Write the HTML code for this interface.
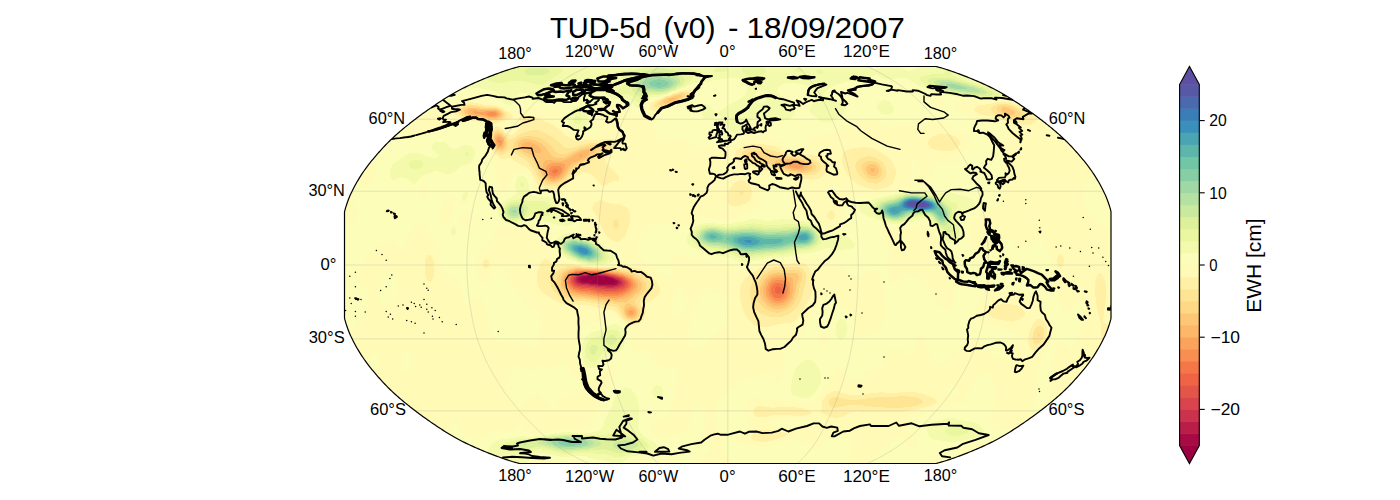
<!DOCTYPE html>
<html><head><meta charset="utf-8"><title>TUD-5d (v0) - 18/09/2007</title>
<style>
html,body{margin:0;padding:0;background:#fff;}
body{width:1400px;height:500px;overflow:hidden;}
svg{display:block;}
text{font-family:"Liberation Sans",sans-serif;fill:#000;}
</style></head><body>
<svg width="1400" height="500" viewBox="0 0 1400 500">
<defs><clipPath id="mapclip"><path d="M936.09,463.50 L937.44,463.16 L938.85,462.78 L940.30,462.38 L941.81,461.95 L943.36,461.48 L944.95,460.99 L946.59,460.47 L948.27,459.93 L949.99,459.35 L951.74,458.76 L953.54,458.13 L955.36,457.48 L957.22,456.81 L959.11,456.11 L961.02,455.39 L962.96,454.65 L964.93,453.89 L966.92,453.10 L968.93,452.30 L970.96,451.47 L973.01,450.63 L975.06,449.77 L977.13,448.89 L979.19,447.99 L981.25,447.08 L983.30,446.16 L985.33,445.23 L987.34,444.29 L989.32,443.34 L991.27,442.38 L993.18,441.41 L995.06,440.44 L996.90,439.46 L998.71,438.48 L1000.49,437.49 L1002.24,436.49 L1003.97,435.49 L1005.68,434.48 L1007.37,433.46 L1009.04,432.43 L1010.70,431.41 L1012.35,430.37 L1013.98,429.33 L1015.60,428.28 L1017.21,427.23 L1018.81,426.17 L1020.41,425.10 L1021.99,424.03 L1023.56,422.95 L1025.13,421.87 L1026.69,420.79 L1028.24,419.70 L1029.78,418.60 L1031.32,417.51 L1032.84,416.40 L1034.36,415.29 L1035.87,414.18 L1037.38,413.06 L1038.87,411.94 L1040.35,410.82 L1041.82,409.69 L1043.29,408.56 L1044.74,407.42 L1046.18,406.28 L1047.61,405.14 L1049.03,403.99 L1050.44,402.84 L1051.84,401.68 L1053.22,400.53 L1054.60,399.36 L1055.96,398.20 L1057.30,397.03 L1058.64,395.86 L1059.95,394.69 L1061.25,393.51 L1062.54,392.34 L1063.80,391.15 L1065.04,389.97 L1066.27,388.78 L1067.47,387.59 L1068.65,386.40 L1069.82,385.21 L1070.96,384.01 L1072.08,382.81 L1073.19,381.61 L1074.28,380.41 L1075.37,379.21 L1076.44,378.00 L1077.50,376.79 L1078.55,375.58 L1079.59,374.37 L1080.63,373.16 L1081.66,371.95 L1082.68,370.73 L1083.69,369.52 L1084.68,368.30 L1085.66,367.08 L1086.62,365.86 L1087.56,364.64 L1088.49,363.42 L1089.40,362.19 L1090.28,360.97 L1091.15,359.74 L1092.00,358.52 L1092.83,357.29 L1093.64,356.06 L1094.44,354.84 L1095.22,353.61 L1095.99,352.38 L1096.75,351.15 L1097.49,349.92 L1098.22,348.69 L1098.94,347.46 L1099.64,346.23 L1100.32,345.00 L1100.99,343.77 L1101.65,342.54 L1102.29,341.30 L1102.91,340.07 L1103.52,338.84 L1104.11,337.61 L1104.68,336.38 L1105.23,335.15 L1105.77,333.92 L1106.28,332.69 L1106.78,331.46 L1107.27,330.23 L1107.73,329.00 L1108.18,327.77 L1108.61,326.53 L1109.02,325.30 L1109.41,324.07 L1109.80,322.84 L1110.16,321.61 L1110.52,320.38 L1110.87,319.15 L1111.00,317.92 L1111.00,316.69 L1111.00,315.46 L1111.00,314.23 L1111.00,313.00 L1111.00,311.77 L1111.00,310.54 L1111.00,309.31 L1111.00,308.07 L1111.00,306.84 L1111.00,305.61 L1111.00,304.38 L1111.00,303.15 L1111.00,301.92 L1111.00,300.69 L1111.00,299.46 L1111.00,298.23 L1111.00,297.00 L1111.00,295.77 L1111.00,294.54 L1111.00,293.31 L1111.00,292.08 L1111.00,290.84 L1111.00,289.61 L1111.00,288.38 L1111.00,287.15 L1111.00,285.92 L1111.00,284.69 L1111.00,283.46 L1111.00,282.23 L1111.00,281.00 L1111.00,279.77 L1111.00,278.54 L1111.00,277.31 L1111.00,276.08 L1111.00,274.85 L1111.00,273.61 L1111.00,272.38 L1111.00,271.15 L1111.00,269.92 L1111.00,268.69 L1111.00,267.46 L1111.00,266.23 L1111.00,265.00 L1111.00,263.77 L1111.00,262.54 L1111.00,261.31 L1111.00,260.08 L1111.00,258.85 L1111.00,257.62 L1111.00,256.39 L1111.00,255.15 L1111.00,253.92 L1111.00,252.69 L1111.00,251.46 L1111.00,250.23 L1111.00,249.00 L1111.00,247.77 L1111.00,246.54 L1111.00,245.31 L1111.00,244.08 L1111.00,242.85 L1111.00,241.62 L1111.00,240.39 L1111.00,239.16 L1111.00,237.92 L1111.00,236.69 L1111.00,235.46 L1111.00,234.23 L1111.00,233.00 L1111.00,231.77 L1111.00,230.54 L1111.00,229.31 L1111.00,228.08 L1111.00,226.85 L1111.00,225.62 L1111.00,224.39 L1111.00,223.16 L1111.00,221.93 L1111.00,220.69 L1111.00,219.46 L1111.00,218.23 L1111.00,217.00 L1111.00,215.77 L1111.00,214.54 L1111.00,213.31 L1111.00,212.08 L1110.87,210.85 L1110.52,209.62 L1110.16,208.39 L1109.80,207.16 L1109.41,205.93 L1109.02,204.70 L1108.61,203.47 L1108.18,202.23 L1107.73,201.00 L1107.27,199.77 L1106.78,198.54 L1106.28,197.31 L1105.77,196.08 L1105.23,194.85 L1104.68,193.62 L1104.11,192.39 L1103.52,191.16 L1102.91,189.93 L1102.29,188.70 L1101.65,187.46 L1100.99,186.23 L1100.32,185.00 L1099.64,183.77 L1098.94,182.54 L1098.22,181.31 L1097.49,180.08 L1096.75,178.85 L1095.99,177.62 L1095.22,176.39 L1094.44,175.16 L1093.64,173.94 L1092.83,172.71 L1092.00,171.48 L1091.15,170.26 L1090.28,169.03 L1089.40,167.81 L1088.49,166.58 L1087.56,165.36 L1086.62,164.14 L1085.66,162.92 L1084.68,161.70 L1083.69,160.48 L1082.68,159.27 L1081.66,158.05 L1080.63,156.84 L1079.59,155.63 L1078.55,154.42 L1077.50,153.21 L1076.44,152.00 L1075.37,150.79 L1074.28,149.59 L1073.19,148.39 L1072.08,147.19 L1070.96,145.99 L1069.82,144.79 L1068.65,143.60 L1067.47,142.41 L1066.27,141.22 L1065.04,140.03 L1063.80,138.85 L1062.54,137.66 L1061.25,136.49 L1059.95,135.31 L1058.64,134.14 L1057.30,132.97 L1055.96,131.80 L1054.60,130.64 L1053.22,129.47 L1051.84,128.32 L1050.44,127.16 L1049.03,126.01 L1047.61,124.86 L1046.18,123.72 L1044.74,122.58 L1043.29,121.44 L1041.82,120.31 L1040.35,119.18 L1038.87,118.06 L1037.38,116.94 L1035.87,115.82 L1034.36,114.71 L1032.84,113.60 L1031.32,112.49 L1029.78,111.40 L1028.24,110.30 L1026.69,109.21 L1025.13,108.13 L1023.56,107.05 L1021.99,105.97 L1020.41,104.90 L1018.81,103.83 L1017.21,102.77 L1015.60,101.72 L1013.98,100.67 L1012.35,99.63 L1010.70,98.59 L1009.04,97.57 L1007.37,96.54 L1005.68,95.52 L1003.97,94.51 L1002.24,93.51 L1000.49,92.51 L998.71,91.52 L996.90,90.54 L995.06,89.56 L993.18,88.59 L991.27,87.62 L989.32,86.66 L987.34,85.71 L985.33,84.77 L983.30,83.84 L981.25,82.92 L979.19,82.01 L977.13,81.11 L975.06,80.23 L973.01,79.37 L970.96,78.53 L968.93,77.70 L966.92,76.90 L964.93,76.11 L962.96,75.35 L961.02,74.61 L959.11,73.89 L957.22,73.19 L955.36,72.52 L953.54,71.87 L951.74,71.24 L949.99,70.65 L948.27,70.07 L946.59,69.53 L944.95,69.01 L943.36,68.52 L941.81,68.05 L940.30,67.62 L938.85,67.22 L937.44,66.84 L936.09,66.50 L519.51,66.50 L518.16,66.84 L516.75,67.22 L515.30,67.62 L513.79,68.05 L512.24,68.52 L510.65,69.01 L509.01,69.53 L507.33,70.07 L505.61,70.65 L503.86,71.24 L502.06,71.87 L500.24,72.52 L498.38,73.19 L496.49,73.89 L494.58,74.61 L492.64,75.35 L490.67,76.11 L488.68,76.90 L486.67,77.70 L484.64,78.53 L482.59,79.37 L480.54,80.23 L478.47,81.11 L476.41,82.01 L474.35,82.92 L472.30,83.84 L470.27,84.77 L468.26,85.71 L466.28,86.66 L464.33,87.62 L462.42,88.59 L460.54,89.56 L458.70,90.54 L456.89,91.52 L455.11,92.51 L453.36,93.51 L451.63,94.51 L449.92,95.52 L448.23,96.54 L446.56,97.57 L444.90,98.59 L443.25,99.63 L441.62,100.67 L440.00,101.72 L438.39,102.77 L436.79,103.83 L435.19,104.90 L433.61,105.97 L432.04,107.05 L430.47,108.13 L428.91,109.21 L427.36,110.30 L425.82,111.40 L424.28,112.49 L422.76,113.60 L421.24,114.71 L419.73,115.82 L418.22,116.94 L416.73,118.06 L415.25,119.18 L413.78,120.31 L412.31,121.44 L410.86,122.58 L409.42,123.72 L407.99,124.86 L406.57,126.01 L405.16,127.16 L403.76,128.32 L402.38,129.47 L401.00,130.64 L399.64,131.80 L398.30,132.97 L396.96,134.14 L395.65,135.31 L394.35,136.49 L393.06,137.66 L391.80,138.85 L390.56,140.03 L389.33,141.22 L388.13,142.41 L386.95,143.60 L385.78,144.79 L384.64,145.99 L383.52,147.19 L382.41,148.39 L381.32,149.59 L380.23,150.79 L379.16,152.00 L378.10,153.21 L377.05,154.42 L376.01,155.63 L374.97,156.84 L373.94,158.05 L372.92,159.27 L371.91,160.48 L370.92,161.70 L369.94,162.92 L368.98,164.14 L368.04,165.36 L367.11,166.58 L366.20,167.81 L365.32,169.03 L364.45,170.26 L363.60,171.48 L362.77,172.71 L361.96,173.94 L361.16,175.16 L360.38,176.39 L359.61,177.62 L358.85,178.85 L358.11,180.08 L357.38,181.31 L356.66,182.54 L355.96,183.77 L355.28,185.00 L354.61,186.23 L353.95,187.46 L353.31,188.70 L352.69,189.93 L352.08,191.16 L351.49,192.39 L350.92,193.62 L350.37,194.85 L349.83,196.08 L349.32,197.31 L348.82,198.54 L348.33,199.77 L347.87,201.00 L347.42,202.23 L346.99,203.47 L346.58,204.70 L346.19,205.93 L345.80,207.16 L345.44,208.39 L345.08,209.62 L344.73,210.85 L344.50,212.08 L344.50,213.31 L344.50,214.54 L344.50,215.77 L344.50,217.00 L344.50,218.23 L344.50,219.46 L344.50,220.69 L344.50,221.93 L344.50,223.16 L344.50,224.39 L344.50,225.62 L344.50,226.85 L344.50,228.08 L344.50,229.31 L344.50,230.54 L344.50,231.77 L344.50,233.00 L344.50,234.23 L344.50,235.46 L344.50,236.69 L344.50,237.92 L344.50,239.16 L344.50,240.39 L344.50,241.62 L344.50,242.85 L344.50,244.08 L344.50,245.31 L344.50,246.54 L344.50,247.77 L344.50,249.00 L344.50,250.23 L344.50,251.46 L344.50,252.69 L344.50,253.92 L344.50,255.15 L344.50,256.39 L344.50,257.62 L344.50,258.85 L344.50,260.08 L344.50,261.31 L344.50,262.54 L344.50,263.77 L344.50,265.00 L344.50,266.23 L344.50,267.46 L344.50,268.69 L344.50,269.92 L344.50,271.15 L344.50,272.38 L344.50,273.61 L344.50,274.85 L344.50,276.08 L344.50,277.31 L344.50,278.54 L344.50,279.77 L344.50,281.00 L344.50,282.23 L344.50,283.46 L344.50,284.69 L344.50,285.92 L344.50,287.15 L344.50,288.38 L344.50,289.61 L344.50,290.84 L344.50,292.08 L344.50,293.31 L344.50,294.54 L344.50,295.77 L344.50,297.00 L344.50,298.23 L344.50,299.46 L344.50,300.69 L344.50,301.92 L344.50,303.15 L344.50,304.38 L344.50,305.61 L344.50,306.84 L344.50,308.07 L344.50,309.31 L344.50,310.54 L344.50,311.77 L344.50,313.00 L344.50,314.23 L344.50,315.46 L344.50,316.69 L344.50,317.92 L344.73,319.15 L345.08,320.38 L345.44,321.61 L345.80,322.84 L346.19,324.07 L346.58,325.30 L346.99,326.53 L347.42,327.77 L347.87,329.00 L348.33,330.23 L348.82,331.46 L349.32,332.69 L349.83,333.92 L350.37,335.15 L350.92,336.38 L351.49,337.61 L352.08,338.84 L352.69,340.07 L353.31,341.30 L353.95,342.54 L354.61,343.77 L355.28,345.00 L355.96,346.23 L356.66,347.46 L357.38,348.69 L358.11,349.92 L358.85,351.15 L359.61,352.38 L360.38,353.61 L361.16,354.84 L361.96,356.06 L362.77,357.29 L363.60,358.52 L364.45,359.74 L365.32,360.97 L366.20,362.19 L367.11,363.42 L368.04,364.64 L368.98,365.86 L369.94,367.08 L370.92,368.30 L371.91,369.52 L372.92,370.73 L373.94,371.95 L374.97,373.16 L376.01,374.37 L377.05,375.58 L378.10,376.79 L379.16,378.00 L380.23,379.21 L381.32,380.41 L382.41,381.61 L383.52,382.81 L384.64,384.01 L385.78,385.21 L386.95,386.40 L388.13,387.59 L389.33,388.78 L390.56,389.97 L391.80,391.15 L393.06,392.34 L394.35,393.51 L395.65,394.69 L396.96,395.86 L398.30,397.03 L399.64,398.20 L401.00,399.36 L402.38,400.53 L403.76,401.68 L405.16,402.84 L406.57,403.99 L407.99,405.14 L409.42,406.28 L410.86,407.42 L412.31,408.56 L413.78,409.69 L415.25,410.82 L416.73,411.94 L418.22,413.06 L419.73,414.18 L421.24,415.29 L422.76,416.40 L424.28,417.51 L425.82,418.60 L427.36,419.70 L428.91,420.79 L430.47,421.87 L432.04,422.95 L433.61,424.03 L435.19,425.10 L436.79,426.17 L438.39,427.23 L440.00,428.28 L441.62,429.33 L443.25,430.37 L444.90,431.41 L446.56,432.43 L448.23,433.46 L449.92,434.48 L451.63,435.49 L453.36,436.49 L455.11,437.49 L456.89,438.48 L458.70,439.46 L460.54,440.44 L462.42,441.41 L464.33,442.38 L466.28,443.34 L468.26,444.29 L470.27,445.23 L472.30,446.16 L474.35,447.08 L476.41,447.99 L478.47,448.89 L480.54,449.77 L482.59,450.63 L484.64,451.47 L486.67,452.30 L488.68,453.10 L490.67,453.89 L492.64,454.65 L494.58,455.39 L496.49,456.11 L498.38,456.81 L500.24,457.48 L502.06,458.13 L503.86,458.76 L505.61,459.35 L507.33,459.93 L509.01,460.47 L510.65,460.99 L512.24,461.48 L513.79,461.95 L515.30,462.38 L516.75,462.78 L518.16,463.16 L519.51,463.50Z"/></clipPath></defs>
<rect x="0" y="0" width="1400" height="500" fill="#fff"/>
<g clip-path="url(#mapclip)">
<rect x="340" y="60" width="780" height="410" fill="#fffab6"/>
<path d="M434,64 436,63 438,63 440,62 442,63 444,63 446,64 447,64 448,64 450,65 452,65 454,66 454,66 456,66 458,67 460,67 462,67 464,67 466,67 468,67 470,66 471,66 472,66 474,65 476,65 478,64 478,64 480,63 482,63 484,62 484,62 486,62 488,62 490,62 492,62 494,62 496,62 498,62 500,62 502,62 504,62 506,62 508,62 510,62 512,62 514,62 516,62 518,62 520,62 522,62 524,62 526,62 528,62 530,62 532,62 534,62 536,62 538,62 540,62 542,62 544,62 546,62 548,62 550,62 552,62 554,62 556,62 558,62 560,62 562,62 564,62 566,62 568,62 570,62 572,62 574,62 576,62 578,62 580,62 582,62 584,62 586,62 588,62 590,62 592,62 594,62 596,62 598,62 600,62 602,62 604,62 606,62 608,62 610,62 612,62 614,62 616,62 618,62 620,62 622,62 624,62 626,62 628,62 630,62 632,62 634,62 636,62 638,62 640,62 642,62 644,62 646,62 648,62 650,62 652,62 654,62 656,62 658,62 660,62 662,62 664,62 666,62 668,62 670,62 672,62 674,62 676,62 678,62 680,62 682,62 684,62 686,62 688,62 690,62 692,62 694,62 696,62 698,62 700,62 702,62 704,62 706,62 708,62 710,62 712,62 714,62 716,62 718,62 720,62 722,62 724,62 726,62 728,62 730,62 732,62 734,62 736,62 738,62 740,62 742,62 744,62 746,62 748,62 750,62 752,62 754,62 756,62 758,62 760,62 762,62 764,62 766,62 768,62 770,62 772,62 774,62 776,62 778,62 780,62 782,62 784,62 786,62 788,62 790,62 792,62 794,62 796,62 798,62 800,62 802,62 804,62 806,62 808,62 810,62 812,62 814,62 816,62 818,62 820,62 822,62 824,62 826,62 828,62 830,62 832,62 834,62 836,62 838,62 840,62 842,62 844,62 846,62 848,62 850,62 852,62 854,62 856,62 858,62 860,62 862,62 864,62 866,62 868,62 870,62 872,62 874,62 876,62 878,62 880,62 882,62 884,62 886,62 888,62 890,62 892,62 894,62 896,62 898,62 900,62 902,62 904,62 906,62 908,62 910,62 912,62 914,62 916,62 918,62 920,62 922,62 924,62 926,62 928,62 930,62 932,62 934,62 936,62 938,62 940,62 942,62 944,62 946,62 948,62 950,62 952,62 954,62 956,62 958,62 960,62 962,62 964,62 966,62 968,62 970,62 972,62 974,62 976,62 978,62 980,62 982,62 984,62 986,62 988,62 990,62 992,62 994,62 996,62 998,62 1000,62 1002,62 1004,62 1006,62 1008,62 1010,62 1012,62 1014,62 1016,62 1018,62 1020,62 1022,62 1024,62 1026,62 1028,62 1030,62 1032,62 1033,62 1034,63 1034,64 1036,66 1036,67 1036,68 1036,70 1036,71 1036,72 1036,74 1035,76 1035,78 1034,80 1034,80 1033,82 1032,82 1030,84 1030,84 1028,85 1026,86 1026,86 1024,87 1023,88 1022,89 1021,90 1020,92 1020,94 1020,94 1020,96 1019,98 1018,100 1018,100 1016,101 1014,101 1012,101 1010,100 1008,100 1006,100 1004,100 1002,100 1000,100 998,101 996,101 994,101 992,101 990,101 988,101 986,101 984,101 982,101 980,101 978,101 976,101 974,101 972,101 970,101 968,101 966,101 964,101 962,101 960,101 958,102 958,102 956,104 955,104 955,106 956,108 956,108 958,110 958,110 960,111 961,112 962,113 964,114 965,114 966,115 968,116 969,116 970,116 972,117 974,118 974,118 976,119 978,119 980,120 980,120 982,121 984,121 986,121 988,121 990,121 992,122 994,122 994,122 996,123 998,123 1000,124 1001,124 1002,124 1004,125 1005,126 1006,127 1008,128 1008,129 1008,130 1008,132 1008,133 1008,134 1007,136 1006,138 1006,138 1005,140 1004,142 1004,142 1003,144 1002,146 1002,148 1002,148 1002,150 1002,152 1002,154 1002,155 1002,156 1003,158 1003,160 1004,162 1004,162 1004,164 1005,166 1005,168 1005,170 1005,172 1005,174 1005,176 1004,178 1004,180 1004,182 1004,182 1004,184 1003,186 1003,188 1003,190 1003,192 1003,194 1003,196 1002,198 1002,200 1002,200 1001,202 1000,203 999,204 998,205 996,205 995,206 994,207 993,208 992,209 991,210 990,211 989,212 988,213 987,214 986,214 984,216 983,216 982,217 980,217 978,218 978,218 976,219 974,219 973,220 972,221 971,222 970,224 970,224 970,226 970,228 970,230 970,230 970,232 970,234 970,236 970,238 970,239 970,240 970,242 970,242 970,244 971,246 972,247 973,248 974,249 976,250 976,250 978,252 978,252 980,254 980,254 982,256 982,257 983,258 983,260 984,262 984,264 984,266 984,268 983,270 983,272 983,274 984,276 984,278 984,280 984,281 984,282 985,284 985,286 985,288 985,290 984,292 984,293 983,294 982,296 982,296 981,298 980,300 980,300 979,302 978,304 978,305 978,306 977,308 977,310 976,312 976,314 976,316 977,318 977,320 978,322 978,322 980,324 980,324 982,325 984,326 986,326 988,326 990,326 992,326 994,326 996,326 998,326 998,326 1000,326 1002,327 1004,327 1006,328 1007,328 1008,329 1010,330 1011,330 1012,331 1014,332 1014,332 1016,334 1016,335 1016,336 1017,338 1017,340 1017,342 1016,344 1016,345 1016,346 1015,348 1014,349 1013,350 1012,352 1012,352 1010,354 1010,354 1008,355 1007,356 1006,357 1004,358 1004,358 1002,359 1000,359 998,359 996,359 994,358 994,358 992,357 991,356 990,355 989,354 988,353 987,352 986,351 985,350 984,349 983,348 982,347 982,346 980,344 980,344 978,342 978,341 977,340 976,339 974,339 972,339 970,340 970,340 968,341 967,342 966,343 964,344 964,344 962,346 962,346 960,348 960,348 958,350 958,350 957,352 956,353 955,354 954,355 952,356 952,356 950,358 950,358 948,359 946,360 946,360 944,361 943,362 942,362 940,363 938,363 936,363 935,362 934,361 933,360 932,359 931,358 930,356 930,356 929,354 928,352 928,352 927,350 927,348 926,346 926,345 926,344 925,342 925,340 924,338 924,337 924,336 923,334 922,333 921,332 920,331 919,332 918,332 917,334 916,336 916,337 916,338 915,340 915,342 915,344 915,346 914,348 914,349 914,350 913,352 912,354 912,354 910,356 908,356 908,356 908,356 906,355 905,354 904,353 903,352 902,351 900,350 900,350 898,349 896,349 894,349 892,349 891,350 890,351 888,352 888,353 887,354 886,356 886,356 885,358 884,360 884,361 884,362 883,364 882,365 881,366 880,367 879,368 878,368 876,369 874,370 873,370 872,370 870,371 868,372 868,372 866,374 866,374 865,376 864,377 863,378 862,380 862,380 860,381 859,382 858,382 856,383 854,382 853,382 852,381 850,380 850,380 849,378 848,377 847,376 846,374 846,374 845,372 844,371 843,370 842,369 840,368 838,368 836,370 836,370 835,372 834,373 834,374 833,376 832,378 832,378 831,380 830,382 830,383 829,384 828,386 828,386 826,388 826,388 824,390 824,391 823,392 822,393 821,394 820,396 820,396 818,398 818,398 817,400 816,401 815,402 814,402 812,403 810,404 808,404 806,404 804,404 802,403 800,403 798,403 796,402 794,402 793,402 792,402 790,402 788,401 786,401 784,400 782,400 780,400 780,400 778,400 777,400 776,400 774,400 772,400 770,400 768,400 767,400 766,400 764,399 762,399 760,398 760,398 758,397 756,397 754,397 752,398 752,398 750,399 749,400 748,401 748,402 746,404 746,405 745,406 745,408 745,410 745,412 745,414 746,416 746,416 747,418 748,419 748,420 749,422 750,424 749,426 749,428 748,429 747,430 746,431 745,432 744,433 743,434 742,435 740,436 740,437 739,438 738,440 740,442 740,442 742,443 744,443 746,444 748,444 748,444 750,444 752,445 754,445 756,446 758,446 758,446 760,447 762,447 764,447 766,447 768,446 769,446 770,446 772,445 774,444 774,444 776,444 778,443 780,442 781,442 782,442 784,441 786,441 788,441 790,440 792,440 792,440 794,440 796,440 798,440 798,440 800,440 802,441 804,441 806,442 806,442 808,443 809,444 810,445 811,446 812,448 812,448 814,450 814,450 816,451 817,450 818,450 819,448 820,447 821,446 822,444 822,444 824,442 824,442 826,440 827,440 828,440 830,439 832,438 834,438 834,438 836,438 838,437 840,437 842,436 842,436 844,435 846,434 847,434 848,434 850,433 852,434 852,434 853,436 854,438 853,440 853,442 852,444 852,445 852,446 851,448 850,450 850,451 850,452 849,454 849,456 849,458 848,460 848,462 848,464 848,466 848,468 848,468 846,468 844,468 842,468 840,468 838,468 836,468 834,468 832,468 830,468 828,468 826,468 824,468 822,468 820,468 818,468 816,468 814,468 812,468 810,468 808,468 806,468 804,468 802,468 800,468 798,468 796,468 794,468 792,468 790,468 788,468 786,468 784,468 782,468 780,468 778,468 776,468 774,468 772,468 770,468 768,468 766,468 764,468 762,468 760,468 758,468 756,468 754,468 752,468 750,468 748,468 746,468 744,468 742,468 740,468 738,468 736,468 734,468 732,468 732,468 732,466 731,464 731,462 730,460 730,459 729,458 728,456 728,456 726,454 726,454 724,452 724,452 723,450 722,448 723,446 724,444 724,442 724,442 724,442 724,440 723,438 722,437 721,436 720,434 720,433 719,432 719,430 718,428 718,428 717,426 717,424 716,422 716,421 716,420 715,418 715,416 715,414 715,412 715,410 715,408 715,406 715,404 716,403 716,402 717,400 718,399 719,398 720,397 721,396 722,395 723,394 724,393 725,392 726,391 728,390 728,390 730,388 730,388 732,386 732,386 734,384 734,384 736,382 737,382 738,381 740,380 740,380 742,379 744,378 746,378 748,378 748,378 750,378 752,378 754,377 756,377 757,376 758,376 760,374 761,374 762,374 764,373 766,373 768,373 769,374 770,374 772,376 772,376 773,378 774,379 775,380 776,381 778,382 780,381 780,380 781,378 782,376 782,376 783,374 783,372 783,370 783,368 783,366 783,364 783,362 783,360 783,358 783,356 782,354 782,354 782,352 781,350 780,348 780,347 780,346 780,344 780,343 780,342 782,340 782,340 784,340 786,340 786,340 788,341 790,341 792,342 794,341 796,341 797,340 798,339 799,338 800,337 801,336 802,335 802,334 803,332 804,331 805,330 806,328 806,327 807,326 807,324 808,323 808,322 809,320 810,318 810,318 811,316 812,314 812,314 813,312 814,310 814,310 815,308 816,307 816,306 818,304 818,303 819,302 820,300 820,300 822,298 822,298 824,296 824,296 826,295 828,296 829,296 830,297 832,298 832,298 834,300 834,300 836,302 836,302 838,304 838,304 840,305 841,306 842,307 844,308 844,308 846,309 847,310 848,311 849,312 850,313 851,314 852,316 852,317 852,318 853,320 853,322 854,324 854,326 854,328 854,329 854,330 854,332 855,334 855,336 856,337 857,338 858,338 860,338 860,338 862,337 864,336 865,336 866,335 868,335 870,334 870,334 872,334 874,333 876,332 876,332 878,331 879,330 880,329 880,328 881,326 882,325 882,324 883,322 884,320 884,320 884,318 885,316 885,314 886,312 886,310 886,308 886,306 886,304 885,302 885,300 885,298 885,296 884,294 884,292 884,292 884,290 883,288 883,286 882,285 882,284 881,282 880,280 880,279 879,278 878,276 878,276 877,274 876,273 875,272 874,272 872,271 870,271 868,272 868,272 866,273 864,274 864,274 862,275 861,276 860,277 858,278 857,278 856,278 854,279 852,278 852,278 850,277 849,276 848,275 848,274 846,272 846,272 845,270 844,269 844,268 842,266 842,266 840,265 839,264 838,264 836,263 834,262 834,262 832,261 830,261 828,260 827,260 826,260 824,259 822,259 820,259 818,259 816,259 814,259 812,258 810,258 808,258 807,258 806,258 804,258 802,258 800,258 798,258 798,258 796,258 794,259 792,259 790,260 789,260 788,260 786,260 784,261 782,261 780,261 778,261 776,261 774,261 772,261 770,261 768,261 766,262 766,262 764,262 762,263 760,264 758,264 758,264 756,265 754,265 752,266 752,266 750,267 748,267 746,268 745,268 744,268 742,269 740,269 738,268 737,268 736,268 734,267 732,266 732,266 730,265 728,265 726,265 724,264 722,264 720,264 718,264 716,264 714,264 712,264 712,264 710,263 708,262 707,262 706,262 704,261 703,260 702,260 700,259 698,259 696,258 694,258 692,258 690,258 688,258 688,258 686,258 684,257 683,256 682,256 680,255 678,254 676,254 674,256 674,256 673,258 672,260 672,260 671,262 672,264 672,266 672,268 672,268 672,270 673,272 672,274 672,275 670,276 670,276 668,276 667,276 666,276 664,275 662,275 661,274 660,274 658,273 657,272 656,271 655,270 654,270 652,268 652,268 650,266 650,266 648,264 647,264 646,263 645,262 644,261 642,260 642,260 641,258 640,257 639,256 639,254 638,252 638,250 638,248 638,246 638,244 639,242 639,240 640,238 640,237 641,236 641,234 642,233 643,232 644,230 644,230 646,228 646,228 648,226 649,226 650,225 652,225 654,225 656,224 658,224 658,224 660,224 662,223 664,223 666,222 668,223 670,224 671,224 672,225 674,226 674,226 676,227 678,227 680,227 682,227 684,226 684,226 686,225 688,224 688,224 690,223 691,222 692,222 694,221 695,220 696,220 698,219 700,218 700,218 702,217 704,217 706,217 708,218 709,218 710,218 712,219 714,219 716,220 717,220 718,220 720,220 722,221 724,221 726,220 728,220 728,220 730,220 732,219 734,218 735,218 736,218 738,217 740,216 740,216 742,215 744,214 745,214 746,213 748,212 748,212 750,211 752,210 752,210 754,209 755,208 756,208 758,206 758,206 760,204 760,202 760,201 760,200 760,198 760,196 760,194 760,192 760,190 760,189 760,188 760,186 760,184 760,184 760,182 761,180 762,179 764,178 765,178 766,178 768,177 770,177 772,177 774,177 776,177 778,177 780,177 782,177 784,178 786,178 786,178 788,179 790,180 791,180 792,181 793,182 793,184 793,186 792,188 792,188 791,190 790,192 790,193 790,194 790,196 790,198 790,200 790,202 790,202 791,204 792,206 792,207 793,208 794,209 796,210 796,210 798,211 799,212 800,212 802,213 804,214 805,214 806,214 808,215 810,216 811,216 812,216 814,217 815,218 816,219 818,220 818,220 820,222 820,222 822,224 822,224 824,225 825,226 826,227 828,228 830,228 830,228 831,228 832,228 834,227 836,226 837,226 838,225 840,224 840,224 842,222 842,222 843,220 844,218 844,217 844,216 844,214 844,212 844,211 844,210 844,208 843,206 843,204 843,202 843,200 844,198 844,197 846,196 846,196 848,196 850,195 852,195 854,195 856,195 858,195 860,195 862,195 864,195 866,195 868,195 870,195 872,195 874,195 876,195 878,195 880,194 882,194 883,194 884,194 886,193 888,193 890,192 891,192 892,192 894,191 896,191 898,190 899,190 900,190 902,189 904,189 906,188 907,188 908,188 910,187 912,186 913,186 914,185 916,185 918,184 920,184 922,184 924,185 926,184 926,184 928,182 928,182 929,180 929,178 929,176 930,175 930,174 931,172 932,170 932,170 933,168 934,167 935,166 936,164 936,164 938,163 940,162 940,162 942,161 944,161 946,161 948,161 950,162 951,162 952,162 954,162 956,162 956,162 958,161 959,160 960,158 960,158 962,156 962,155 963,154 964,153 965,152 966,150 966,150 968,148 968,147 969,146 970,144 970,142 970,142 970,141 970,140 969,138 968,136 968,136 966,134 965,134 964,133 962,132 962,132 960,131 958,130 957,130 956,130 954,129 952,128 951,128 950,127 948,126 948,126 946,125 944,124 944,124 942,122 941,122 940,122 938,121 936,121 934,122 934,122 932,123 930,124 930,124 928,125 927,126 926,126 924,127 922,128 922,128 920,129 918,129 916,130 914,130 912,129 911,128 910,128 908,126 907,126 906,125 904,125 902,124 900,125 898,126 898,126 896,127 895,128 894,129 892,130 890,130 888,129 887,128 886,128 884,126 884,126 882,124 882,124 880,123 879,122 878,122 876,121 874,120 874,120 872,119 870,119 868,119 866,119 864,119 862,119 860,120 859,120 858,121 856,122 855,122 854,123 853,124 852,125 850,126 850,126 848,128 848,128 846,129 844,130 844,130 842,131 840,131 838,132 837,132 836,132 834,133 832,133 830,134 830,134 828,135 826,135 824,135 822,136 820,136 818,136 816,136 814,136 813,136 812,136 810,137 809,138 808,139 808,140 807,142 806,144 806,144 804,146 804,146 802,148 801,148 800,148 798,149 796,149 794,149 792,149 790,149 788,148 788,148 786,147 784,146 784,146 782,144 782,144 780,142 780,142 778,140 777,140 776,139 774,139 772,138 770,138 769,138 768,138 766,138 764,137 762,137 760,137 758,137 756,137 754,137 752,137 750,137 748,138 748,138 746,138 744,139 742,140 742,140 740,141 739,142 738,142 736,143 734,144 734,144 732,145 730,145 728,146 726,146 724,145 722,145 720,144 718,144 716,145 714,145 712,146 710,146 710,146 708,146 707,146 706,146 704,146 704,146 702,146 700,147 698,147 696,148 694,147 692,146 692,146 690,145 689,144 688,143 687,142 686,141 684,140 683,140 682,140 680,139 678,139 676,139 674,140 672,140 671,140 670,140 668,141 666,141 664,141 662,141 660,141 659,140 658,139 658,138 657,136 656,134 656,134 656,132 655,130 655,128 655,126 655,124 655,122 655,120 655,118 656,116 656,116 658,114 658,114 660,112 661,112 662,111 664,110 665,110 666,110 668,109 670,108 670,108 672,108 674,107 676,106 676,106 678,106 680,105 682,104 683,104 684,104 686,103 688,102 688,102 690,101 691,100 692,99 694,98 694,98 696,96 696,96 697,94 698,93 698,92 699,90 698,88 698,88 696,87 694,87 692,87 690,87 688,88 688,88 686,88 684,89 682,90 681,90 680,90 678,91 676,92 675,92 674,93 672,93 670,94 670,94 668,95 666,95 664,96 664,96 662,97 660,97 658,98 658,98 656,99 654,99 653,100 652,100 650,102 650,102 648,104 648,104 647,106 646,108 646,108 645,110 644,112 644,113 643,114 642,115 640,116 638,116 636,115 634,114 634,114 632,112 632,112 630,110 630,110 629,108 628,107 626,106 626,106 624,106 622,106 620,106 620,106 618,106 616,106 615,106 614,106 612,105 610,105 608,104 608,104 606,104 604,103 602,103 600,103 598,103 597,104 596,105 595,106 595,108 595,110 595,112 596,114 596,114 597,116 597,118 598,120 598,121 598,122 599,124 599,126 600,128 599,130 598,131 596,132 596,132 594,133 592,133 590,134 588,134 587,134 586,134 584,134 582,135 580,135 578,135 576,134 575,134 574,134 572,133 571,132 570,132 568,130 568,130 566,128 566,128 565,126 564,125 563,124 563,122 562,120 562,120 562,118 561,116 561,114 560,112 560,112 558,110 556,110 556,110 554,110 554,110 552,110 550,110 548,111 546,110 544,110 542,110 542,110 540,110 538,109 536,109 534,108 534,108 532,108 530,107 528,107 526,107 524,108 523,108 522,108 520,109 519,110 518,110 516,111 514,111 512,111 510,110 510,110 508,109 506,108 505,108 504,107 502,106 501,106 500,105 498,105 496,104 496,104 494,103 492,103 490,102 489,102 488,102 486,101 484,100 483,100 482,100 480,99 478,99 476,98 474,98 473,98 472,98 470,98 470,98 468,98 466,98 464,99 462,100 462,100 460,101 458,102 458,102 456,103 454,104 454,104 452,105 450,106 450,106 448,107 446,108 444,107 442,107 441,106 440,106 438,104 438,104 436,103 434,102 433,102 432,102 430,101 428,101 426,101 424,101 422,101 420,101 418,101 416,102 414,101 412,101 410,101 408,101 406,101 404,101 402,101 400,102 399,102 398,102 396,103 394,104 394,104 392,106 392,106 392,108 392,110 392,111 392,112 393,114 393,116 393,118 394,120 394,122 394,124 394,126 393,128 392,130 392,130 390,132 390,132 389,134 388,135 388,136 387,138 387,140 388,142 388,142 390,143 392,143 393,142 394,141 394,140 396,138 396,137 397,136 398,134 398,134 400,133 402,133 404,133 406,133 408,133 410,133 412,133 414,133 416,133 418,133 420,134 422,134 422,134 424,135 426,135 428,135 430,135 432,134 433,134 434,134 436,133 437,132 438,131 440,130 440,130 442,129 443,128 444,127 445,126 446,124 446,123 446,122 448,120 450,120 452,121 454,122 454,122 456,123 457,124 458,125 460,125 462,125 464,125 466,125 468,124 469,124 470,124 472,124 474,124 476,124 478,124 479,124 480,124 482,125 484,125 486,126 486,126 487,128 487,130 486,132 486,134 486,136 486,136 486,138 486,139 486,140 486,142 487,144 487,146 488,148 488,149 488,150 489,152 490,153 490,154 491,156 492,158 492,158 493,160 494,162 494,163 494,164 495,166 495,168 495,170 495,172 496,174 496,176 496,178 496,178 496,180 497,182 497,184 498,186 498,187 498,188 500,190 500,191 502,192 502,192 504,192 505,192 506,192 508,190 508,190 509,188 509,186 510,184 510,183 510,182 511,180 511,178 512,177 513,176 514,174 514,174 516,172 517,172 518,171 520,171 522,171 524,172 525,172 526,173 527,174 528,175 529,176 530,178 530,178 531,180 532,182 532,183 532,184 533,186 534,188 534,188 536,190 536,190 538,191 540,192 542,192 542,192 544,192 546,193 548,193 550,193 552,193 554,193 556,194 558,194 558,194 560,194 562,195 564,195 566,195 568,195 570,195 572,196 571,198 571,200 571,202 571,204 571,206 572,206 573,208 574,208 576,210 576,210 578,212 578,212 580,214 580,214 581,216 582,218 582,218 582,220 582,222 582,222 581,224 580,226 580,226 579,228 580,230 580,230 582,232 582,232 584,233 586,234 586,234 588,235 590,235 592,236 592,236 594,237 596,238 596,238 598,239 600,240 600,240 602,241 603,242 604,242 606,244 606,244 608,245 609,246 610,247 612,248 612,248 614,249 615,250 616,250 618,252 618,252 620,253 621,254 622,255 623,256 624,258 624,260 622,262 622,262 620,263 618,264 618,264 616,264 614,265 612,265 610,265 608,266 606,266 604,266 602,266 602,266 600,266 598,266 598,266 596,266 594,266 592,266 590,266 588,265 586,265 584,265 582,265 580,264 579,264 578,264 576,263 574,263 572,262 571,262 570,262 568,261 566,261 564,260 564,260 562,259 560,258 560,258 558,257 557,256 556,255 555,254 554,252 554,252 553,250 552,248 552,248 551,246 551,244 551,242 551,240 551,238 552,236 552,235 552,234 552,232 552,232 550,230 550,230 548,229 546,228 545,228 544,227 542,226 541,226 540,225 538,225 537,224 536,224 534,223 532,223 530,223 528,224 528,224 526,225 524,226 523,226 522,226 520,227 518,228 517,228 516,228 514,229 512,229 510,229 508,228 506,228 506,228 504,228 502,227 500,227 498,228 498,228 496,230 496,230 495,232 494,234 494,235 494,236 493,238 492,240 492,241 491,242 490,243 489,244 488,245 486,246 485,246 484,247 482,248 482,248 481,250 480,251 479,252 478,254 478,255 478,256 477,258 477,260 477,262 477,264 477,266 477,268 477,270 478,272 478,274 478,274 478,276 479,278 480,280 480,281 481,282 482,284 484,284 486,282 486,282 488,280 488,280 489,278 490,277 491,276 492,274 492,274 494,272 494,271 495,270 496,269 497,268 498,267 500,267 502,267 503,268 504,269 505,270 506,272 506,273 506,274 507,276 508,278 508,278 509,280 510,282 510,282 511,284 512,285 513,286 514,287 515,288 516,289 517,290 518,291 519,292 520,294 520,294 521,296 522,297 523,298 524,300 524,301 525,302 526,304 526,304 527,306 528,307 530,308 530,308 532,309 533,310 534,310 536,311 538,312 538,312 540,314 540,314 541,316 542,318 542,320 542,322 542,324 541,326 541,328 540,330 540,332 540,332 539,334 539,336 538,338 538,340 538,340 537,342 537,344 536,346 536,346 535,348 534,349 532,349 530,348 529,348 528,347 526,346 526,346 524,345 522,344 522,344 520,343 519,342 518,342 516,341 514,341 512,341 510,341 508,341 506,342 505,342 504,342 502,342 500,342 500,342 498,342 496,341 495,340 494,339 493,338 492,337 491,336 490,334 490,334 489,332 489,330 489,328 488,326 488,324 488,322 488,320 488,320 488,318 487,316 487,314 487,312 486,310 486,310 485,308 485,306 484,304 484,304 483,302 482,300 482,299 481,298 480,297 478,297 476,298 476,298 474,299 473,300 472,301 471,302 470,303 468,304 468,304 466,305 465,304 464,302 464,302 463,300 463,298 462,296 462,295 462,294 461,292 461,290 460,288 460,288 459,286 458,284 458,284 457,282 456,281 455,280 454,279 453,278 452,278 450,277 449,276 448,276 446,275 445,274 444,273 443,272 442,270 442,269 442,268 441,266 441,264 441,262 440,260 440,259 440,258 440,256 439,254 438,252 438,251 438,250 437,248 436,246 436,246 435,244 434,242 434,242 433,240 432,238 432,238 431,236 430,234 430,234 429,232 428,231 428,230 426,228 426,228 425,226 424,225 422,224 422,224 420,224 419,224 418,224 416,226 416,226 414,228 414,229 413,230 412,232 412,232 411,234 410,236 410,236 409,238 408,240 408,240 407,242 406,243 405,244 404,246 404,246 402,248 402,248 400,249 399,248 398,247 397,246 396,244 396,244 394,243 393,242 392,242 390,242 390,242 388,243 386,243 384,244 384,244 382,245 380,245 378,246 378,246 376,247 375,248 374,248 373,250 372,251 371,252 370,253 369,254 368,256 368,256 367,258 366,259 365,260 364,262 364,262 362,264 362,264 360,266 360,267 359,268 358,270 358,270 357,272 356,273 356,274 355,276 355,278 356,280 356,280 358,282 358,282 360,284 360,284 362,285 363,286 364,287 365,288 366,290 366,290 367,292 368,294 368,295 368,296 368,298 368,299 368,300 368,302 367,304 367,306 366,307 366,308 365,310 364,312 364,312 363,314 362,316 362,316 361,318 360,320 360,320 358,322 358,323 357,324 356,325 355,326 354,328 354,328 353,330 352,332 352,332 351,334 351,336 351,338 350,340 350,342 350,343 350,344 350,346 350,348 349,350 349,352 349,354 348,356 348,356 347,358 346,359 345,360 344,361 342,362 340,362 340,362 340,362 340,360 340,358 340,356 340,354 340,352 340,350 340,348 340,346 340,344 340,342 340,340 340,338 340,336 340,334 340,332 340,330 340,328 340,326 340,324 340,322 340,320 340,318 340,316 340,314 340,312 340,310 340,308 340,306 340,304 340,302 340,300 340,298 340,296 340,296 342,295 344,294 344,294 346,292 346,292 347,290 348,289 348,288 349,286 350,284 350,283 350,282 350,280 350,280 349,278 348,277 347,276 346,276 344,274 343,274 342,273 340,273 340,272 340,270 340,268 340,266 340,264 340,262 340,260 340,258 340,256 340,254 340,252 340,250 340,248 340,246 340,244 340,242 340,240 340,238 340,236 340,234 340,232 340,230 340,228 340,226 340,224 340,222 340,220 340,218 340,218 341,218 342,218 344,219 345,220 346,221 348,222 350,222 350,222 350,222 352,221 354,220 354,220 355,218 356,216 356,215 356,214 356,212 356,210 356,208 356,208 355,206 354,204 354,204 352,202 351,202 350,201 348,200 347,200 346,200 344,199 342,199 340,198 340,198 340,196 340,194 340,192 340,190 340,188 340,186 340,184 340,182 340,180 340,178 340,176 340,174 340,172 340,170 340,168 340,166 340,164 340,162 340,160 340,158 340,156 340,154 340,152 340,150 340,148 340,146 340,144 340,142 340,140 340,138 340,136 340,134 340,132 340,130 340,128 340,126 340,126 342,125 344,125 346,124 346,124 348,124 350,124 350,124 352,125 354,126 354,126 356,128 356,128 357,130 358,132 358,132 359,134 360,136 360,136 361,138 361,140 361,142 362,144 362,146 361,148 361,150 361,152 360,154 360,154 359,156 359,158 358,160 358,160 358,162 357,164 357,166 357,168 357,170 357,172 357,174 357,176 358,178 358,178 359,180 360,182 360,183 361,184 362,185 363,186 364,187 366,187 368,187 369,186 370,186 372,184 372,183 373,182 374,180 374,179 374,178 374,176 375,174 375,172 375,170 375,168 374,166 374,164 374,162 374,161 374,160 374,158 373,156 373,154 373,152 373,150 373,148 372,146 372,144 372,144 372,142 372,140 372,138 372,136 372,134 372,134 372,132 373,130 373,128 373,126 373,124 374,122 374,121 374,120 374,118 375,116 375,114 376,112 376,110 376,109 376,108 376,106 376,106 375,104 375,102 375,100 375,98 375,96 376,95 377,94 378,93 379,92 380,92 382,91 384,91 386,90 386,90 388,89 390,89 391,88 392,87 394,86 394,86 396,85 397,84 398,83 400,82 402,82 402,82 404,81 406,81 408,81 410,81 412,81 414,80 415,80 416,80 418,79 420,78 421,78 422,77 424,76 424,76 426,74 426,74 427,72 428,71 429,70 430,68 430,68 432,66 432,66 434,64ZM934,98 934,98 933,100 933,102 934,103 934,104 936,106 936,106 938,108 940,108 942,108 944,106 944,104 943,102 942,101 941,100 940,100 938,98 937,98 936,98ZM824,330 824,330 822,330 820,332 820,332 819,334 818,336 818,336 818,338 818,339 818,340 819,342 820,344 820,344 821,346 822,347 824,348 826,347 827,346 827,344 828,342 828,340 828,338 827,336 827,334 826,332 826,332 824,330ZM924,226 923,226 922,226 920,226 918,227 916,227 914,227 912,228 910,228 908,228 906,228 904,228 902,228 900,228 898,228 896,228 894,228 892,227 890,227 888,227 886,227 884,227 882,228 881,228 881,230 882,232 882,233 883,234 884,236 884,236 885,238 886,240 886,240 887,242 888,244 888,246 888,246 889,248 889,250 889,252 889,254 889,256 889,258 889,260 889,262 889,264 889,266 889,268 889,270 889,272 889,274 889,276 890,278 890,279 890,280 892,282 892,282 894,283 896,283 898,283 899,282 900,281 901,280 902,279 903,278 904,276 904,276 905,274 906,273 908,272 910,273 912,274 913,274 914,275 916,276 916,276 918,277 919,278 920,278 922,280 922,280 924,281 925,282 926,283 927,284 928,286 928,286 929,288 930,289 931,290 932,292 932,293 932,294 933,296 934,297 934,298 935,300 936,302 936,302 937,304 938,305 939,306 940,307 941,308 942,309 944,309 946,309 948,309 949,308 950,307 951,306 952,304 952,304 953,302 954,300 954,298 954,298 954,296 955,294 955,292 955,290 955,288 956,286 956,284 956,284 956,282 957,280 957,278 957,276 958,274 958,274 958,272 959,270 959,268 959,266 959,264 958,262 958,262 956,260 956,260 954,259 953,258 952,257 952,256 950,254 950,254 949,252 948,251 947,250 946,249 945,248 944,247 943,246 942,245 941,244 940,243 939,242 938,241 937,240 936,238 936,238 934,236 934,235 933,234 932,233 931,232 930,230 930,230 928,228 928,227 926,226 924,226ZM424,186 424,186 422,188 422,188 421,190 421,192 421,194 421,196 422,198 422,198 424,200 426,198 426,198 427,196 427,194 427,192 427,190 427,188 426,187 425,186ZM452,196 451,196 450,196 448,198 448,198 446,200 446,200 445,202 444,203 444,204 443,206 442,207 442,208 441,210 440,212 440,214 440,216 440,218 441,220 442,222 442,222 444,224 446,224 448,222 448,222 450,220 450,219 451,218 452,216 452,216 454,214 454,212 454,210 453,208 453,206 453,204 453,202 453,200 453,198 452,196ZM470,212 469,212 468,212 466,213 464,214 463,214 462,215 460,216 460,216 459,218 460,220 460,221 461,222 461,224 462,226 462,226 464,228 464,229 466,228 466,228 468,227 469,226 470,224 470,224 471,222 472,220 472,220 472,218 472,216 472,215 472,214 470,212ZM1043,64 1044,63 1045,62 1046,62 1048,62 1050,62 1052,62 1054,62 1056,62 1058,62 1060,62 1062,62 1064,62 1066,62 1068,62 1070,62 1072,62 1074,62 1076,62 1078,62 1080,62 1082,62 1084,62 1086,62 1088,62 1090,62 1092,62 1093,62 1094,62 1096,63 1098,63 1100,64 1100,64 1102,66 1102,66 1103,68 1104,70 1103,72 1103,74 1102,75 1101,76 1100,78 1100,78 1100,78 1098,77 1096,76 1096,76 1094,75 1092,75 1090,75 1089,76 1088,77 1087,78 1086,79 1086,80 1084,82 1084,83 1083,84 1082,86 1082,87 1081,88 1080,89 1078,90 1078,90 1077,90 1076,90 1074,90 1072,89 1070,89 1068,89 1066,89 1064,89 1062,88 1062,88 1060,87 1058,86 1058,86 1056,84 1055,84 1054,83 1053,82 1052,81 1051,80 1050,79 1049,78 1048,77 1047,76 1046,75 1046,74 1044,72 1044,72 1043,70 1042,68 1042,66ZM1102,86 1102,85 1104,86 1104,86 1106,87 1108,88 1108,88 1110,89 1112,90 1113,90 1114,90 1116,90 1116,92 1116,94 1116,96 1116,98 1116,100 1116,102 1116,104 1116,106 1116,108 1116,110 1116,112 1116,114 1116,116 1116,118 1116,120 1116,122 1116,124 1116,126 1116,128 1116,130 1116,132 1116,134 1116,135 1114,135 1112,135 1110,135 1108,136 1107,136 1106,136 1104,137 1103,138 1102,138 1100,140 1100,140 1098,141 1096,142 1094,142 1092,141 1090,140 1090,140 1088,139 1087,138 1086,137 1085,136 1084,134 1084,134 1083,132 1082,130 1082,128 1082,128 1082,126 1082,124 1082,123 1082,122 1083,120 1083,118 1084,116 1084,116 1086,114 1086,113 1088,112 1088,112 1090,111 1092,111 1094,111 1096,110 1096,110 1098,108 1098,108 1099,106 1100,104 1100,104 1100,102 1101,100 1101,98 1101,96 1101,94 1101,92 1101,90 1101,88ZM505,124 506,124 508,123 510,123 512,124 513,124 513,126 513,128 512,129 510,130 510,130 509,130 508,130 506,128 505,128 504,126 504,126 504,125ZM912,160 912,160 914,159 915,160 916,161 917,162 918,164 918,165 918,166 919,168 919,170 920,172 920,174 919,176 918,177 916,177 916,176 914,174 914,174 913,172 912,170 912,169 912,168 911,166 911,164 911,162ZM1090,178 1092,177 1094,177 1096,177 1098,177 1100,178 1100,178 1102,179 1104,180 1104,180 1106,181 1108,182 1109,182 1110,182 1112,183 1114,183 1116,183 1116,184 1116,186 1116,188 1116,190 1116,192 1116,194 1116,196 1116,198 1116,200 1116,202 1116,204 1116,206 1116,208 1116,210 1116,212 1116,214 1116,216 1116,218 1116,220 1116,222 1116,224 1116,226 1116,228 1116,230 1116,231 1114,231 1112,230 1111,230 1110,229 1108,228 1108,228 1106,227 1105,226 1104,226 1102,225 1101,224 1100,224 1098,223 1097,222 1096,222 1094,220 1094,220 1092,218 1092,218 1090,216 1090,216 1089,214 1088,213 1088,212 1087,210 1086,209 1086,208 1085,206 1084,204 1084,203 1084,202 1083,200 1083,198 1083,196 1083,194 1083,192 1083,190 1083,188 1084,186 1084,185 1085,184 1086,182 1086,182 1087,180 1088,179 1090,178ZM834,182 834,182 836,181 837,182 838,183 838,184 839,186 839,188 839,190 838,192 836,192 836,192 836,192 834,191 833,190 832,188 832,186 833,184ZM1010,238 1010,238 1010,238 1012,239 1012,240 1013,242 1014,243 1014,244 1016,246 1016,247 1017,248 1018,248 1020,248 1021,248 1022,247 1024,246 1024,246 1026,245 1027,244 1028,243 1030,242 1030,242 1032,240 1033,240 1034,240 1036,239 1038,239 1040,239 1041,240 1042,240 1044,242 1044,242 1045,244 1046,245 1047,246 1048,248 1048,248 1049,250 1050,252 1050,252 1051,254 1052,256 1052,258 1052,258 1052,260 1053,262 1053,264 1053,266 1053,268 1054,270 1054,270 1054,272 1055,274 1056,276 1056,276 1057,278 1057,280 1058,282 1058,284 1057,286 1057,288 1057,290 1057,292 1058,294 1058,295 1058,296 1059,298 1059,300 1059,302 1060,304 1060,304 1061,306 1062,308 1062,309 1063,310 1064,312 1065,312 1066,312 1067,312 1068,312 1070,310 1070,310 1072,308 1072,308 1074,306 1074,306 1075,304 1076,303 1077,302 1078,301 1080,300 1082,300 1084,302 1084,302 1085,304 1086,306 1086,308 1086,310 1085,312 1085,314 1085,316 1084,318 1084,318 1083,320 1083,322 1082,324 1082,325 1082,326 1081,328 1080,330 1080,331 1079,332 1079,334 1078,336 1078,336 1077,338 1077,340 1076,342 1076,342 1075,344 1074,346 1074,347 1073,348 1072,350 1072,350 1070,350 1070,350 1068,348 1068,348 1067,346 1066,345 1065,344 1064,342 1064,342 1062,341 1060,341 1059,342 1058,343 1057,344 1056,346 1056,347 1055,348 1055,350 1054,352 1054,353 1054,354 1053,356 1053,358 1053,360 1053,362 1053,364 1052,366 1052,368 1053,370 1053,372 1053,374 1053,376 1053,378 1053,380 1052,382 1052,384 1052,385 1052,386 1051,388 1051,390 1050,392 1050,394 1050,395 1050,396 1050,398 1050,400 1050,401 1050,402 1051,404 1051,406 1052,408 1052,409 1052,410 1053,412 1053,414 1054,416 1054,416 1055,418 1056,420 1056,421 1057,422 1058,423 1059,424 1060,425 1062,426 1062,426 1064,427 1066,427 1068,427 1070,428 1071,428 1072,428 1074,429 1076,429 1078,430 1078,430 1080,431 1082,432 1082,432 1084,433 1085,434 1086,435 1087,436 1088,438 1088,440 1087,442 1086,444 1086,444 1084,446 1084,446 1082,448 1082,448 1081,450 1080,451 1079,452 1078,453 1078,454 1076,456 1076,456 1074,458 1074,459 1073,460 1072,461 1071,462 1070,463 1068,464 1066,463 1065,462 1064,461 1062,460 1062,460 1060,458 1060,458 1058,457 1056,456 1056,456 1054,455 1052,454 1051,454 1050,454 1048,453 1046,452 1045,452 1044,452 1042,452 1040,451 1038,451 1036,451 1034,451 1032,452 1030,452 1028,452 1027,452 1026,452 1024,452 1022,452 1020,452 1019,452 1018,452 1016,451 1014,451 1012,450 1012,450 1010,449 1008,448 1008,448 1006,447 1005,446 1004,446 1002,445 1001,444 1000,444 998,443 996,442 994,442 994,442 992,442 990,442 988,442 988,442 986,442 984,443 982,443 980,443 978,444 977,444 976,444 974,445 972,445 970,445 968,446 967,446 966,447 964,447 963,448 962,449 961,450 960,451 960,452 959,454 958,456 958,456 957,458 957,460 957,462 956,464 956,466 956,468 956,468 954,468 952,468 950,468 948,468 947,468 947,466 947,464 946,462 946,461 946,460 945,458 944,457 943,456 942,455 940,454 940,454 938,454 937,454 936,454 934,455 933,456 932,457 931,458 930,459 930,460 929,462 928,464 928,466 928,466 928,468 926,468 924,468 922,468 920,468 918,468 916,468 914,468 912,468 910,468 908,468 906,468 904,468 902,468 900,468 898,468 896,468 894,468 892,468 890,468 888,468 886,468 884,468 882,468 880,468 878,468 876,468 874,468 872,468 872,468 872,466 872,466 872,464 873,462 873,460 874,458 874,458 875,456 876,455 877,454 878,453 879,452 880,451 881,450 882,449 884,448 884,448 886,446 886,446 888,445 889,444 890,443 892,442 892,442 894,440 895,440 896,439 898,438 898,438 900,437 902,437 904,437 905,438 906,440 906,441 906,442 907,444 908,446 908,447 909,448 910,449 912,450 914,449 914,448 916,446 916,445 916,444 916,442 916,441 916,440 915,438 914,436 914,436 912,434 912,434 910,432 909,432 908,430 908,430 908,428 908,426 908,424 908,422 908,422 909,420 910,418 910,418 912,417 914,416 915,416 916,416 918,415 920,415 922,414 922,414 924,413 926,413 928,412 928,412 930,412 932,411 934,411 936,411 938,410 938,410 940,409 942,409 943,408 944,408 946,406 947,406 948,405 950,404 950,404 952,402 954,402 954,401 956,402 956,402 958,403 960,403 962,403 964,402 964,402 965,400 966,398 966,398 966,396 967,394 967,392 968,391 968,390 969,388 970,387 971,386 972,384 972,384 973,382 974,380 974,380 976,378 976,378 977,376 978,375 980,374 980,374 982,373 984,372 986,372 988,373 989,374 990,375 991,376 992,378 992,378 993,380 993,382 994,384 994,384 994,386 995,388 995,390 995,392 995,394 995,396 995,398 995,400 995,402 994,404 994,405 994,406 993,408 992,410 992,411 992,412 991,414 990,416 990,417 990,418 990,419 990,420 992,422 992,422 994,424 994,424 996,425 997,426 998,426 1000,427 1002,428 1002,428 1004,428 1006,428 1008,428 1009,428 1010,428 1012,428 1014,427 1016,427 1018,427 1020,426 1021,426 1022,426 1024,425 1026,424 1026,424 1028,423 1029,422 1030,420 1030,420 1031,418 1031,416 1032,414 1032,412 1032,412 1032,410 1033,408 1033,406 1034,404 1034,403 1034,402 1035,400 1035,398 1036,396 1036,396 1037,394 1037,392 1037,390 1038,388 1038,386 1038,384 1038,384 1038,382 1038,380 1038,378 1038,376 1038,374 1038,372 1038,370 1038,368 1038,366 1039,364 1039,362 1040,360 1040,359 1040,358 1042,356 1042,355 1043,354 1044,352 1044,352 1046,350 1046,349 1047,348 1048,346 1048,346 1050,344 1050,343 1051,342 1052,340 1052,338 1052,338 1053,336 1053,334 1053,332 1053,330 1053,328 1053,326 1053,324 1052,322 1052,322 1051,320 1050,318 1050,318 1049,316 1048,315 1047,314 1046,312 1046,312 1044,310 1044,309 1044,308 1043,306 1042,304 1042,303 1042,302 1042,300 1041,298 1041,296 1040,294 1040,293 1039,292 1038,291 1036,290 1034,290 1032,291 1030,292 1030,292 1028,294 1028,294 1026,295 1025,296 1024,296 1022,297 1020,297 1018,296 1017,296 1016,296 1014,295 1012,294 1011,294 1010,294 1008,294 1006,294 1004,294 1002,294 1002,294 1001,294 1000,294 998,294 996,293 995,292 994,291 993,290 992,288 992,286 992,284 992,282 992,280 992,278 992,276 992,274 992,273 992,272 991,270 991,268 991,266 990,264 990,264 989,262 989,260 989,258 989,256 989,254 990,252 990,252 992,250 992,250 994,248 995,248 996,248 998,247 1000,246 1000,246 1002,245 1003,244 1004,243 1005,242 1006,241 1007,240 1008,239ZM389,272 390,271 392,271 394,271 394,272 396,274 396,274 397,276 397,278 398,280 398,281 398,282 398,284 398,286 398,288 398,290 398,292 398,292 398,294 397,296 396,298 396,298 395,300 394,301 393,302 392,303 391,304 390,305 388,305 386,305 384,305 383,304 382,303 381,302 380,300 380,300 379,298 379,296 378,294 378,292 378,290 378,288 379,286 379,284 380,282 380,282 381,280 382,278 382,278 384,276 384,276 386,274 386,274 388,272ZM678,288 678,288 679,288 680,288 682,290 682,290 683,292 684,293 685,294 686,296 686,297 686,298 687,300 688,302 688,304 688,306 687,308 686,309 685,310 684,312 684,312 682,314 682,314 680,316 679,316 678,317 676,317 675,316 674,315 673,314 673,312 672,310 672,310 672,308 672,306 671,304 672,302 672,300 672,300 673,298 673,296 674,294 674,294 675,292 676,290 676,289ZM705,288 706,287 708,287 710,287 712,288 712,288 714,290 714,290 716,291 717,292 718,293 719,294 720,295 721,296 722,297 723,298 724,300 724,300 725,302 726,304 726,304 727,306 727,308 727,310 728,312 728,314 727,316 727,318 727,320 726,322 726,322 725,324 724,326 724,326 722,328 722,328 720,330 720,330 718,331 717,332 716,333 716,334 714,336 714,336 712,338 712,338 710,340 710,340 708,342 708,342 706,344 706,344 704,346 704,346 702,347 701,348 700,348 698,349 696,349 694,348 694,348 692,347 691,346 690,344 690,344 689,342 689,340 688,338 688,336 688,334 689,332 689,330 689,328 689,326 689,324 690,322 690,320 690,320 690,318 690,316 691,314 691,312 691,310 692,309 692,308 694,306 694,306 695,304 696,304 697,302 698,301 699,300 700,299 700,298 701,296 702,295 702,294 703,292 704,290 704,290ZM607,318 608,317 610,317 612,316 614,317 616,318 616,318 618,319 619,320 620,321 621,322 622,323 624,324 624,324 626,326 626,326 628,328 628,328 630,330 630,331 631,332 631,334 632,336 632,338 632,340 632,342 632,344 632,346 632,348 631,350 631,352 632,354 634,354 636,353 638,352 638,352 640,351 642,350 643,350 644,350 646,350 647,350 648,350 649,352 650,353 650,354 651,356 652,358 652,358 654,360 654,361 655,362 656,363 658,364 658,364 660,365 662,366 662,366 664,367 666,367 668,367 670,367 672,367 674,367 676,368 676,368 678,370 678,370 679,372 679,374 679,376 679,378 678,380 678,382 678,382 678,384 677,386 676,388 676,389 676,390 675,392 674,394 674,395 674,396 673,398 673,400 672,402 672,402 671,404 671,406 670,408 670,409 670,410 669,412 668,414 668,414 667,416 666,417 665,418 664,419 662,420 660,420 658,420 657,420 656,420 654,422 654,422 652,424 652,424 651,426 651,428 651,430 651,432 652,433 654,434 654,434 656,435 658,436 659,436 660,436 662,436 664,436 666,436 668,436 668,436 670,436 672,435 674,435 676,435 678,435 680,434 681,434 682,434 684,433 686,432 686,432 688,430 688,430 689,428 690,426 690,425 690,424 691,422 691,420 691,418 691,416 692,414 692,412 692,410 692,410 693,408 693,406 694,405 696,404 698,405 699,406 700,407 701,408 702,409 703,410 704,412 704,413 704,414 705,416 705,418 705,420 704,422 704,424 704,424 704,426 703,428 703,430 703,432 703,434 704,436 704,437 705,438 706,440 706,440 708,442 708,443 709,444 710,446 710,446 711,448 710,450 710,451 709,452 708,453 707,454 706,455 704,456 704,456 702,458 702,458 700,459 699,460 698,461 697,462 696,464 696,464 695,466 695,468 694,468 692,468 690,468 688,468 686,468 684,468 682,468 680,468 678,468 678,468 677,466 676,464 676,464 674,462 674,462 672,461 670,460 670,460 668,460 666,459 664,460 662,460 662,460 660,461 658,462 656,462 656,462 654,463 652,463 650,462 649,462 648,462 646,461 644,461 642,461 640,461 638,461 636,461 634,461 632,462 632,462 630,463 630,464 628,466 628,466 627,468 626,468 624,468 622,468 620,468 618,468 616,468 614,468 612,468 610,468 608,468 606,468 604,468 602,468 600,468 598,468 596,468 594,468 592,468 590,468 588,468 587,468 587,466 586,465 585,464 584,464 582,463 580,462 578,462 576,462 574,463 572,463 570,464 568,464 568,464 566,464 564,464 562,464 561,464 560,464 558,463 556,462 556,462 554,461 552,461 550,460 550,460 548,459 546,459 544,459 542,459 540,460 540,460 538,461 537,462 536,464 536,464 535,466 535,468 534,468 532,468 530,468 528,468 526,468 524,468 522,468 520,468 518,468 516,468 514,468 512,468 510,468 508,468 506,468 504,468 502,468 500,468 498,468 496,468 494,468 492,468 490,468 488,468 486,468 484,468 482,468 480,468 478,468 476,468 474,468 472,468 470,468 468,468 466,468 464,468 462,468 460,468 458,468 456,468 454,468 453,468 453,466 453,464 452,462 452,460 452,460 451,458 451,456 450,454 450,454 449,452 448,451 448,450 447,448 447,446 447,444 447,442 448,440 448,438 448,438 449,436 449,434 449,432 450,430 450,429 450,428 451,426 452,424 452,424 454,422 454,422 456,421 457,422 458,423 459,424 460,426 460,427 460,428 461,430 462,432 462,432 463,434 464,435 465,436 466,437 468,438 468,438 470,439 472,439 474,439 476,439 478,439 480,439 482,438 483,438 484,437 486,437 487,436 488,435 490,434 490,434 491,432 492,431 493,430 494,429 496,429 498,429 500,430 500,430 502,431 504,431 506,432 508,432 510,432 512,431 514,430 514,430 516,428 516,428 518,426 518,425 519,424 520,422 521,424 522,425 522,426 524,428 524,428 525,430 526,431 528,432 528,432 530,433 532,433 534,434 536,434 538,434 540,433 542,433 544,433 546,432 547,432 548,432 550,431 552,430 554,430 554,430 556,429 558,429 560,429 562,429 564,429 566,429 568,429 570,429 572,430 574,430 576,430 578,429 580,429 582,429 584,428 586,428 586,428 588,426 589,426 590,424 590,423 590,422 591,420 592,418 592,418 593,416 594,414 594,413 595,412 596,410 596,410 597,408 598,406 598,406 599,404 600,403 600,402 601,400 602,398 602,398 603,396 604,394 604,394 605,392 606,390 606,390 607,388 608,387 609,386 610,384 610,384 611,382 612,381 613,380 614,378 614,378 615,376 616,374 616,374 617,372 618,370 618,369 618,368 618,366 618,366 616,364 615,364 614,364 612,364 612,364 610,365 609,366 608,367 607,368 606,370 606,370 604,372 604,372 602,374 602,374 600,376 600,376 598,377 596,378 596,378 594,379 592,379 590,379 588,379 586,378 586,378 584,377 583,376 582,374 582,374 581,372 580,370 580,370 579,368 578,366 578,365 578,364 577,362 577,360 576,358 576,356 576,356 576,354 575,352 575,350 575,348 576,346 576,344 576,344 576,342 577,340 577,338 578,337 578,336 579,334 580,332 580,332 581,330 582,329 583,328 584,326 585,326 586,325 588,324 588,324 590,323 592,323 594,323 596,322 598,322 598,322 600,321 602,321 604,320 604,320 606,319ZM656,334 656,333 658,332 660,333 662,334 662,334 663,336 662,338 662,338 660,339 658,339 656,339 656,338 655,336ZM404,350 406,349 408,350 409,350 410,351 410,352 412,354 412,355 412,356 413,358 413,360 413,362 413,364 412,366 412,366 411,368 410,370 410,370 408,371 406,372 404,371 403,370 402,369 402,368 401,366 401,364 401,362 402,360 402,358 402,357 402,356 403,354 403,352 404,350ZM371,354 372,353 374,352 376,353 377,354 378,355 379,356 379,358 380,360 380,360 380,362 380,363 380,364 379,366 378,367 377,368 376,369 375,370 374,371 372,372 372,372 370,373 368,373 366,372 366,372 365,370 365,368 365,366 366,364 366,363 366,362 367,360 368,359 369,358 370,356 370,356ZM561,362 562,362 562,362 564,363 565,364 566,365 567,366 568,368 568,368 569,370 570,371 571,372 572,374 572,374 574,376 574,376 576,378 576,378 578,380 578,380 580,382 580,382 581,384 582,386 582,388 582,390 581,392 580,393 578,394 576,394 575,394 574,394 572,394 570,395 568,395 566,396 566,396 564,397 563,398 562,399 561,400 560,401 559,402 558,404 558,404 556,406 556,406 554,408 552,408 550,407 549,406 548,405 547,404 546,403 545,402 544,401 543,400 542,398 542,398 540,396 540,395 538,394 538,394 537,394 536,394 534,396 534,396 532,397 531,398 530,399 528,400 528,400 526,402 526,402 524,404 524,404 522,406 522,406 520,407 519,406 518,406 517,404 516,403 515,402 514,401 513,400 512,398 512,398 511,396 510,395 510,394 509,392 508,390 508,390 508,388 507,386 507,384 507,382 507,380 508,378 508,376 508,376 509,374 510,372 510,371 511,370 512,368 512,368 514,366 514,366 516,365 518,365 520,365 521,366 522,367 523,368 524,369 526,370 526,370 528,371 530,372 532,371 533,370 534,368 534,368 535,366 536,365 538,364 540,365 541,366 542,367 544,368 544,368 546,369 548,369 550,369 552,368 552,368 554,367 555,366 556,365 557,364 558,363 560,362ZM1098,376 1100,375 1102,375 1104,375 1106,375 1108,375 1110,375 1112,375 1114,374 1116,374 1116,376 1116,378 1116,380 1116,382 1116,384 1116,386 1116,388 1116,390 1116,392 1116,394 1116,396 1116,398 1116,400 1116,402 1116,404 1116,406 1116,408 1116,410 1116,412 1116,414 1116,416 1116,418 1116,420 1116,422 1116,424 1116,426 1116,428 1116,430 1116,432 1116,434 1116,436 1116,438 1116,440 1116,442 1116,444 1116,446 1116,448 1116,450 1116,452 1116,453 1114,452 1113,452 1112,452 1110,450 1110,450 1108,448 1108,448 1107,446 1106,445 1106,444 1105,442 1104,440 1104,438 1104,436 1105,434 1105,432 1106,430 1106,429 1107,428 1107,426 1108,424 1108,424 1109,422 1109,420 1110,418 1110,416 1110,416 1110,414 1110,413 1110,412 1109,410 1108,409 1106,408 1106,408 1104,407 1102,407 1100,407 1098,406 1096,406 1096,406 1094,405 1093,404 1092,403 1091,402 1090,400 1090,400 1089,398 1089,396 1089,394 1089,392 1089,390 1090,388 1090,388 1091,386 1092,384 1092,383 1093,382 1094,380 1094,380 1096,378 1096,378 1098,376ZM945,388 946,388 948,387 950,386 952,386 954,387 956,388 956,388 958,390 958,390 959,392 959,394 958,396 958,396 956,398 955,398 954,399 953,398 952,398 950,396 950,396 948,394 948,394 946,392 946,392 945,390ZM353,390 354,390 356,389 358,389 359,390 360,391 360,392 361,394 362,396 362,396 363,398 363,400 364,402 364,402 365,404 366,406 366,406 367,408 368,410 368,410 370,412 370,413 371,414 371,416 372,418 372,420 372,420 372,421 372,422 372,424 371,426 370,427 369,428 368,429 366,429 365,428 364,428 362,426 362,426 360,424 360,424 358,422 358,422 356,420 356,420 354,419 352,418 351,418 350,418 348,417 346,416 344,416 344,416 342,416 340,415 340,414 340,412 340,410 340,408 340,406 340,404 340,402 340,400 340,398 340,398 342,397 344,397 345,396 346,395 348,394 348,394 350,392 351,392 352,391ZM774,420 774,420 776,419 778,419 780,419 782,419 784,418 786,418 788,418 790,419 792,419 794,419 796,419 798,419 800,420 802,420 804,420 806,420 808,420 810,419 812,419 814,419 816,419 818,419 820,419 822,420 822,420 824,422 824,422 824,422 823,424 822,425 820,426 818,426 816,426 814,426 812,426 810,425 808,425 806,425 804,425 802,426 801,426 800,426 798,427 796,427 794,428 792,428 792,428 790,428 788,428 786,428 784,428 782,428 780,428 780,428 778,428 776,427 774,426 773,426 772,425 771,424 771,422 772,421Z" fill="#fbfdb8" fill-rule="evenodd"/>
<path d="M496,64 496,64 498,63 500,63 502,63 504,63 506,63 508,63 510,63 512,62 514,62 514,62 516,62 518,62 520,62 522,62 524,62 526,62 528,62 530,62 532,62 534,62 536,62 538,62 540,62 542,62 544,62 546,62 548,62 550,62 552,62 554,62 556,62 558,62 560,62 562,62 564,62 564,62 566,63 568,63 570,63 572,63 574,63 576,63 578,63 580,63 582,63 584,64 586,64 586,64 588,64 590,65 592,65 594,65 596,65 598,65 600,65 602,65 604,65 606,65 608,65 610,65 612,65 614,65 616,65 618,65 620,65 622,65 624,65 626,65 628,65 630,65 632,65 634,65 636,65 638,64 639,64 640,64 642,63 644,63 646,62 647,62 648,62 650,62 652,62 654,62 656,62 658,62 660,62 662,62 664,62 666,62 668,62 670,62 672,62 674,62 676,62 678,62 680,62 682,62 682,62 684,62 686,62 688,62 690,62 692,62 694,63 696,63 698,63 700,63 702,63 704,63 706,63 708,62 710,62 711,62 712,62 714,62 716,62 718,62 720,62 722,62 724,62 726,62 728,62 730,62 732,62 734,62 736,62 738,62 740,62 742,62 744,62 746,62 748,62 750,62 752,62 754,62 756,62 758,62 760,62 762,62 764,62 766,62 768,62 769,62 770,62 772,63 774,63 776,64 778,64 780,64 782,63 784,63 786,62 786,62 788,62 790,62 792,62 794,62 796,62 798,62 800,62 802,62 804,62 806,62 808,62 810,62 812,62 814,62 816,62 818,62 820,62 822,62 824,62 826,62 827,62 828,62 830,63 832,64 833,64 834,64 836,65 838,66 840,66 840,66 842,66 844,67 846,67 848,67 850,66 850,66 852,66 854,65 856,65 858,64 859,64 860,64 862,64 862,64 864,64 866,65 868,66 868,66 870,67 872,68 873,68 874,69 876,69 878,69 880,68 880,68 882,67 884,66 885,66 886,66 888,65 890,64 892,64 892,64 892,64 894,64 896,65 898,66 899,66 900,67 902,68 902,68 904,69 906,70 906,70 908,71 910,71 912,70 913,70 914,69 916,68 916,68 918,66 918,66 920,64 920,64 922,62 922,62 924,62 926,62 928,62 930,62 932,62 934,62 936,62 938,62 940,62 942,62 944,62 946,62 948,62 950,62 952,62 954,62 956,62 958,62 960,62 962,62 964,62 966,62 968,62 970,62 972,62 974,62 976,62 978,62 980,62 982,62 984,62 986,62 988,62 990,62 992,62 994,62 994,62 996,63 998,64 1000,64 1000,64 1002,64 1002,64 1004,64 1006,63 1007,62 1008,62 1010,62 1012,62 1014,62 1016,62 1018,62 1020,62 1022,62 1024,62 1024,62 1025,64 1025,66 1026,68 1026,70 1026,72 1026,74 1026,76 1025,78 1024,80 1024,80 1022,81 1020,82 1020,82 1018,83 1016,83 1014,83 1012,83 1010,83 1008,83 1006,82 1004,82 1004,82 1002,82 1000,81 998,81 996,81 994,80 992,80 992,80 990,80 988,80 986,80 984,80 982,80 982,80 982,82 982,82 984,83 986,84 986,84 988,85 990,85 992,86 992,86 994,87 996,87 998,88 998,88 1000,89 1002,90 1002,90 1004,92 1004,92 1006,94 1006,94 1007,96 1006,96 1004,98 1003,98 1002,98 1000,99 998,99 996,99 994,99 992,99 990,99 988,99 986,99 984,99 982,99 980,99 978,99 976,99 974,99 972,98 970,98 970,98 968,98 966,97 964,97 962,97 960,97 958,97 956,96 954,96 952,96 952,96 950,96 948,95 946,95 944,94 944,94 942,93 940,93 938,92 938,92 936,91 934,91 932,90 932,90 930,89 928,89 926,88 926,88 924,87 922,87 921,86 920,86 918,85 916,84 916,84 914,83 913,82 912,82 910,80 909,80 908,79 906,78 905,78 904,78 902,78 900,78 899,78 898,78 896,78 894,79 892,79 890,79 888,80 886,79 884,79 882,78 882,78 880,77 878,76 878,76 876,75 874,76 873,76 872,76 870,78 869,78 868,79 866,80 865,80 864,80 862,81 860,81 858,81 856,81 854,81 852,81 850,81 848,82 846,82 846,82 844,82 842,83 840,84 839,84 838,84 836,85 834,86 834,86 832,87 830,88 830,88 828,89 827,90 826,91 825,92 824,94 824,94 824,94 825,96 826,96 828,97 829,98 830,98 832,99 834,100 834,100 836,101 838,102 838,102 840,103 841,104 842,105 844,106 844,107 845,108 845,110 844,112 844,112 843,114 842,115 841,116 840,117 838,118 838,118 836,119 835,120 834,120 832,121 830,122 830,122 828,122 826,122 824,122 823,122 822,122 820,121 819,120 818,119 817,118 816,117 814,116 814,116 812,114 812,114 810,112 810,112 809,110 810,108 810,108 811,106 812,105 813,104 814,103 815,102 816,100 816,100 818,98 818,98 819,96 820,94 818,92 818,92 816,91 815,90 814,89 812,88 812,88 810,87 808,86 808,86 806,85 804,85 802,84 801,84 800,84 798,84 796,83 794,83 792,83 790,83 788,83 786,83 784,84 783,84 782,84 780,86 779,86 778,88 778,88 777,90 777,92 778,93 779,94 780,95 781,96 782,96 784,98 784,98 785,100 786,101 787,102 788,103 790,104 790,104 792,106 792,106 793,108 794,109 794,110 795,112 794,114 794,114 793,116 792,117 791,118 790,119 788,120 787,120 786,120 784,121 782,121 780,121 778,121 776,121 774,121 772,121 770,121 768,121 766,120 765,120 764,119 762,119 760,118 759,118 758,118 757,118 756,118 754,119 752,120 752,120 750,121 749,122 748,122 746,124 746,124 744,126 744,126 742,128 742,128 740,130 740,130 738,132 737,132 736,133 734,133 732,132 732,132 730,130 730,130 729,128 728,127 728,126 726,124 726,123 725,122 724,121 723,120 722,119 721,118 720,116 719,116 718,115 716,115 716,116 714,117 713,118 712,118 710,119 708,119 706,119 704,118 704,118 703,116 702,115 702,114 701,112 701,110 702,108 702,107 702,106 704,104 704,104 706,103 707,104 708,105 710,106 710,107 711,108 712,109 713,110 714,111 715,112 716,113 718,113 719,112 720,111 721,110 722,110 724,108 724,108 726,107 727,106 728,106 730,104 731,104 732,103 734,102 735,102 736,101 738,100 738,100 740,99 741,98 742,97 744,96 744,96 746,94 746,93 747,92 747,90 747,88 746,86 746,86 745,84 744,83 743,82 742,81 741,80 740,79 738,78 737,78 736,78 734,78 732,78 730,78 730,78 728,78 726,79 724,79 722,79 720,79 718,80 716,80 715,80 714,80 712,81 710,81 708,82 706,82 704,82 704,82 702,82 700,82 698,82 696,83 694,84 693,84 692,84 690,85 688,86 688,86 686,87 684,88 683,88 682,88 680,89 678,90 678,90 676,91 674,92 673,92 672,92 670,93 668,94 668,94 666,95 664,95 662,96 661,96 660,96 658,97 656,97 654,97 652,98 651,98 650,98 648,100 648,100 646,102 646,102 645,104 644,105 643,106 642,107 641,108 640,108 638,108 637,108 636,107 635,106 634,105 633,104 632,102 632,102 630,100 629,100 628,99 626,99 624,99 622,99 620,99 618,99 616,99 614,99 612,98 612,98 610,97 608,96 607,96 606,95 605,94 605,92 605,90 606,89 607,88 608,87 609,86 610,84 610,84 610,82 610,82 608,80 607,80 606,80 604,79 602,78 600,78 600,78 598,78 596,78 594,78 592,78 590,78 590,78 588,78 586,79 584,79 582,80 581,80 580,80 578,81 576,81 574,81 572,81 570,81 568,81 566,81 564,81 562,82 561,82 560,82 558,84 557,84 556,86 556,86 555,88 555,90 556,92 556,93 556,94 556,94 555,96 554,98 554,98 552,99 550,100 550,100 548,101 546,102 546,102 544,102 542,102 541,102 540,102 538,101 536,100 535,100 534,99 532,98 532,98 530,96 530,96 528,95 527,94 526,93 524,93 522,93 520,93 519,94 518,95 517,96 516,98 516,99 515,100 514,102 514,103 513,104 512,105 510,105 508,105 506,104 506,104 504,103 503,102 502,100 502,100 501,98 500,96 500,96 498,94 498,94 496,92 495,92 494,91 492,91 490,90 490,90 488,90 486,89 484,89 482,89 480,88 478,88 477,88 476,88 474,88 472,88 470,88 470,88 468,88 466,89 464,89 462,90 462,90 460,91 458,92 458,92 456,93 454,94 454,94 452,95 450,96 449,96 448,96 446,96 444,96 443,96 442,96 440,95 438,94 438,94 436,93 434,92 434,92 432,91 431,90 430,89 430,88 430,86 430,85 430,84 432,82 432,82 434,80 434,80 436,78 436,78 438,77 440,76 440,76 442,76 444,75 446,75 448,75 450,76 452,76 454,76 456,76 457,76 458,76 460,76 462,76 464,76 465,76 466,76 468,75 470,75 471,74 472,74 474,73 476,72 476,72 478,71 480,70 481,70 482,69 484,69 485,68 486,68 488,67 490,66 490,66 492,65 494,64ZM758,92 757,92 756,94 756,96 757,98 757,100 758,102 758,102 760,103 762,103 764,102 764,102 766,100 766,100 767,98 768,97 769,96 769,94 769,92 768,92 766,91 764,90 762,90 760,90ZM1053,62 1054,62 1056,62 1058,62 1060,62 1062,62 1064,62 1066,62 1067,62 1067,64 1068,66 1068,68 1067,70 1066,71 1065,72 1064,73 1062,74 1061,74 1060,74 1059,74 1058,74 1056,73 1055,72 1054,71 1053,70 1053,68 1052,66 1052,64ZM883,100 884,100 886,100 886,100 888,101 890,102 890,102 892,104 892,105 893,106 894,108 894,110 893,112 892,113 890,114 890,114 888,115 886,115 884,114 883,114 882,113 880,112 880,112 878,110 878,110 877,108 877,106 878,104 878,104 880,102 880,102 882,101ZM573,108 574,107 576,106 578,106 580,107 581,108 582,109 584,110 584,110 585,112 586,113 587,114 588,116 588,117 588,118 589,120 589,122 588,124 588,125 587,126 586,127 585,128 584,128 582,129 580,130 578,130 576,129 574,129 573,128 572,128 570,126 570,126 569,124 568,122 568,122 568,120 568,118 568,116 568,116 569,114 570,112 570,112 571,110 572,109ZM437,142 438,142 440,142 442,142 443,142 444,142 446,143 447,144 448,145 449,146 450,147 451,148 452,148 454,149 456,149 458,148 458,148 460,147 462,146 462,146 464,145 466,145 468,145 470,145 471,146 472,147 473,148 474,150 474,150 475,152 475,154 475,156 474,158 474,158 473,160 472,161 471,162 470,163 468,164 467,164 466,165 464,165 462,166 462,166 460,167 459,168 458,169 456,170 456,170 454,172 453,172 452,173 450,174 448,174 448,174 446,174 445,174 444,174 442,173 440,172 439,172 438,171 436,171 434,171 433,172 432,172 430,173 428,174 428,174 426,174 424,175 422,176 422,176 420,178 420,178 418,180 418,180 417,182 416,183 415,184 414,185 413,184 412,183 411,182 410,181 409,180 408,180 406,178 405,178 404,178 402,177 400,178 399,178 398,178 396,179 394,180 392,180 391,178 390,177 390,176 390,174 390,172 390,170 390,170 391,168 392,166 392,165 393,164 394,164 396,162 396,162 398,161 399,160 400,159 402,158 402,158 404,157 405,156 406,155 408,154 409,154 410,153 412,153 414,153 416,153 418,153 420,154 421,154 422,154 424,155 426,156 426,156 428,157 430,157 432,158 432,158 434,158 436,158 436,158 438,157 439,156 438,154 438,154 436,153 435,152 434,151 433,150 432,148 432,148 432,146 432,146 433,144 434,143 436,142ZM520,176 520,176 522,176 523,176 524,176 526,178 526,178 527,180 528,182 528,182 529,184 529,186 529,188 529,190 529,192 530,194 530,194 532,195 534,196 534,196 536,196 538,197 540,197 542,197 544,197 546,197 548,197 550,198 550,198 552,199 554,200 554,200 556,202 556,203 557,204 558,206 558,207 558,208 559,210 560,211 561,212 562,212 564,213 566,214 567,214 568,214 570,215 572,216 572,216 574,218 574,218 575,220 574,222 574,222 572,224 572,224 570,225 568,226 566,226 564,226 562,225 560,225 558,225 556,224 555,224 554,224 552,223 550,223 548,222 547,222 546,222 544,221 542,220 541,220 540,220 538,219 536,219 534,218 532,218 530,219 528,219 527,220 526,220 524,221 523,222 522,222 520,223 518,224 517,224 516,224 514,224 512,224 511,224 510,224 508,223 506,223 505,222 504,221 502,220 502,220 500,218 500,218 499,216 498,214 498,214 498,212 498,210 498,208 498,208 499,206 500,205 500,204 502,203 503,202 504,201 506,200 506,200 508,199 510,198 510,198 512,197 514,196 514,196 516,194 516,192 516,190 515,188 515,186 515,184 516,182 516,181 516,180 517,178 518,177ZM465,192 466,192 467,192 468,193 468,194 468,196 468,196 467,198 466,200 466,200 464,202 462,200 462,200 462,198 462,197 462,196 463,194 464,193ZM904,192 906,192 908,191 910,191 912,191 914,191 916,191 918,191 920,192 922,192 922,192 924,192 926,192 928,192 930,193 932,193 934,193 936,193 938,193 940,193 942,193 944,193 946,192 948,192 950,192 952,193 954,193 956,194 956,194 958,195 960,195 962,196 962,196 964,196 966,197 968,198 969,198 970,198 972,200 973,200 974,201 974,202 975,204 975,206 974,208 974,208 972,210 972,210 970,211 969,212 968,212 966,213 964,214 964,214 962,215 961,216 960,218 960,218 960,220 960,220 961,222 962,224 962,225 962,226 963,228 964,230 964,232 964,234 963,236 962,238 962,239 961,240 960,241 959,242 958,243 956,243 954,244 952,244 950,243 948,242 948,242 946,241 945,240 944,239 943,238 942,236 942,236 940,234 940,234 939,232 938,231 937,230 936,229 936,228 934,226 934,226 933,224 932,223 931,222 930,221 929,220 928,220 926,219 924,219 922,219 920,220 918,220 917,220 916,220 914,221 912,222 911,222 910,222 908,223 906,223 904,224 903,224 902,224 900,224 898,224 896,224 894,224 892,224 892,224 890,224 888,223 886,223 884,222 884,222 882,221 880,221 879,220 878,220 876,219 874,218 874,218 872,217 870,217 868,216 868,216 866,215 864,214 864,214 862,213 861,212 860,210 860,210 859,208 860,206 860,205 861,204 862,203 864,202 864,202 866,201 868,201 870,200 871,200 872,200 874,199 876,199 878,198 879,198 880,198 882,197 884,197 886,196 887,196 888,196 890,195 892,195 894,194 896,194 896,194 898,193 900,193 902,192 904,192ZM748,220 748,220 750,219 752,219 754,219 756,219 758,219 760,220 761,220 762,220 764,220 766,221 768,221 770,221 772,220 774,220 775,220 776,220 778,220 780,219 782,219 784,219 786,219 788,219 790,219 792,220 794,220 794,220 796,220 798,221 800,221 802,221 804,221 806,222 808,222 808,222 810,222 812,223 814,224 814,224 816,225 817,226 818,226 820,228 820,228 822,230 822,230 824,232 824,232 826,234 827,234 828,235 830,236 832,235 834,235 836,234 838,234 838,234 840,234 842,234 842,234 844,235 846,236 847,236 848,237 849,238 850,239 851,240 852,241 853,242 854,243 855,244 855,246 854,248 854,248 852,248 850,249 848,249 846,249 844,250 842,250 842,250 840,250 838,250 836,250 835,250 834,250 832,249 830,248 829,248 828,248 827,248 826,248 824,249 822,249 820,250 820,250 818,251 816,252 814,252 814,252 812,253 810,253 808,253 806,253 804,254 802,254 800,254 799,254 798,254 796,255 794,255 792,256 791,256 790,256 788,257 786,257 784,257 782,257 780,258 778,258 776,258 774,258 772,258 771,258 770,258 768,258 766,259 764,259 762,259 760,260 759,260 758,260 756,260 754,261 752,261 750,261 748,262 746,262 744,262 744,262 743,262 742,262 740,262 738,261 736,260 735,260 734,259 732,259 731,258 730,258 728,257 726,257 724,256 723,256 722,256 720,256 718,255 716,255 714,254 713,254 712,254 710,253 708,253 706,252 705,252 704,252 702,251 700,251 698,250 698,250 696,249 694,248 693,248 692,247 690,246 690,246 688,244 688,243 687,242 687,240 687,238 687,236 688,234 688,234 689,232 690,231 691,230 692,229 693,228 694,227 696,226 696,226 698,225 700,224 701,224 702,224 704,223 706,223 708,223 710,223 712,223 714,223 716,224 718,224 719,224 720,224 722,224 724,224 726,224 728,224 730,224 730,224 732,224 734,223 736,223 738,222 740,222 740,222 742,222 744,221 746,221ZM452,228 452,227 454,227 455,228 456,229 456,230 456,232 456,233 455,234 454,236 452,235 451,234 451,232 451,230ZM564,234 566,233 568,233 570,233 572,233 574,233 576,234 576,234 578,234 580,235 582,236 583,236 584,236 586,237 588,238 589,238 590,238 592,239 594,240 594,240 596,241 598,242 598,242 600,243 601,244 602,245 604,246 604,246 606,248 606,248 608,250 608,250 610,252 610,252 612,254 612,254 614,256 614,257 614,258 614,260 614,260 612,262 612,262 610,263 608,264 607,264 606,264 604,264 602,265 600,265 598,265 596,265 594,265 592,265 590,265 588,265 586,264 585,264 584,264 582,264 580,263 578,262 576,262 576,262 574,261 572,260 571,260 570,260 568,259 566,258 566,258 564,257 563,256 562,255 560,254 560,254 558,252 558,252 557,250 556,248 556,248 555,246 555,244 556,242 556,241 557,240 558,238 558,238 560,236 560,236 562,235 564,234ZM839,320 840,319 842,319 844,320 844,320 846,322 846,323 847,324 847,326 847,328 847,330 847,332 846,334 846,335 846,336 844,338 844,338 842,340 840,340 838,338 838,338 837,336 836,334 836,333 836,332 836,330 836,328 836,326 836,325 836,324 837,322 838,321ZM613,324 614,324 615,324 616,324 618,325 620,326 620,326 622,328 622,328 623,330 624,332 624,332 625,334 625,336 625,338 625,340 625,342 624,344 624,345 624,346 623,348 622,349 621,350 620,351 618,352 618,352 616,353 614,354 613,354 612,354 610,355 608,355 607,356 606,356 604,358 604,358 603,360 602,361 602,362 600,364 600,364 598,366 598,366 596,367 594,368 594,368 592,368 591,368 590,368 588,367 587,366 586,365 585,364 584,362 584,362 583,360 583,358 582,356 582,355 582,354 582,352 582,350 582,348 582,346 582,346 583,344 583,342 584,340 584,340 585,338 586,337 587,336 588,335 589,334 590,333 592,332 593,332 594,332 596,331 598,331 600,330 600,330 602,329 604,328 604,328 606,327 608,326 608,326 610,325 612,324ZM807,360 808,360 810,360 811,360 812,361 814,362 814,362 816,364 816,364 817,366 818,367 818,368 819,370 820,372 820,372 821,374 821,376 821,378 821,380 821,382 820,384 820,384 819,386 818,388 818,388 817,390 816,391 816,392 814,394 814,394 812,396 812,396 810,397 808,398 807,398 806,398 804,398 803,398 802,398 800,397 798,397 796,396 795,396 794,395 792,394 792,394 791,392 791,390 791,388 791,386 791,384 792,382 792,380 792,379 792,378 793,376 793,374 794,372 794,372 795,370 796,368 796,368 798,366 798,366 800,364 800,364 802,362 803,362 804,361 806,360ZM655,386 656,385 658,385 660,386 661,386 662,388 662,388 663,390 663,392 663,394 662,396 662,396 660,398 660,398 658,399 656,398 656,398 654,397 653,396 653,394 652,392 653,390 653,388 654,387ZM624,388 624,388 626,387 628,388 629,388 630,388 632,390 632,390 633,392 634,393 635,394 636,396 636,397 637,398 637,400 638,402 638,402 639,404 639,406 639,408 639,410 639,412 639,414 639,416 639,418 639,420 639,422 638,424 638,426 638,428 639,430 640,432 640,432 642,434 642,434 644,436 644,436 646,437 647,438 648,439 650,440 651,440 652,441 654,442 654,442 656,444 656,444 657,446 657,448 656,450 656,450 654,451 653,452 652,452 650,453 648,454 646,454 646,454 644,454 642,455 640,455 638,455 636,456 634,456 633,456 632,456 630,457 628,458 628,458 626,460 625,460 624,461 623,462 622,463 621,464 620,465 619,466 618,467 616,467 615,466 614,465 613,464 612,464 610,462 609,462 608,461 606,461 604,460 602,460 600,460 598,460 598,460 596,460 594,459 592,459 591,458 590,458 588,457 586,456 584,456 582,456 582,456 580,456 578,456 577,456 576,456 574,456 572,456 570,457 568,457 566,457 564,457 562,457 560,456 558,456 558,456 556,456 554,455 552,455 550,454 550,454 548,454 546,453 544,453 542,453 540,453 538,453 536,453 534,454 534,454 532,455 531,456 530,458 530,458 529,460 528,462 528,463 528,464 527,466 527,468 526,468 524,468 522,468 520,468 518,468 516,468 514,468 513,468 512,466 512,465 512,464 510,462 510,462 508,461 506,461 504,461 502,462 501,462 500,463 498,464 498,465 497,466 496,467 495,468 494,468 492,468 491,468 490,466 490,466 490,464 490,462 489,460 489,458 489,456 488,454 488,452 488,450 489,448 490,446 490,446 492,444 492,444 494,442 494,442 496,441 498,440 498,440 500,440 502,439 504,439 506,439 508,439 510,438 512,438 513,438 514,438 516,437 518,437 520,437 522,436 524,436 526,437 528,437 530,437 532,437 534,437 536,436 538,436 540,436 540,436 542,436 544,435 546,435 548,435 550,434 551,434 552,434 554,433 556,433 558,433 560,433 562,432 564,432 566,432 568,432 570,432 572,433 574,433 576,433 578,433 580,433 582,433 584,433 586,433 588,433 590,433 592,432 594,432 595,432 596,432 598,431 600,430 600,430 602,428 602,428 603,426 604,424 604,423 604,422 605,420 606,418 606,418 607,416 608,414 608,414 609,412 610,410 610,410 611,408 612,406 612,405 613,404 613,402 614,401 614,400 615,398 616,397 616,396 618,394 618,393 619,392 620,391 621,390 622,389ZM947,418 948,418 950,418 952,418 953,418 954,418 956,419 958,420 959,420 960,420 962,420 964,421 966,421 968,421 970,421 972,422 973,422 974,422 976,423 978,424 978,424 980,426 980,426 982,428 982,428 984,430 984,431 984,432 984,432 983,434 982,435 980,436 980,436 978,437 976,437 974,438 974,438 972,438 970,439 968,439 966,440 965,440 964,440 962,441 960,441 958,441 956,442 954,442 952,442 950,442 948,442 946,441 944,441 942,441 940,440 938,440 936,440 936,440 934,440 932,439 930,438 930,438 929,436 928,435 928,434 927,432 927,430 928,428 928,428 929,426 930,425 931,424 932,424 934,422 935,422 936,422 938,421 940,421 942,420 942,420 944,419 946,418ZM1036,432 1038,432 1040,431 1042,431 1044,431 1046,431 1048,431 1050,431 1052,432 1053,432 1054,432 1056,433 1058,433 1060,434 1061,434 1062,434 1064,435 1066,435 1068,436 1068,436 1070,437 1071,438 1072,439 1073,440 1072,442 1072,442 1070,444 1070,444 1068,445 1066,446 1064,446 1064,446 1062,446 1060,446 1058,447 1056,447 1054,447 1052,447 1050,447 1048,447 1046,447 1044,447 1042,446 1040,446 1038,446 1038,446 1036,446 1034,446 1032,446 1030,446 1028,446 1026,445 1024,445 1022,445 1020,445 1018,444 1018,444 1016,443 1014,442 1014,442 1013,440 1013,438 1014,437 1016,436 1016,436 1018,435 1020,435 1022,434 1024,434 1024,434 1026,434 1028,433 1030,433 1032,433 1034,432 1036,432ZM833,466 834,465 836,465 836,466 837,468 836,468 834,468 833,468Z" fill="#f3faac" fill-rule="evenodd"/>
<path d="M522,64 524,63 526,63 528,62 530,62 532,62 534,62 536,62 538,62 539,62 540,62 542,62 544,62 546,62 548,62 549,62 550,62 552,63 554,64 554,64 556,65 557,66 558,67 560,68 561,68 562,70 562,70 562,71 562,72 560,73 559,74 558,75 556,76 556,76 554,77 553,78 552,79 550,80 550,80 548,81 547,82 546,83 544,84 544,84 542,85 540,85 538,85 536,84 535,84 534,84 532,83 530,83 528,82 527,82 526,82 524,81 522,81 520,81 518,81 516,81 514,81 512,81 510,81 508,82 507,82 506,82 504,83 502,83 500,83 498,83 496,83 494,82 492,82 492,82 490,81 488,80 488,80 487,78 487,76 488,75 489,74 490,73 492,72 492,72 494,71 496,70 496,70 498,69 500,69 502,69 504,69 506,69 508,68 510,68 511,68 512,68 514,67 516,67 518,66 518,66 520,65 522,64ZM657,64 658,64 660,64 662,64 664,64 665,64 666,64 668,64 670,65 672,65 674,66 676,66 676,66 678,67 680,67 682,68 684,68 684,68 686,68 688,69 690,69 692,70 694,70 695,70 696,70 698,72 699,72 698,72 696,74 696,74 694,75 693,76 692,78 692,78 691,80 690,81 689,82 688,83 687,84 686,84 684,86 684,86 682,87 680,88 680,88 678,89 676,90 676,90 674,91 672,91 671,92 670,92 668,93 666,94 664,94 664,94 662,95 660,95 658,95 656,95 654,95 652,95 650,96 649,96 648,96 646,98 646,98 644,100 644,100 642,102 642,102 640,103 638,102 637,102 636,101 635,100 634,98 634,98 632,96 631,96 630,95 628,94 626,94 624,94 622,94 620,94 620,94 618,93 616,92 616,92 616,92 617,90 618,89 620,88 620,88 622,87 623,86 624,85 625,84 625,82 624,80 624,79 623,78 622,77 621,76 620,74 619,74 620,72 620,72 622,71 624,71 626,71 628,70 630,70 631,70 632,70 634,70 636,69 638,69 640,68 641,68 642,68 644,67 646,67 648,66 649,66 650,66 652,65 654,64 656,64ZM747,64 748,64 750,63 752,63 754,63 756,64 757,64 758,65 760,66 761,66 762,67 764,68 764,68 766,70 765,72 764,73 763,74 762,75 760,75 758,76 758,76 756,77 754,77 752,77 750,77 748,76 748,76 746,75 745,74 744,73 743,72 742,70 742,70 742,69 742,68 744,66 744,66 746,65ZM941,64 942,62 942,62 944,62 946,62 948,62 950,62 952,62 954,62 956,62 958,62 960,62 962,62 964,62 966,62 968,62 970,62 972,62 974,62 976,62 978,62 980,62 982,62 984,62 985,62 986,63 988,64 989,64 990,65 992,66 992,66 994,67 996,68 996,68 998,69 1000,69 1002,70 1004,70 1006,70 1008,70 1010,69 1012,69 1014,69 1016,69 1017,70 1018,71 1018,72 1019,74 1018,76 1018,76 1016,77 1014,78 1012,78 1010,78 1008,77 1006,77 1004,77 1002,76 1000,76 998,76 998,76 996,76 994,76 992,76 990,76 988,76 986,76 984,76 982,75 980,75 978,75 976,74 975,74 974,74 972,73 970,73 968,72 968,72 966,72 964,71 962,71 960,71 958,72 956,72 956,72 954,73 952,73 951,74 952,75 953,76 954,76 956,77 957,78 958,78 960,79 962,80 962,80 964,80 966,81 968,82 969,82 970,82 972,83 974,83 976,84 977,84 978,84 980,85 982,86 983,86 984,86 986,87 988,88 989,88 990,88 992,89 994,90 994,90 996,91 997,92 998,93 999,94 999,96 998,96 996,97 994,97 992,98 990,98 988,98 986,98 984,98 982,97 980,97 978,97 976,97 974,97 972,97 970,96 969,96 968,96 966,96 964,95 962,95 960,95 958,94 956,94 955,94 954,94 952,94 950,93 948,93 946,92 945,92 944,92 942,91 940,90 939,90 938,90 936,89 934,88 934,88 932,87 930,87 929,86 928,86 926,85 925,84 924,84 922,82 922,82 920,80 920,78 922,77 923,76 924,76 926,75 928,75 930,75 932,74 934,74 936,74 938,74 940,74 941,74 942,74 944,73 946,72 944,70 944,70 942,68 942,68 941,66ZM716,68 716,68 718,67 720,67 722,66 724,67 726,67 727,68 727,70 726,71 724,72 723,72 722,72 720,72 718,72 716,72 716,72 714,71 713,70 714,70ZM796,68 796,68 798,68 800,68 802,68 802,68 804,70 802,71 800,72 798,72 796,71 795,70ZM817,70 818,70 820,70 822,70 822,70 823,72 822,74 821,74 820,74 818,74 818,74 816,72 816,72 816,71ZM574,118 576,116 578,116 580,117 581,118 582,120 581,122 580,123 578,124 578,124 578,124 576,124 574,122 574,122 574,120 574,118ZM465,154 466,152 468,152 469,154 468,156 468,156 466,156 466,156ZM416,160 416,160 416,160 418,160 420,161 422,162 422,162 423,164 423,166 422,167 420,168 420,168 418,169 416,169 414,169 412,168 411,168 410,167 409,166 409,164 410,162 410,162 412,161 414,160ZM521,182 522,182 522,182 524,184 524,186 522,187 521,186 520,184ZM903,194 904,194 906,193 908,193 910,193 912,193 914,193 916,193 918,193 920,193 922,194 923,194 924,194 926,194 928,194 930,195 932,195 934,195 936,196 937,196 938,196 940,197 942,198 943,198 944,198 946,199 948,200 948,200 950,201 952,202 953,202 954,203 956,204 956,204 958,206 957,208 956,210 956,210 955,212 955,214 954,216 954,216 954,218 954,220 954,222 954,222 955,224 956,225 957,226 958,227 958,228 959,230 959,232 959,234 958,236 958,236 956,238 956,238 954,239 952,239 950,238 950,238 948,237 947,236 946,235 945,234 944,233 943,232 942,231 941,230 940,229 939,228 938,227 937,226 936,225 935,224 934,222 934,222 932,220 932,220 930,218 930,218 928,217 926,217 924,217 922,217 920,217 918,217 916,218 914,218 914,218 912,219 910,219 909,220 908,220 906,221 904,222 902,222 902,222 900,222 898,223 896,223 894,222 892,222 891,222 890,222 888,221 886,221 884,220 884,220 882,219 880,218 880,218 878,216 877,216 876,215 875,214 874,213 873,212 872,211 871,210 871,208 871,206 872,205 873,204 874,203 876,202 876,202 878,201 880,200 881,200 882,199 884,199 886,198 888,198 888,198 890,197 892,197 894,197 896,196 896,196 898,195 900,195 902,194ZM515,200 516,200 518,199 520,199 522,199 524,200 525,200 526,200 528,201 530,201 532,201 534,201 536,201 538,201 540,201 542,201 544,201 546,202 546,202 548,203 550,204 550,204 551,206 552,208 552,210 552,212 551,214 550,215 548,216 546,216 544,216 542,215 540,215 538,214 536,214 535,214 534,214 533,214 532,214 530,215 528,216 528,216 526,217 525,218 524,218 522,220 521,220 520,221 518,221 516,222 514,222 512,222 510,221 508,220 507,220 506,219 504,218 504,217 503,216 502,214 502,214 502,212 502,210 502,209 502,208 504,206 504,206 506,204 506,204 508,202 509,202 510,201 512,201 514,200ZM748,224 748,224 750,224 752,223 754,223 756,224 758,224 759,224 760,224 762,224 764,225 766,225 768,225 770,225 772,225 774,225 776,225 778,225 780,225 782,225 784,224 786,224 788,224 790,224 792,224 794,224 796,224 798,224 800,224 801,224 802,224 802,224 804,224 806,224 808,225 810,225 812,226 812,226 814,227 816,228 816,228 818,230 818,230 820,232 820,232 821,234 822,236 822,237 822,238 822,240 822,240 821,242 820,244 820,244 818,246 818,246 816,248 815,248 814,249 812,249 810,250 810,250 808,250 806,251 804,251 802,251 800,251 798,252 796,252 795,252 794,252 792,253 790,253 788,254 787,254 786,254 784,255 782,255 780,255 778,255 776,255 774,255 772,256 770,256 768,256 767,256 766,256 764,256 762,257 760,257 758,257 756,258 754,258 752,258 751,258 750,258 748,258 746,258 744,258 743,258 742,258 740,258 738,257 736,256 735,256 734,255 732,255 730,254 730,254 728,253 726,253 724,252 723,252 722,252 720,251 718,251 716,251 714,250 713,250 712,250 710,250 708,249 706,249 704,248 704,248 702,247 700,247 699,246 698,246 696,244 696,244 694,242 694,242 693,240 692,238 692,236 693,234 694,232 694,232 696,230 696,230 698,228 699,228 700,227 702,226 704,226 704,226 706,225 708,225 710,225 712,225 714,225 716,226 718,226 719,226 720,226 722,226 724,227 726,227 728,227 730,227 732,226 734,226 735,226 736,226 738,226 740,225 742,225 744,225 746,224ZM569,236 570,236 572,236 574,236 574,236 576,236 578,237 580,237 582,238 583,238 584,238 586,239 588,239 589,240 590,240 592,241 594,242 594,242 596,243 597,244 598,245 600,246 600,246 602,248 602,248 604,250 605,250 606,252 606,252 608,254 608,255 609,256 609,258 608,260 608,260 606,262 606,262 604,263 602,263 600,264 598,264 596,264 594,264 592,264 590,264 588,264 586,263 584,263 582,262 580,262 580,262 578,261 576,261 575,260 574,260 572,259 570,258 570,258 568,257 567,256 566,256 564,254 564,254 562,253 561,252 560,250 560,250 559,248 558,246 558,244 559,242 560,240 560,240 562,239 563,238 564,237 566,237 568,236ZM611,330 612,330 614,330 616,330 616,330 618,331 619,332 620,334 620,334 621,336 621,338 621,340 621,342 620,344 620,344 619,346 618,347 616,348 616,348 614,349 612,349 610,350 608,350 606,350 606,350 604,351 603,352 602,353 601,354 600,356 600,356 599,358 598,359 597,360 596,361 594,362 594,362 592,362 591,362 590,361 588,360 588,359 587,358 586,356 586,355 586,354 585,352 585,350 586,348 586,346 586,346 587,344 588,342 588,342 590,340 590,340 592,338 593,338 594,338 596,337 598,337 600,336 600,336 602,335 603,334 604,333 606,332 606,332 608,331 610,330ZM948,428 950,427 952,427 954,427 956,427 958,427 960,427 962,428 964,428 964,428 966,429 968,430 968,430 969,432 968,432 966,434 965,434 964,434 962,435 960,435 958,436 956,436 954,436 952,435 950,435 948,434 948,434 946,433 945,432 946,430 946,430 948,428ZM610,434 612,434 614,433 616,433 618,433 620,433 622,433 624,434 625,434 626,434 628,435 630,435 632,435 634,436 634,436 636,437 638,437 640,438 640,438 642,439 644,440 644,440 646,442 646,442 648,444 648,444 649,446 648,448 648,448 646,449 645,450 644,450 642,451 640,452 638,452 638,452 636,453 634,453 632,453 630,454 630,454 628,455 626,455 624,456 624,456 622,457 620,457 618,457 616,457 614,457 612,456 612,456 610,455 608,455 606,454 604,454 604,454 602,454 600,454 598,454 596,454 594,453 592,453 590,453 588,453 586,453 584,453 582,453 580,453 578,453 576,453 574,453 572,453 570,454 568,454 566,454 564,454 562,454 560,453 558,453 556,452 555,452 554,452 552,451 550,451 548,450 547,450 546,450 544,450 542,449 540,449 538,449 536,450 534,450 533,450 532,450 530,451 528,452 527,452 526,453 524,453 522,454 520,453 518,453 516,452 515,452 514,452 512,451 510,451 508,450 507,450 506,450 504,449 502,448 502,448 501,446 502,445 503,444 504,444 506,443 508,442 508,442 510,442 512,441 514,441 516,440 517,440 518,440 520,439 522,439 524,439 526,439 528,439 530,439 532,439 534,438 536,438 538,438 538,438 540,438 542,437 544,437 546,437 548,436 549,436 550,436 552,435 554,435 556,435 558,435 560,434 562,434 564,434 566,434 568,434 570,434 572,434 574,434 576,434 578,434 580,434 582,435 584,435 586,435 588,435 590,435 592,435 594,435 596,435 598,435 600,435 602,435 604,435 606,435 608,434 610,434ZM1041,438 1042,438 1044,438 1046,438 1048,438 1048,438 1050,439 1050,440 1050,440 1048,441 1046,441 1044,441 1042,441 1040,440 1039,440 1040,439Z" fill="#eaf79e" fill-rule="evenodd"/>
<path d="M972,66 974,65 976,65 978,65 980,65 982,65 984,66 984,66 986,67 987,68 988,69 989,70 988,71 986,72 986,72 984,72 982,72 981,72 980,72 978,71 976,71 974,70 974,70 972,68 971,68 972,66ZM536,68 536,68 538,68 540,68 542,68 544,68 546,68 546,68 548,69 549,70 549,72 548,73 546,74 546,74 544,75 542,75 540,75 538,75 536,75 534,75 532,75 530,75 528,75 526,74 526,74 524,72 525,70 526,70 528,69 530,68 532,68 534,68ZM649,70 650,70 652,69 654,69 656,68 658,68 660,68 662,68 664,68 666,69 668,69 670,70 671,70 672,70 674,71 676,72 676,72 678,73 680,74 680,74 682,76 682,76 684,78 684,78 685,80 684,82 684,82 683,84 682,85 680,86 680,86 678,87 677,88 676,89 674,90 673,90 672,90 670,91 668,92 668,92 666,92 664,93 662,93 660,94 658,94 656,94 654,94 652,93 650,94 648,94 647,94 646,94 644,95 642,96 642,96 640,97 638,96 638,96 636,95 635,94 634,93 634,92 632,90 632,89 632,88 631,86 631,84 631,82 632,80 632,79 632,78 634,76 634,76 636,74 637,74 638,73 640,73 642,72 642,72 644,71 646,71 648,70ZM934,78 934,78 936,78 938,78 940,78 942,78 944,78 946,78 947,78 948,78 950,78 952,79 954,79 956,80 956,80 958,81 960,81 962,82 963,82 964,82 966,83 968,83 970,84 971,84 972,84 974,85 976,85 978,86 978,86 980,87 982,87 983,88 984,88 986,89 988,90 988,90 990,91 992,92 992,92 993,94 992,95 990,96 988,96 988,96 986,96 984,96 983,96 982,96 980,96 978,96 976,96 974,95 972,95 970,95 968,95 966,94 965,94 964,94 962,94 960,93 958,93 956,93 954,92 952,92 952,92 950,92 948,91 946,91 944,90 944,90 942,89 940,89 938,88 938,88 936,87 934,86 934,86 932,85 930,84 930,84 928,82 928,80 930,79 932,78ZM911,194 912,194 913,194 914,194 916,194 918,194 920,195 922,195 924,195 926,195 928,196 929,196 930,196 932,196 934,197 936,197 938,198 938,198 940,199 942,200 942,200 944,202 945,202 946,203 947,204 948,205 949,206 950,207 951,208 952,210 952,212 952,214 952,216 951,218 951,220 950,222 950,224 951,226 952,228 952,229 953,230 953,232 952,233 950,232 949,232 948,232 946,230 945,230 944,229 942,228 942,228 940,226 940,226 938,225 938,224 936,222 936,222 934,220 934,219 933,218 932,217 930,216 930,216 928,215 926,215 924,215 922,215 920,215 918,215 916,216 914,216 914,216 912,217 910,217 908,218 908,218 906,219 904,220 904,220 902,221 900,221 898,221 896,221 894,221 892,221 890,220 889,220 888,220 886,219 884,218 884,218 882,217 881,216 880,215 878,214 878,214 877,212 876,210 876,210 876,208 876,207 876,206 878,204 878,204 880,202 881,202 882,201 884,201 886,200 886,200 888,200 890,199 892,199 894,198 895,198 896,198 898,197 900,196 901,196 902,196 904,195 906,194 908,194 910,194ZM510,204 510,204 512,203 514,203 516,202 518,202 520,203 522,203 524,204 524,204 526,205 527,206 528,207 528,208 528,210 528,210 527,212 526,213 526,214 524,216 524,216 522,217 521,218 520,218 518,219 516,220 514,220 512,220 510,219 508,218 508,218 506,216 506,216 505,214 504,212 505,210 505,208 506,207 507,206 508,205ZM800,226 800,226 802,226 804,226 806,226 806,226 808,226 810,227 812,228 812,228 814,229 815,230 816,231 817,232 818,234 818,234 819,236 819,238 819,240 818,242 818,242 817,244 816,245 814,246 814,246 812,247 810,248 810,248 808,249 806,249 804,249 802,249 800,249 798,250 796,250 795,250 794,250 792,251 790,251 788,252 786,252 786,252 784,252 782,253 780,253 778,253 776,253 774,253 772,254 770,254 768,254 767,254 766,254 764,254 762,255 760,255 758,255 756,255 754,255 752,256 750,256 748,256 746,256 744,256 742,255 740,255 738,254 737,254 736,254 734,253 732,252 732,252 730,251 728,251 726,250 726,250 724,250 722,249 720,249 718,248 716,248 716,248 714,248 712,248 710,247 708,247 706,246 705,246 704,246 702,245 700,244 700,244 698,242 698,242 696,240 696,239 696,238 696,236 696,235 696,234 697,232 698,231 700,230 700,230 702,229 703,228 704,228 706,227 708,227 710,227 712,227 714,227 716,227 718,227 720,228 721,228 722,228 724,228 726,229 728,229 730,228 732,228 734,228 735,228 736,228 738,228 740,227 742,227 744,227 746,227 748,227 750,226 752,226 754,226 756,227 758,227 760,227 762,227 764,228 766,228 767,228 768,228 770,228 772,228 774,228 774,228 776,228 778,228 780,228 782,228 784,227 786,227 788,227 790,227 792,227 794,227 796,226 798,226ZM568,238 570,238 572,238 574,238 576,238 577,238 578,238 580,239 582,239 584,240 585,240 586,240 588,241 590,242 591,242 592,243 594,244 594,244 596,245 597,246 598,247 600,248 600,248 602,250 602,250 603,252 604,253 605,254 605,256 605,258 604,260 604,260 602,261 600,262 600,262 598,262 596,263 594,263 592,263 590,263 588,263 586,262 585,262 584,262 582,261 580,261 578,260 578,260 576,259 574,258 573,258 572,257 570,256 570,256 568,255 566,254 566,254 564,252 564,252 562,250 562,250 561,248 560,246 560,244 561,242 562,241 564,240 564,240 566,239 568,238ZM609,336 610,335 612,335 614,335 615,336 616,337 616,338 617,340 616,342 616,342 614,344 614,344 612,345 610,345 608,344 608,344 606,342 606,342 606,340 606,339 607,338 608,337ZM591,346 592,345 594,345 596,345 597,346 598,348 597,350 596,352 596,353 595,354 594,355 592,355 591,354 590,353 590,352 590,350 590,349 590,348ZM557,436 558,436 560,436 562,435 564,435 566,435 568,435 570,435 572,435 574,435 576,436 578,436 580,436 582,436 582,436 584,436 586,436 588,436 590,437 592,437 594,437 596,437 598,438 599,438 600,438 602,438 604,439 606,439 608,439 610,439 612,439 614,438 616,438 617,438 618,438 620,438 622,438 624,438 626,438 627,438 628,438 630,438 632,439 634,439 636,440 637,440 638,440 640,441 641,442 642,443 643,444 643,446 642,447 641,448 640,449 638,450 636,450 636,450 634,451 632,451 630,452 628,452 628,452 626,452 624,453 622,453 620,453 618,453 616,453 614,452 614,452 612,451 610,451 608,450 608,450 606,450 604,449 602,449 600,450 598,450 596,450 595,450 594,450 592,450 590,450 588,451 586,451 584,451 582,451 580,451 578,451 576,451 574,451 572,452 570,452 568,452 566,452 564,452 562,451 560,451 558,451 556,450 556,450 554,450 552,449 550,449 548,448 548,448 546,448 544,447 542,447 540,447 538,447 536,447 534,447 532,448 530,448 530,448 528,449 526,449 524,449 522,449 520,449 518,449 516,448 515,448 514,447 512,446 513,444 514,444 516,443 518,442 518,442 520,442 522,441 524,441 526,441 528,441 530,441 532,441 534,440 536,440 536,440 538,440 540,439 542,439 544,438 546,438 546,438 548,438 550,437 552,437 554,436 556,436Z" fill="#ddf19a" fill-rule="evenodd"/>
<path d="M647,74 648,74 650,73 652,73 654,72 656,72 658,72 660,72 662,72 664,73 666,73 668,73 670,74 670,74 672,75 674,75 675,76 676,76 678,78 679,78 680,80 680,80 680,82 680,83 679,84 678,85 677,86 676,87 674,88 674,88 672,89 670,90 670,90 668,91 666,91 664,92 663,92 662,92 660,92 658,92 656,92 654,92 654,92 652,92 650,92 648,92 646,92 645,92 644,92 642,92 640,92 640,92 638,91 637,90 636,88 636,88 636,86 635,84 636,82 636,81 637,80 638,78 638,78 640,77 641,76 642,76 644,75 646,74ZM938,80 938,80 940,80 942,80 944,80 946,80 948,80 948,80 950,80 952,81 954,81 956,82 958,82 958,82 960,83 962,83 964,84 965,84 966,84 968,85 970,85 972,86 973,86 974,86 976,87 978,88 979,88 980,88 982,89 984,90 984,90 986,92 987,92 986,93 985,94 984,94 982,94 980,94 978,94 976,94 974,94 974,94 972,94 970,93 968,93 966,93 964,93 962,92 960,92 960,92 958,92 956,91 954,91 952,91 950,90 949,90 948,90 946,89 944,89 942,88 942,88 940,87 938,86 938,86 936,85 935,84 934,82 934,82 934,82 936,81ZM904,196 904,196 906,195 908,195 910,195 912,195 914,195 916,195 918,195 920,196 922,196 923,196 924,196 926,196 928,197 930,197 932,197 934,198 934,198 936,199 938,200 939,200 940,201 942,202 942,202 944,204 944,204 946,206 946,206 948,208 948,209 949,210 950,212 950,214 950,216 949,218 949,220 948,222 948,222 947,224 946,225 944,226 942,225 940,224 940,224 938,222 938,222 936,220 936,220 935,218 934,217 933,216 932,215 930,214 928,214 928,214 926,214 924,214 922,214 920,214 919,214 918,214 916,214 914,215 912,215 910,216 909,216 908,216 906,217 905,218 904,218 902,219 900,220 898,220 897,220 896,220 895,220 894,220 892,220 890,219 888,219 887,218 886,218 884,217 883,216 882,215 881,214 880,213 879,212 878,210 878,208 879,206 880,205 881,204 882,203 884,202 885,202 886,202 888,201 890,200 892,200 892,200 894,200 896,199 898,198 899,198 900,197 902,197ZM510,206 512,205 514,205 516,205 518,205 520,205 521,206 522,207 523,208 524,210 524,212 522,214 522,214 520,216 520,216 518,217 516,218 515,218 514,218 513,218 512,218 510,217 509,216 508,215 507,214 507,212 507,210 508,208 508,208 510,206ZM797,228 798,228 800,227 802,227 804,227 806,227 808,228 809,228 810,228 812,229 813,230 814,231 815,232 816,234 816,234 817,236 817,238 817,240 816,242 816,242 814,244 814,244 812,245 811,246 810,246 808,247 806,247 804,248 802,248 800,248 798,248 797,248 796,248 794,248 792,249 790,249 788,250 787,250 786,250 784,251 782,251 780,251 778,251 776,252 774,252 772,252 770,252 770,252 768,252 766,252 764,253 762,253 760,253 758,253 756,253 754,254 752,254 750,254 748,254 746,254 744,254 742,253 740,253 738,252 738,252 736,251 734,251 732,250 732,250 730,249 728,249 726,248 726,248 724,248 722,247 720,247 718,246 716,246 714,246 714,246 712,246 710,246 708,245 706,245 705,244 704,244 702,243 701,242 700,241 699,240 698,238 698,236 698,236 698,236 699,234 700,232 700,232 702,230 703,230 704,229 706,229 708,228 710,228 712,228 714,228 716,228 718,229 720,229 722,230 724,230 725,230 726,230 728,230 730,230 732,230 732,230 734,230 736,230 738,229 740,229 742,229 744,229 746,229 748,229 750,228 752,228 754,229 756,229 758,229 760,229 762,230 764,230 765,230 766,230 768,230 770,230 772,230 774,230 776,230 777,230 778,230 780,230 782,230 784,230 786,230 788,229 790,229 792,229 794,228 796,228ZM567,240 568,240 570,239 572,239 574,239 576,239 578,239 580,240 581,240 582,240 584,241 586,241 588,242 588,242 590,243 592,244 592,244 594,245 595,246 596,247 598,248 598,248 600,250 600,251 601,252 602,254 602,254 602,256 602,258 602,258 600,260 600,260 598,261 596,261 594,262 592,262 590,262 588,262 586,261 584,261 582,260 581,260 580,260 578,259 576,258 576,258 574,257 572,256 572,256 570,255 569,254 568,253 566,252 566,252 564,250 564,250 563,248 562,246 562,244 564,242 564,242 566,240ZM552,438 554,438 556,437 558,437 560,437 562,437 564,436 566,436 568,436 570,436 572,437 574,437 576,437 578,437 580,437 582,437 584,437 586,438 588,438 588,438 590,438 592,439 594,439 596,440 597,440 598,441 600,442 600,442 601,444 600,445 599,446 598,446 596,447 594,447 592,448 592,448 590,448 588,449 586,449 584,449 582,449 580,449 578,450 576,450 574,450 572,450 571,450 570,450 568,450 566,450 565,450 564,450 562,450 560,449 558,449 556,448 555,448 554,448 552,447 550,447 548,446 547,446 546,446 544,445 542,445 540,444 538,444 537,444 538,443 538,442 540,442 542,441 544,440 544,440 546,440 548,439 550,438 552,438ZM616,442 616,442 618,441 620,441 622,441 624,440 626,440 628,441 630,441 632,441 634,442 635,442 636,443 638,444 638,446 636,447 635,448 634,448 632,449 630,449 628,450 626,450 626,450 624,450 622,450 620,450 620,450 618,449 616,449 615,448 614,447 613,446 613,444 614,443ZM523,444 524,444 526,444 528,444 529,444 528,444 526,445 524,446Z" fill="#c8e99e" fill-rule="evenodd"/>
<path d="M650,76 650,76 652,75 654,75 656,75 658,75 660,75 662,75 664,75 666,76 667,76 668,76 670,77 672,78 673,78 674,79 676,80 676,80 677,82 676,84 676,84 674,86 674,86 672,87 671,88 670,88 668,89 666,90 666,90 664,90 662,91 660,91 658,91 656,91 654,90 652,90 650,90 650,90 648,90 646,90 644,89 642,89 641,88 640,87 639,86 639,84 640,82 640,81 641,80 642,79 644,78 644,78 646,77 648,77ZM941,82 942,82 944,82 946,82 948,82 950,82 951,82 952,82 954,83 956,83 958,83 960,84 960,84 962,85 964,85 966,86 968,86 968,86 970,87 972,87 974,88 974,88 976,89 978,90 979,90 980,92 978,92 976,92 974,92 972,92 970,92 969,92 968,92 966,91 964,91 962,91 960,91 958,90 956,90 955,90 954,90 952,89 950,89 948,88 947,88 946,88 944,87 942,86 942,86 940,84 940,84 940,83ZM908,196 908,196 910,196 912,196 914,196 916,196 917,196 918,196 920,196 922,197 924,197 926,197 928,197 930,198 930,198 932,198 934,199 936,200 936,200 938,201 940,202 940,202 942,204 942,204 944,206 944,207 945,208 946,209 947,210 948,212 948,213 948,214 948,216 948,216 948,218 947,220 946,221 945,222 944,223 942,223 940,222 940,222 938,220 938,220 936,218 936,218 934,216 934,216 932,214 932,214 930,213 928,213 926,213 924,213 922,213 920,213 918,213 916,213 914,213 912,214 911,214 910,214 908,215 906,216 906,216 904,217 902,218 902,218 900,218 898,219 896,219 894,219 892,219 890,218 889,218 888,218 886,217 885,216 884,215 883,214 882,213 881,212 880,210 880,208 881,206 882,205 884,204 884,204 886,203 888,202 889,202 890,202 892,201 894,201 896,200 897,200 898,199 900,198 901,198 902,198 904,197 906,196ZM511,208 512,207 514,207 516,207 518,207 519,208 520,209 521,210 521,212 520,213 519,214 518,215 516,216 516,216 514,216 513,216 512,216 510,214 510,214 509,212 509,210 510,209ZM706,230 708,230 710,229 712,229 714,229 716,230 718,230 718,230 720,230 722,231 724,231 726,232 728,232 730,232 732,231 734,231 736,231 738,231 740,231 742,230 744,230 746,230 748,230 750,230 752,230 754,230 756,231 758,231 760,231 762,231 764,232 766,232 766,232 768,232 770,232 772,232 773,232 774,232 776,232 778,232 780,232 782,231 784,231 786,231 788,231 790,231 792,231 794,230 795,230 796,230 798,229 800,229 802,229 804,228 806,229 808,229 810,230 810,230 812,231 813,232 814,233 815,234 815,236 815,238 815,240 814,242 814,242 812,244 812,244 810,245 808,246 806,246 806,246 804,246 802,247 800,247 798,247 796,247 794,247 792,247 790,248 788,248 788,248 786,249 784,249 782,249 780,250 778,250 777,250 776,250 774,250 772,250 770,251 768,251 766,251 764,251 762,251 760,251 758,252 756,252 754,252 754,252 752,252 750,252 748,252 746,252 746,252 744,252 742,251 740,251 738,250 737,250 736,250 734,249 732,248 731,248 730,248 728,247 726,246 725,246 724,246 722,245 720,245 718,245 716,245 714,245 712,244 710,244 710,244 708,244 706,243 704,242 704,242 702,241 701,240 700,238 700,236 701,234 702,232 702,232 704,231 706,230ZM566,242 568,241 570,241 572,240 574,240 576,240 578,241 580,241 582,241 584,242 584,242 586,242 588,243 590,244 590,244 592,245 593,246 594,247 596,248 596,248 598,250 598,251 599,252 600,254 600,256 599,258 598,259 596,260 596,260 594,260 592,261 590,261 588,261 586,260 584,260 584,260 582,259 580,259 578,258 578,258 576,257 574,256 574,256 572,255 571,254 570,253 568,252 568,252 566,250 566,250 564,248 564,246 564,246 564,246 564,244 566,242ZM559,438 560,438 562,438 564,438 566,437 568,437 570,438 572,438 574,438 576,438 578,438 578,438 580,438 582,438 584,439 586,439 588,440 589,440 590,440 592,441 593,442 594,444 592,445 590,446 590,446 588,447 586,447 584,447 582,448 580,448 580,448 578,448 576,448 574,449 572,449 570,449 568,449 566,449 564,448 562,448 561,448 560,448 558,447 556,447 554,446 554,446 552,445 550,445 548,444 548,444 546,442 548,441 550,440 550,440 552,439 554,439 556,439 558,438ZM624,444 624,444 626,444 628,444 628,444 629,446 628,446 626,446 624,446 623,446Z" fill="#b5e1a2" fill-rule="evenodd"/>
<path d="M651,78 652,78 654,78 656,77 658,77 660,77 662,77 664,78 665,78 666,78 668,79 670,79 671,80 672,81 673,82 673,84 672,85 671,86 670,87 668,88 667,88 666,88 664,89 662,89 660,89 658,89 656,89 654,89 652,88 650,88 649,88 648,88 646,87 644,86 644,86 643,84 644,82 644,82 646,80 646,80 648,79 650,78ZM946,84 948,84 950,84 952,84 953,84 954,84 956,85 958,85 960,86 961,86 962,87 964,87 966,88 967,88 966,89 964,89 962,89 960,89 958,89 956,89 954,88 952,88 952,88 950,87 948,86 947,86ZM903,198 904,198 906,197 908,197 910,196 912,196 914,196 916,196 918,197 920,197 922,197 924,197 926,198 927,198 928,198 930,199 932,199 934,200 934,200 936,201 938,202 938,202 940,204 940,204 942,206 942,206 943,208 944,209 945,210 946,212 946,212 947,214 947,216 946,218 946,218 945,220 944,221 942,221 940,220 940,220 938,219 938,218 936,216 936,216 934,214 934,214 932,213 930,212 928,212 926,212 924,212 922,212 920,212 918,212 916,212 914,213 912,213 910,213 908,214 907,214 906,214 904,216 903,216 902,217 900,217 898,218 896,218 896,218 894,218 894,218 892,218 890,217 888,216 887,216 886,215 884,214 884,213 883,212 882,210 882,208 884,206 884,206 886,204 887,204 888,204 890,203 892,203 894,202 894,202 896,201 898,201 899,200 900,200 902,199ZM513,210 514,210 516,210 516,210 517,212 516,213 514,213 512,212ZM800,230 800,230 802,230 804,230 806,230 807,230 808,230 810,231 811,232 812,233 813,234 814,236 814,238 813,240 812,242 812,242 810,243 809,244 808,244 806,245 804,245 802,245 800,245 798,245 796,245 794,245 792,246 790,246 790,246 788,246 786,247 784,247 782,248 781,248 780,248 778,248 776,249 774,249 772,249 770,249 768,249 766,249 764,250 762,250 760,250 760,250 758,250 756,250 754,251 752,251 750,251 748,251 746,251 744,250 742,250 742,250 740,249 738,249 736,248 736,248 734,247 732,247 730,246 730,246 728,245 726,244 724,244 724,244 722,244 720,243 718,243 716,243 714,243 712,243 710,243 708,242 707,242 706,241 704,240 704,240 702,238 702,237 702,236 702,236 703,234 704,233 705,232 706,231 708,231 710,230 712,230 714,230 716,231 718,231 720,232 721,232 722,232 724,233 726,233 728,233 730,233 732,233 734,233 736,232 738,232 740,232 740,232 742,232 744,232 746,232 748,232 750,232 752,232 754,232 755,232 756,232 758,232 760,233 762,233 764,233 766,234 768,234 770,234 772,234 774,234 776,233 778,233 780,233 782,233 784,233 786,233 788,233 790,233 792,232 793,232 794,232 796,231 798,230ZM570,242 570,242 572,241 574,241 576,241 578,242 580,242 581,242 582,242 584,243 586,243 587,244 588,244 590,245 591,246 592,247 594,248 594,248 596,250 596,250 597,252 598,254 598,256 596,258 596,258 594,259 592,259 590,260 588,260 586,259 584,259 582,258 581,258 580,258 578,257 576,256 576,256 574,255 573,254 572,253 570,252 570,252 568,250 568,250 566,248 566,247 566,246 566,245 566,244 568,243ZM556,440 556,440 558,440 560,439 562,439 564,439 566,439 568,439 570,439 572,439 574,439 576,439 578,439 580,440 582,440 583,440 584,440 586,441 588,442 588,444 586,445 584,446 583,446 582,446 580,447 578,447 576,447 574,447 572,447 570,447 568,447 566,447 564,447 562,447 560,446 559,446 558,445 556,445 554,444 554,444 552,442 554,441Z" fill="#9fd8a4" fill-rule="evenodd"/>
<path d="M653,80 654,80 656,80 658,79 660,79 662,80 664,80 664,80 666,81 668,82 668,82 669,84 668,85 666,86 666,86 664,87 662,87 660,88 658,88 656,87 654,87 652,86 651,86 650,85 649,84 649,82 650,82 652,81ZM905,198 906,198 908,197 910,197 912,197 914,197 916,197 918,197 920,198 922,198 923,198 924,198 926,198 928,199 930,199 932,200 932,200 934,201 936,202 936,202 938,204 938,204 940,206 940,206 941,208 942,209 943,210 944,212 944,212 945,214 945,216 944,218 944,218 942,219 940,218 940,218 938,216 938,216 936,214 936,214 934,213 932,212 932,212 930,212 928,212 926,212 924,212 922,212 920,212 918,212 916,212 914,212 912,212 910,212 910,212 908,212 906,213 904,214 904,214 902,215 900,216 900,216 898,217 896,217 894,217 892,217 890,216 890,216 888,215 886,214 886,214 884,212 884,211 884,210 884,209 884,208 886,206 886,206 888,205 890,204 891,204 892,204 894,203 896,203 897,202 898,202 900,201 901,200 902,199 904,199ZM708,232 708,232 710,232 712,231 714,232 716,232 716,232 718,233 720,233 722,234 722,234 724,235 726,235 728,235 730,235 732,234 734,234 734,234 736,234 738,234 740,233 742,233 744,233 746,233 748,233 750,233 752,233 754,233 756,234 758,234 758,234 760,234 762,235 764,235 766,235 768,235 770,235 772,235 774,235 776,235 778,235 780,235 782,235 784,235 786,235 788,235 790,234 792,234 792,234 794,233 796,232 797,232 798,232 800,231 802,231 804,231 806,231 808,231 809,232 810,233 811,234 812,235 812,236 813,238 812,240 812,240 810,242 810,242 808,243 806,244 805,244 804,244 802,244 800,244 798,244 798,244 796,244 794,244 792,244 791,244 790,244 788,245 786,245 784,246 783,246 782,246 780,247 778,247 776,247 774,247 772,248 770,248 768,248 766,248 766,248 764,248 762,248 760,249 758,249 756,249 754,249 752,249 750,249 748,249 746,249 744,249 742,249 740,248 740,248 738,247 736,247 734,246 734,246 732,245 730,244 730,244 728,243 726,243 724,242 723,242 722,242 720,242 718,242 716,242 714,242 712,242 710,242 708,241 706,240 706,240 704,238 704,237 704,236 704,236 705,234 706,233ZM569,244 570,243 572,243 574,242 576,242 578,243 580,243 582,243 584,244 585,244 586,244 588,245 589,246 590,246 592,248 592,248 594,250 594,250 596,252 596,254 596,254 596,254 596,256 594,257 593,258 592,258 590,259 588,259 586,258 584,258 584,258 582,258 580,257 578,256 578,256 576,255 575,254 574,254 572,252 572,252 570,250 569,250 568,248 568,248 568,246 568,245ZM563,440 564,440 566,440 568,440 570,440 572,440 573,440 574,440 576,440 578,441 580,441 582,442 582,444 580,445 578,445 576,445 574,446 572,446 571,446 570,446 569,446 568,446 566,446 564,445 562,445 560,444 559,444 558,442 558,442 558,442 560,441 562,440Z" fill="#86cfa5" fill-rule="evenodd"/>
<path d="M656,84 656,84 658,83 660,83 662,84 660,84 658,85 656,84ZM908,198 908,198 910,198 912,197 914,197 916,198 918,198 919,198 920,198 922,198 924,199 926,199 928,199 930,200 930,200 932,201 934,202 935,202 936,203 937,204 938,205 938,206 940,208 940,209 941,210 942,212 942,212 943,214 942,216 942,216 942,216 940,216 938,214 938,214 936,212 936,212 934,211 932,211 930,211 928,211 926,211 924,211 922,211 920,211 918,211 916,211 914,211 912,211 910,211 908,211 906,212 905,212 904,213 902,214 902,214 900,215 898,216 896,216 896,216 894,216 893,216 892,216 890,215 888,214 888,214 886,212 886,212 885,210 886,208 886,208 888,206 888,206 890,205 892,205 894,204 896,204 896,204 898,203 900,202 900,202 902,200 903,200 904,199 906,198ZM801,232 802,232 804,232 806,232 806,232 808,233 810,234 810,234 811,236 811,238 810,240 810,240 808,242 808,242 806,243 804,243 802,243 800,243 798,243 796,242 794,242 794,242 792,242 791,242 790,242 788,243 786,243 784,244 784,244 782,245 780,245 778,245 776,246 774,246 774,246 772,246 770,246 768,246 766,246 764,247 762,247 760,247 758,247 756,248 754,248 753,248 752,248 750,248 748,248 747,248 746,248 744,248 742,247 740,247 738,246 738,246 736,245 734,244 734,244 732,243 730,242 730,242 728,240 727,240 726,238 724,238 722,239 720,240 719,240 718,240 716,240 714,241 712,240 710,240 710,240 708,239 706,238 706,236 706,236 706,236 707,234 708,234 710,233 712,233 714,233 716,233 718,234 718,234 720,235 722,236 722,237 724,238 726,238 728,238 730,237 732,236 732,236 734,236 736,235 738,235 740,235 742,234 744,234 746,234 748,234 750,234 752,235 754,235 756,235 758,236 760,236 760,236 762,236 764,237 766,237 768,237 770,237 772,237 774,237 776,237 778,237 780,237 782,237 784,237 786,237 788,237 790,237 792,236 792,236 794,235 796,234 796,234 798,233 800,232ZM572,244 574,244 576,244 578,244 580,244 581,244 582,244 584,245 586,245 587,246 588,246 590,248 591,248 592,249 593,250 594,252 594,252 594,254 594,255 593,256 592,257 590,257 588,258 586,257 584,257 582,257 580,256 580,256 578,255 577,254 576,254 574,252 574,252 572,251 571,250 570,248 570,248 570,246 570,246 572,244ZM566,442 566,442 568,442 570,442 572,442 570,444 568,443 566,442Z" fill="#71c6a5" fill-rule="evenodd"/>
<path d="M904,200 906,199 908,199 910,198 912,198 914,198 916,198 918,198 920,199 922,199 924,199 926,200 928,200 928,200 930,201 932,201 933,202 934,203 936,204 936,205 937,206 937,208 936,210 936,210 934,210 932,210 930,210 928,210 926,210 924,210 922,210 920,210 918,210 916,210 914,210 912,210 910,210 908,211 906,211 904,211 902,212 902,212 900,213 899,214 898,214 896,215 894,215 892,215 890,214 890,214 888,212 888,212 887,210 888,208 888,208 890,207 892,206 892,206 894,206 896,205 898,205 899,204 900,203 901,202 902,202 904,200ZM799,234 800,234 802,233 804,233 806,233 808,234 808,234 809,236 810,238 808,240 808,240 806,241 804,242 802,242 800,242 798,241 796,240 796,240 795,238 796,236 796,236 798,235ZM709,236 710,235 712,234 714,235 716,236 717,236 717,238 716,238 714,239 712,239 710,238 710,238ZM741,236 742,236 744,236 746,236 748,236 750,236 752,236 752,236 754,236 756,237 758,237 760,238 761,238 762,238 764,239 766,239 768,239 770,239 772,239 774,239 776,239 778,239 780,239 782,239 783,240 782,242 782,242 780,243 778,243 776,244 775,244 774,244 772,244 770,244 768,244 766,244 764,244 762,245 760,245 758,246 757,246 756,246 754,246 752,247 750,247 748,247 746,247 744,246 743,246 742,246 740,245 738,244 738,244 736,243 734,242 734,241 733,240 734,238 734,238 736,237 738,237 740,236ZM572,246 574,245 576,245 578,245 580,245 582,245 584,246 585,246 586,246 588,247 589,248 590,249 591,250 592,251 592,252 592,254 592,255 590,256 590,256 588,256 586,256 584,256 583,256 582,256 580,255 578,254 578,254 576,252 575,252 574,251 573,250 572,248 572,248 572,247Z" fill="#5cb7aa" fill-rule="evenodd"/>
<path d="M906,200 906,200 908,199 910,199 912,199 914,199 916,199 918,199 920,199 922,199 924,200 925,200 926,200 928,201 930,201 932,202 932,202 934,204 934,204 935,206 935,208 934,209 932,209 930,209 928,210 926,210 924,210 922,210 920,210 918,210 916,210 914,210 912,210 910,210 908,210 906,210 904,210 902,210 902,210 900,211 899,212 898,213 896,214 894,214 892,213 890,212 890,212 889,210 890,209 891,208 892,208 894,207 896,207 898,207 899,206 900,205 901,204 902,203 903,202 904,201ZM799,236 800,235 802,235 804,234 806,235 807,236 808,238 806,240 806,240 804,240 802,240 800,240 800,240 798,238ZM740,238 740,238 742,238 744,237 746,237 748,237 750,237 752,238 754,238 754,238 756,239 758,240 759,240 760,242 758,243 757,244 756,244 754,245 752,245 750,245 748,245 746,245 744,245 742,244 742,244 740,243 738,242 738,241 737,240 738,239ZM577,246 578,246 580,246 581,246 582,246 584,247 586,248 587,248 588,249 589,250 590,251 591,252 590,254 590,254 588,255 586,255 584,255 582,255 581,254 580,254 578,252 577,252 576,251 575,250 574,248 576,246Z" fill="#4ba4b1" fill-rule="evenodd"/>
<path d="M907,200 908,200 910,199 912,199 914,199 916,199 918,200 920,200 922,200 922,200 924,200 926,201 928,201 930,202 930,202 932,203 933,204 934,206 932,208 932,208 930,209 928,209 926,209 924,209 922,209 920,209 918,209 916,209 914,209 912,209 910,209 908,209 906,208 904,208 904,208 902,206 903,204 904,202 904,202 906,201ZM893,210 894,210 896,210 896,210 896,210 894,211ZM744,240 746,240 748,240 750,240 751,240 752,242 752,242 752,242 750,243 748,243 746,242 745,242ZM578,248 578,248 580,247 582,248 584,248 584,248 586,249 587,250 588,251 588,252 588,253 586,254 584,254 582,253 580,252 580,252 578,250 578,250Z" fill="#3990ba" fill-rule="evenodd"/>
<path d="M910,200 910,200 912,200 914,200 916,200 917,200 918,200 920,200 922,201 924,201 926,201 928,202 928,202 930,203 932,204 932,205 932,206 932,206 930,208 929,208 928,208 926,209 924,209 922,209 920,209 918,208 916,208 914,208 912,208 910,208 909,208 908,208 906,207 904,206 904,204 905,202 906,202 908,201ZM582,250 582,250 583,250 582,250Z" fill="#3a7eb8" fill-rule="evenodd"/>
<path d="M907,202 908,201 910,201 912,200 914,200 916,201 918,201 920,201 922,201 924,201 926,202 926,202 928,203 930,204 930,204 931,206 930,206 928,207 926,208 926,208 924,208 922,208 920,208 920,208 918,208 916,208 914,208 912,208 910,207 908,207 906,206 906,205 906,204 906,203Z" fill="#496aaf" fill-rule="evenodd"/>
<path d="M909,202 910,201 912,201 914,201 916,201 918,201 920,202 922,202 924,202 924,202 926,203 928,204 929,204 929,206 928,206 926,207 924,207 922,207 920,207 918,207 916,207 914,207 912,207 910,206 909,206 908,205 907,204 908,203Z" fill="#5758a6" fill-rule="evenodd"/>
<path d="M911,202 912,202 914,202 916,202 918,202 918,202 920,202 922,203 924,203 926,204 927,204 927,206 926,206 924,207 922,207 920,206 918,206 916,206 914,206 912,206 912,206 910,205 909,204 910,203Z" fill="#5e4fa2" fill-rule="evenodd"/>
<path d="M685,90 686,90 688,90 690,90 691,90 692,90 693,92 692,94 692,95 691,96 690,97 689,98 688,98 686,100 686,100 684,101 682,102 682,102 680,103 678,104 677,104 676,104 674,105 672,106 671,106 670,106 668,107 666,108 665,108 664,108 662,109 660,109 658,110 658,110 656,110 654,111 652,110 651,110 650,109 650,108 650,107 650,106 651,104 652,103 653,102 654,102 656,100 657,100 658,100 660,99 662,98 662,98 664,97 666,96 667,96 668,96 670,95 672,94 672,94 674,93 676,93 678,92 678,92 680,91 682,91 684,90ZM1001,102 1002,102 1002,102 1004,102 1006,102 1008,102 1010,103 1012,103 1014,104 1014,104 1016,105 1018,105 1020,106 1021,106 1022,106 1024,107 1026,108 1027,108 1028,108 1030,109 1032,110 1032,110 1034,111 1035,112 1036,113 1037,114 1038,116 1038,118 1037,120 1036,121 1036,122 1034,123 1032,124 1032,124 1030,125 1028,125 1026,125 1024,125 1022,125 1020,124 1018,124 1018,124 1016,124 1014,123 1012,122 1011,122 1010,122 1008,121 1006,121 1004,120 1003,120 1002,120 1000,119 998,119 996,118 996,118 994,117 992,117 990,116 988,116 987,116 986,116 984,115 982,115 980,114 980,114 978,113 976,112 976,112 974,110 975,108 976,107 978,106 978,106 980,105 982,105 984,105 986,104 987,104 988,104 990,104 992,103 994,103 996,102 998,102 1000,102ZM462,104 464,103 466,103 468,102 470,102 472,102 474,103 476,103 478,103 480,104 480,104 482,104 484,105 486,105 488,105 490,105 492,105 494,106 495,106 496,106 498,107 500,107 501,108 502,108 504,109 505,110 506,111 508,112 508,112 510,113 511,114 512,115 513,116 512,118 512,118 510,119 508,120 507,120 506,120 504,121 502,122 501,122 500,122 498,123 496,124 494,124 492,123 490,123 488,123 486,122 485,122 484,122 482,122 480,121 478,121 476,121 474,121 472,121 470,120 468,120 468,120 466,120 464,119 462,119 460,118 460,118 458,117 457,116 456,115 455,114 454,112 454,112 454,111 454,110 456,108 456,108 458,106 458,106 460,105 462,104ZM522,116 522,116 524,116 526,116 528,116 530,116 531,116 532,116 534,117 536,117 538,118 538,118 540,119 542,120 542,120 544,121 546,122 547,122 548,122 550,123 551,124 552,124 554,125 555,126 556,127 557,128 558,128 560,130 560,130 562,132 562,132 564,134 564,134 566,136 567,136 568,137 570,138 570,138 572,139 574,140 574,140 576,141 578,141 580,141 582,141 584,140 586,140 588,140 590,140 590,140 592,140 594,140 596,140 598,140 600,140 602,139 604,139 606,139 608,139 610,139 612,139 614,139 615,140 616,140 618,142 618,144 617,146 616,148 616,148 615,150 614,151 612,152 612,152 610,154 610,154 608,156 607,156 606,158 605,158 605,160 606,162 606,162 607,164 608,165 609,166 610,167 611,168 612,169 613,170 614,171 615,172 616,173 617,174 618,175 619,176 619,178 619,180 618,181 616,181 614,181 612,182 612,182 610,183 608,184 608,184 606,185 604,186 602,185 600,184 600,184 599,182 598,181 597,180 596,179 595,178 594,177 593,176 592,175 590,174 590,174 588,173 586,172 584,172 582,172 580,173 579,174 578,175 576,176 576,176 574,178 574,178 572,180 572,180 570,182 570,182 568,183 567,184 566,185 564,186 564,186 562,187 560,188 560,188 558,189 556,189 554,189 552,189 550,189 548,189 546,189 544,188 544,188 542,187 540,186 540,186 538,185 537,184 536,182 536,182 535,180 534,178 534,178 533,176 532,174 532,174 531,172 530,171 529,170 528,169 527,168 526,167 524,166 524,166 522,165 520,164 520,164 518,163 516,162 516,162 514,161 513,160 512,159 510,158 508,158 506,159 504,159 502,159 500,158 500,158 498,157 497,156 496,155 495,154 494,153 493,152 492,150 492,150 491,148 490,146 490,144 490,144 490,142 489,140 489,138 489,136 490,134 490,133 490,132 491,130 492,129 493,128 494,127 496,126 498,126 500,127 501,128 502,129 503,130 504,131 505,132 506,133 508,134 508,134 510,135 512,135 514,134 514,134 516,132 516,132 518,130 518,130 520,128 520,128 521,126 521,124 521,122 520,120 520,120 519,118 520,117ZM939,134 940,134 942,134 944,134 946,134 947,134 948,134 950,135 952,135 953,136 954,136 956,137 957,138 958,139 959,140 960,142 960,144 959,146 958,147 957,148 956,149 955,150 954,150 952,151 950,151 948,151 946,151 944,151 942,151 940,151 938,150 936,150 936,150 934,149 932,149 931,148 930,147 929,146 928,144 928,144 928,142 928,142 929,140 930,138 930,138 932,137 933,136 934,136 936,135 938,134ZM754,144 754,144 756,144 758,144 758,144 760,144 762,144 764,144 766,145 768,145 770,145 772,146 773,146 774,146 776,147 778,148 778,148 780,149 782,150 782,150 784,151 786,152 786,152 788,153 790,153 792,153 794,154 796,154 798,154 799,154 800,154 802,154 804,154 806,154 808,155 810,155 812,155 814,155 816,156 817,156 818,156 820,157 822,158 822,158 824,159 825,160 826,161 826,162 827,164 828,166 828,168 827,170 826,172 826,172 825,174 824,175 823,176 822,177 820,178 820,178 818,179 816,179 814,180 812,180 810,179 808,179 806,179 804,179 802,178 801,178 800,178 798,177 796,177 794,176 793,176 792,176 790,175 788,175 786,175 784,174 784,174 782,174 780,173 778,173 776,172 774,172 773,172 772,172 770,171 768,171 766,171 764,170 764,170 762,170 760,169 758,168 757,168 756,168 754,167 752,166 751,166 750,166 748,165 746,165 744,164 743,164 742,163 740,162 739,162 738,161 737,160 736,159 735,158 735,156 735,154 736,152 736,151 737,150 738,149 740,148 740,148 742,147 744,146 744,146 746,145 748,145 750,144 752,144ZM855,148 856,148 858,148 860,148 862,147 864,147 866,147 868,148 870,148 871,148 872,148 874,149 876,150 876,150 878,151 880,152 880,152 882,153 883,154 884,154 886,156 886,156 888,157 889,158 890,159 891,160 892,161 892,162 894,164 894,165 894,166 895,168 896,170 896,172 896,174 895,176 895,178 894,180 894,181 893,182 892,184 892,184 890,185 889,186 888,187 886,188 885,188 884,188 882,189 880,189 878,190 876,190 874,190 872,189 870,189 868,188 867,188 866,188 864,187 862,186 862,186 860,185 858,184 858,184 856,183 855,182 854,181 852,180 852,180 850,178 850,178 849,176 848,175 847,174 846,172 846,172 845,170 844,168 844,167 843,166 843,164 842,162 842,160 842,160 842,158 842,157 842,156 843,154 844,152 844,152 846,151 847,150 848,150 850,149 852,149 854,148ZM736,182 736,182 738,181 740,180 742,180 744,181 746,182 746,182 748,183 749,184 750,185 750,186 751,188 752,190 752,191 752,192 752,193 752,194 751,196 751,198 750,199 750,200 748,202 748,202 746,203 745,204 744,204 742,205 740,206 739,206 738,206 736,206 734,206 733,206 732,206 730,205 729,204 728,202 728,200 728,198 728,198 728,198 728,196 728,194 729,192 729,190 730,189 730,188 732,186 732,185 733,184 734,183ZM596,202 598,201 600,200 602,200 604,201 605,202 606,202 608,203 610,203 612,204 614,204 616,204 617,204 618,204 620,204 622,205 624,206 624,206 626,207 627,208 628,209 629,210 629,212 630,214 630,216 630,218 630,220 630,222 629,224 629,226 628,228 628,228 627,230 627,232 626,233 626,234 625,236 624,237 623,238 622,239 621,240 620,241 618,242 616,242 614,241 612,240 611,240 610,239 609,238 608,237 607,236 606,235 605,234 604,232 604,232 603,230 602,228 602,228 601,226 600,224 600,222 600,222 599,220 598,218 598,217 597,216 596,215 595,214 594,213 594,212 593,210 592,208 593,206 594,204 594,204 596,202ZM828,212 830,211 832,210 834,212 834,212 835,214 835,216 834,218 834,219 832,220 832,220 830,220 830,220 828,218 828,218 827,216 827,214 828,213ZM1060,254 1060,254 1061,254 1062,255 1063,256 1063,258 1064,260 1064,262 1063,264 1063,266 1062,267 1060,268 1058,266 1058,266 1057,264 1057,262 1057,260 1057,258 1058,256 1058,256ZM427,256 428,255 430,255 431,256 432,257 432,258 433,260 434,262 434,263 434,264 434,266 434,268 435,270 434,272 434,274 434,275 434,276 433,278 432,280 432,281 430,282 430,282 430,282 428,281 427,280 426,278 426,277 426,276 425,274 425,272 425,270 425,268 425,266 425,264 425,262 425,260 426,258 426,258ZM484,260 486,259 488,260 488,260 489,262 489,264 489,266 488,267 487,268 486,269 484,268 484,268 483,266 483,264 483,262 484,260ZM543,260 544,259 546,259 547,260 548,260 550,262 550,262 552,263 554,264 556,264 556,264 558,264 560,264 562,264 563,264 564,264 566,264 568,264 569,264 570,264 572,264 574,264 576,265 578,265 580,265 582,266 584,266 585,266 586,266 588,266 590,267 592,267 594,267 596,267 598,267 600,267 602,267 604,267 606,267 608,267 610,267 612,267 614,267 616,267 618,267 620,267 622,267 624,267 626,267 628,267 630,267 632,267 634,267 636,268 637,268 638,268 640,269 642,270 642,270 644,271 646,272 646,272 648,273 649,274 650,275 651,276 652,277 653,278 654,279 655,280 656,281 657,282 658,284 658,284 659,286 660,288 660,290 660,292 659,294 658,295 657,296 656,297 655,298 654,299 652,300 652,300 650,301 648,302 648,302 646,304 646,304 645,306 645,308 646,310 646,312 645,314 645,316 644,318 644,318 643,320 642,321 641,322 640,323 638,324 638,324 636,325 634,325 632,325 630,324 629,324 628,324 626,322 625,322 624,321 623,320 622,319 621,318 620,317 619,316 618,314 618,314 616,312 616,312 614,311 612,310 611,310 610,310 608,310 606,310 604,309 602,309 600,308 599,308 598,308 596,307 594,307 592,306 592,306 590,306 588,305 586,305 584,305 582,305 580,305 578,305 576,305 574,305 572,305 570,305 568,305 566,305 564,304 564,304 562,303 560,303 559,302 558,302 556,301 554,300 554,300 552,299 551,298 550,298 548,296 547,296 546,295 545,294 544,294 542,292 542,292 540,290 540,289 539,288 538,286 538,286 537,284 537,282 537,280 537,278 537,276 537,274 537,272 538,270 538,270 539,268 540,266 540,265 540,264 541,262 542,261ZM774,264 774,264 776,264 778,264 780,264 781,264 782,264 784,264 786,264 787,264 788,264 790,264 792,263 794,263 796,263 798,263 800,263 802,263 804,264 804,264 806,265 807,266 808,267 809,268 810,269 811,270 812,272 812,272 813,274 814,276 814,277 814,278 814,280 814,282 814,284 814,284 814,286 813,288 813,290 812,292 812,292 811,294 811,296 810,297 810,298 809,300 808,302 808,302 807,304 806,305 806,306 805,308 804,309 803,310 802,312 802,312 801,314 800,315 799,316 798,318 798,318 796,320 796,320 794,321 793,322 792,322 790,323 788,323 786,323 784,323 782,324 780,324 780,324 778,324 776,325 774,325 772,326 770,326 770,326 768,327 766,327 764,327 762,327 760,327 758,326 757,326 756,326 754,325 753,324 752,323 751,322 750,321 749,320 748,319 747,318 746,316 746,316 745,314 744,313 744,312 743,310 742,308 742,308 742,306 741,304 741,302 740,300 740,298 740,297 740,296 740,294 740,292 740,290 740,290 740,288 741,286 741,284 742,283 742,282 744,280 744,280 746,278 746,278 748,276 748,276 750,274 750,274 752,273 753,272 754,272 756,271 757,270 758,269 760,268 761,268 762,267 764,267 765,266 766,266 768,265 770,265 772,264ZM1098,274 1098,274 1100,273 1102,274 1102,274 1103,276 1104,278 1104,278 1105,280 1105,282 1106,284 1106,286 1106,288 1106,290 1106,292 1106,294 1106,296 1106,298 1106,300 1105,302 1105,304 1105,306 1105,308 1104,310 1104,311 1104,312 1104,314 1103,316 1103,318 1103,320 1103,322 1104,323 1105,324 1106,324 1108,325 1110,326 1110,326 1112,328 1112,328 1113,330 1113,332 1113,334 1113,336 1112,338 1112,338 1111,340 1110,342 1110,342 1108,344 1107,344 1106,344 1105,344 1104,343 1103,342 1102,340 1102,340 1102,338 1101,336 1101,334 1101,332 1101,330 1101,328 1101,326 1101,324 1101,322 1100,320 1100,320 1100,318 1099,316 1098,314 1098,313 1098,312 1097,310 1097,308 1097,306 1096,304 1096,302 1096,302 1096,300 1096,298 1095,296 1095,294 1095,292 1095,290 1095,288 1095,286 1095,284 1095,282 1096,280 1096,279 1096,278 1097,276ZM1116,282 1116,282 1116,282 1116,284 1116,286 1116,288 1116,290 1116,292 1116,294 1116,296 1116,297 1116,296 1115,294 1114,292 1114,292 1114,290 1114,288 1114,286 1114,286 1115,284ZM1004,304 1006,304 1008,304 1010,304 1012,304 1012,304 1014,305 1016,305 1018,306 1018,306 1020,307 1021,308 1022,309 1023,310 1024,311 1025,312 1025,314 1024,315 1024,316 1022,318 1022,318 1020,319 1019,320 1018,320 1016,321 1014,321 1012,322 1010,321 1008,321 1006,321 1004,320 1002,320 1002,320 1000,320 998,319 996,319 994,318 993,318 992,317 990,316 990,316 988,314 988,314 988,312 988,311 988,310 990,308 990,308 992,307 994,306 994,306 996,306 998,305 1000,305 1002,304 1004,304ZM1036,320 1038,319 1040,319 1042,320 1042,320 1044,322 1044,322 1046,324 1046,324 1047,326 1047,328 1047,330 1047,332 1047,334 1047,336 1046,338 1046,339 1046,340 1045,342 1044,343 1044,344 1042,346 1042,346 1040,348 1040,348 1038,350 1038,350 1036,351 1034,351 1032,350 1032,350 1030,348 1030,348 1029,346 1029,344 1028,342 1028,340 1028,338 1029,336 1029,334 1029,332 1030,330 1030,330 1031,328 1032,326 1032,325 1033,324 1034,322 1034,322 1036,320ZM831,392 832,392 834,391 836,391 838,391 840,392 840,392 842,393 844,393 846,394 847,394 848,394 850,395 852,395 854,395 856,395 858,395 860,395 862,394 864,394 866,394 866,394 868,394 870,393 872,393 874,393 876,393 878,393 880,392 882,392 884,392 886,393 888,393 890,393 892,393 894,393 896,393 898,393 900,392 902,392 904,392 906,392 908,392 910,392 912,392 914,392 916,392 918,393 920,393 922,394 923,394 924,394 926,395 928,396 929,396 930,397 932,397 934,398 934,398 936,400 936,400 937,402 936,403 935,404 934,404 932,405 930,406 930,406 928,407 926,407 924,408 924,408 922,408 920,409 918,409 916,410 914,410 912,410 912,410 910,410 908,411 906,411 904,411 902,412 900,412 899,412 898,412 896,412 894,412 892,412 890,412 888,412 886,412 884,412 882,412 880,412 878,412 876,412 874,412 872,412 870,412 868,412 866,412 866,412 864,412 862,412 860,412 858,411 856,411 854,412 852,412 852,412 850,413 848,414 848,414 846,415 844,416 844,416 842,417 840,417 838,418 836,418 834,418 832,417 830,417 828,416 827,416 826,415 824,414 823,414 822,413 820,412 821,410 822,408 822,406 822,404 822,402 822,402 823,400 824,398 824,398 826,396 826,396 828,394 828,394 830,393ZM755,408 756,407 758,406 760,406 762,406 764,406 766,407 768,407 770,407 772,408 774,408 776,407 778,407 780,407 782,407 784,407 786,407 788,407 790,407 792,407 794,407 796,407 798,408 800,408 800,408 802,408 804,409 806,410 808,410 808,410 810,411 812,412 812,412 812,412 811,414 810,414 808,415 806,415 804,416 802,416 800,416 798,416 796,416 794,416 792,415 790,415 788,415 786,415 784,415 782,415 780,415 778,415 776,415 774,415 772,415 770,416 769,416 768,416 766,417 764,417 762,417 760,417 758,417 756,416 756,416 754,414 754,414 753,412 754,410 754,409ZM762,430 762,430 764,430 766,430 768,430 768,430 770,430 772,431 774,431 776,431 778,432 780,432 781,432 782,432 784,433 786,433 788,434 788,434 788,434 786,436 786,436 784,437 782,437 781,438 780,438 778,439 776,439 774,440 774,440 772,440 770,441 768,441 766,442 764,442 762,442 760,442 758,441 756,441 754,440 754,440 752,439 751,438 751,436 752,435 753,434 754,433 756,432 756,432 758,431 760,430ZM383,460 384,459 386,459 388,459 389,460 390,460 391,462 392,464 392,464 393,466 393,468 392,468 390,468 388,468 386,468 384,468 382,468 380,468 379,468 379,466 380,464 380,464 381,462 382,461Z" fill="#fff0a6" fill-rule="evenodd"/>
<path d="M681,92 682,92 684,92 686,92 688,92 688,92 689,94 688,95 688,96 686,97 685,98 684,99 682,100 682,100 680,101 678,102 678,102 676,103 674,104 673,104 672,104 670,105 668,106 667,106 666,106 664,107 662,107 660,108 658,108 656,108 654,106 654,106 654,106 655,104 656,103 657,102 658,101 660,100 660,100 662,99 664,98 664,98 666,97 668,96 669,96 670,96 672,95 674,94 675,94 676,94 678,93 680,92ZM998,104 998,104 1000,104 1002,104 1004,104 1006,104 1007,104 1008,104 1010,105 1012,105 1014,106 1014,106 1016,107 1018,108 1018,108 1020,109 1022,110 1022,110 1024,112 1024,112 1026,114 1026,114 1027,116 1027,118 1026,118 1024,120 1023,120 1022,120 1020,120 1018,120 1016,120 1016,120 1014,120 1012,119 1010,119 1008,119 1006,118 1006,118 1004,118 1002,117 1000,116 1000,116 998,115 996,114 995,114 994,113 992,112 992,112 991,110 991,108 992,107 993,106 994,105 996,105ZM463,106 464,106 466,105 468,105 470,104 472,105 474,105 476,105 478,105 480,106 481,106 482,106 484,106 486,107 488,107 490,107 492,107 494,107 496,107 498,108 498,108 500,109 502,110 502,110 504,111 505,112 506,113 507,114 507,116 506,118 506,118 504,119 502,120 501,120 500,120 498,121 496,121 494,121 492,121 490,121 488,121 486,121 484,120 482,120 482,120 480,120 478,120 476,119 474,119 472,119 470,119 468,118 467,118 466,118 464,117 462,116 462,116 460,115 459,114 458,112 458,112 458,111 458,110 460,108 460,108 462,107ZM495,130 496,129 498,129 500,130 500,130 502,131 503,132 504,133 505,134 506,136 506,136 508,138 508,138 510,140 512,139 514,138 514,138 516,137 517,136 518,135 520,134 520,134 522,133 524,133 526,132 526,132 528,131 530,131 532,130 534,130 536,130 538,130 540,131 542,132 543,132 544,133 546,133 547,134 548,135 550,136 551,136 552,137 554,138 554,138 556,140 557,140 558,141 559,142 560,143 561,144 562,145 563,146 564,147 566,148 567,148 568,148 570,148 570,148 572,148 574,147 576,147 578,146 578,146 580,145 582,145 584,144 585,144 586,144 588,143 590,143 592,143 594,143 596,143 598,143 600,142 602,142 604,142 606,142 608,142 610,143 612,144 612,146 611,148 610,149 609,150 608,150 606,152 605,152 604,153 602,154 601,154 600,155 598,156 598,156 596,157 595,158 594,159 592,160 592,160 590,162 589,162 588,163 586,164 586,164 584,165 582,166 582,166 580,167 578,168 578,168 576,170 576,170 574,172 574,172 572,174 572,174 571,176 570,177 569,178 568,179 567,180 566,181 565,182 564,183 562,184 562,184 560,185 558,186 556,186 556,186 554,186 552,186 550,186 548,186 548,186 546,186 544,185 543,184 542,183 541,182 540,181 539,180 538,178 538,178 537,176 536,174 536,174 535,172 534,170 534,170 533,168 532,167 531,166 530,164 530,164 528,162 528,162 526,160 526,160 524,159 523,158 522,158 520,156 519,156 518,155 517,154 516,154 514,152 514,152 512,150 512,150 510,150 510,150 508,151 507,152 506,153 504,154 504,154 502,155 500,155 499,154 498,154 496,152 496,152 494,150 494,149 493,148 492,146 492,145 492,144 491,142 491,140 491,138 491,136 492,134 492,134 493,132 494,131ZM751,148 752,148 754,148 756,148 758,148 760,148 761,148 762,148 764,148 766,149 768,149 770,150 772,150 772,150 774,151 776,151 777,152 778,152 780,153 782,154 783,154 784,154 786,155 788,155 790,156 792,156 794,156 794,156 796,156 798,156 800,157 802,157 804,157 806,157 808,158 808,158 810,159 812,159 814,160 814,160 816,161 817,162 818,162 820,164 820,165 821,166 821,168 820,170 820,170 819,172 818,172 816,174 815,174 814,174 812,175 810,175 808,175 806,175 804,175 802,175 800,175 798,175 796,175 794,174 793,174 792,174 790,173 788,173 786,172 784,172 784,172 782,171 780,171 778,170 777,170 776,170 774,169 772,169 770,168 770,168 768,167 766,167 764,166 764,166 762,165 760,164 758,164 758,164 756,163 754,163 752,162 751,162 750,162 748,161 746,160 746,160 744,159 743,158 742,156 742,156 742,154 742,153 742,152 744,151 745,150 746,149 748,149 750,148ZM861,158 862,158 864,157 866,157 868,156 870,156 872,157 874,157 876,158 876,158 878,159 879,160 880,160 882,162 882,162 884,164 884,165 885,166 886,168 886,169 886,170 887,172 886,174 886,175 886,176 885,178 884,179 883,180 882,181 881,182 880,182 878,183 876,184 874,183 872,183 870,183 868,182 868,182 866,181 865,180 864,180 862,178 862,178 860,176 860,176 858,174 858,173 857,172 856,170 856,169 856,168 855,166 856,164 856,163 857,162 858,160 858,160 860,159ZM740,192 740,192 742,191 743,192 743,194 742,195 740,195 740,194ZM615,220 616,220 617,220 618,221 618,222 619,224 619,226 618,228 618,228 616,229 614,228 614,228 613,226 613,224 613,222 614,221ZM563,268 564,268 566,267 568,266 570,266 572,266 574,266 576,266 578,266 580,266 582,267 584,267 586,267 588,267 590,267 592,267 594,268 596,268 598,268 600,268 602,268 602,268 604,268 606,268 608,268 610,268 612,268 614,269 616,269 618,269 620,269 622,269 624,269 626,270 628,270 628,270 630,270 632,271 634,271 636,272 636,272 638,273 640,274 640,274 642,275 644,276 644,276 646,278 646,278 648,280 648,280 650,282 650,282 651,284 651,286 652,288 651,290 650,292 650,292 649,294 648,295 646,296 646,296 644,297 643,298 642,299 641,300 640,301 640,302 640,304 640,304 641,306 642,308 642,310 642,310 642,312 642,314 642,315 642,316 641,318 640,319 639,320 638,320 636,322 634,322 634,322 632,322 631,322 630,322 628,321 626,320 626,320 624,319 623,318 622,316 622,316 621,314 620,313 620,312 619,310 618,309 617,308 616,307 614,307 612,306 611,306 610,306 608,306 606,305 604,305 602,305 600,304 599,304 598,304 596,303 594,303 592,303 590,302 589,302 588,302 586,302 584,301 582,301 580,301 578,301 576,301 574,301 572,301 570,300 568,300 568,300 566,299 564,299 563,298 562,298 560,296 559,296 558,295 557,294 556,293 555,292 554,291 553,290 552,288 552,288 551,286 551,284 550,282 550,280 551,278 552,276 552,276 553,274 554,273 556,272 556,272 558,271 559,270 560,269 562,268ZM770,268 772,268 774,267 776,267 778,267 780,267 782,267 784,267 786,267 788,267 790,267 792,267 794,267 796,267 798,267 800,267 801,268 802,268 804,270 804,271 805,272 806,274 806,276 806,276 806,278 806,279 806,280 806,282 805,284 805,286 804,288 804,288 804,290 803,292 803,294 802,296 802,297 802,298 801,300 800,302 800,302 799,304 798,306 798,306 796,308 796,308 794,310 794,310 792,312 792,312 790,313 789,314 788,315 786,315 784,316 784,316 782,317 780,317 778,317 776,317 774,317 772,317 770,317 768,316 768,316 766,316 764,315 762,314 762,314 760,313 759,312 758,311 756,310 756,310 755,308 754,307 753,306 752,304 752,304 751,302 751,300 750,298 750,296 750,296 750,294 750,292 750,291 750,290 750,288 751,286 752,284 752,283 753,282 754,280 754,280 756,278 756,278 758,276 758,276 760,274 760,274 762,272 762,272 764,271 766,270 766,270 768,269 770,268ZM1038,326 1040,326 1041,326 1042,327 1043,328 1044,330 1044,331 1044,332 1044,334 1044,335 1044,336 1043,338 1042,340 1042,340 1041,342 1040,343 1038,344 1038,344 1036,345 1035,344 1034,343 1033,342 1033,340 1032,338 1033,336 1033,334 1034,332 1034,331 1034,330 1036,328 1036,328 1038,326ZM831,398 832,398 834,397 836,397 838,397 840,398 841,398 842,398 844,399 846,399 848,400 850,400 852,400 854,400 856,400 858,400 860,399 862,399 864,399 866,399 868,398 870,398 870,398 872,398 874,398 876,397 878,397 880,397 882,397 884,397 886,397 888,397 890,397 892,397 894,397 896,397 898,396 900,396 902,396 904,396 906,396 908,396 910,397 912,397 914,397 916,397 918,398 919,398 920,399 922,400 922,400 923,402 922,403 921,404 920,404 918,405 916,406 914,406 914,406 912,406 910,407 908,407 906,407 904,407 902,408 900,408 898,408 896,408 894,408 892,408 890,408 888,408 886,408 884,407 882,407 880,407 878,407 876,407 874,407 872,407 870,406 868,406 866,406 866,406 864,406 862,405 860,405 858,405 856,405 854,405 852,405 850,405 848,405 846,406 844,406 844,406 842,407 840,407 838,407 836,408 834,408 832,407 830,406 830,406 829,404 829,402 829,400 830,399Z" fill="#fee593" fill-rule="evenodd"/>
<path d="M678,94 678,94 680,93 682,93 684,93 685,94 685,96 684,97 683,98 682,99 680,100 680,100 678,101 676,102 675,102 674,103 672,103 670,104 670,104 668,105 666,105 664,105 662,106 660,105 658,104 660,102 660,102 662,100 662,100 664,99 666,98 666,98 668,97 670,97 671,96 672,96 674,95 676,94ZM999,106 1000,106 1002,105 1004,105 1006,105 1008,106 1008,106 1010,106 1012,107 1014,108 1014,108 1016,109 1017,110 1018,111 1020,112 1020,113 1021,114 1020,116 1020,116 1018,117 1016,117 1014,117 1012,117 1010,117 1008,116 1006,116 1006,116 1004,115 1002,114 1001,114 1000,113 998,112 998,112 997,110 997,108 998,107ZM463,108 464,108 466,107 468,106 470,106 472,106 474,106 476,107 478,107 480,107 482,108 484,108 486,108 488,108 490,108 491,108 492,108 494,108 496,108 498,109 500,110 500,110 502,111 503,112 504,113 504,114 504,116 504,116 502,118 502,118 500,119 498,120 496,120 495,120 494,120 492,120 491,120 490,120 488,120 486,119 484,119 482,119 480,119 478,118 476,118 476,118 474,118 472,117 470,117 468,117 466,116 466,116 464,115 462,114 462,114 461,112 461,110 462,109ZM495,132 496,132 498,131 500,132 500,132 502,133 503,134 504,135 504,136 506,138 506,139 507,140 507,142 508,144 507,146 507,148 506,149 505,150 504,151 502,152 502,152 500,152 500,152 498,151 497,150 496,150 495,148 494,146 494,146 493,144 493,142 492,140 492,138 493,136 494,134 494,133ZM519,138 520,138 522,137 524,137 526,136 528,136 530,136 532,136 534,137 536,137 538,138 539,138 540,138 542,139 543,140 544,140 546,142 547,142 548,143 549,144 550,145 551,146 552,147 553,148 554,150 554,150 556,152 556,152 558,153 560,154 560,154 562,154 564,154 565,154 566,154 568,153 570,152 571,152 572,151 574,151 575,150 576,150 578,149 580,148 580,148 582,147 584,147 586,146 586,146 588,146 590,145 592,145 594,145 596,145 598,145 600,145 602,145 604,145 606,146 607,146 606,148 606,148 604,149 603,150 602,151 600,152 599,152 598,153 596,154 596,154 594,156 593,156 592,157 591,158 590,159 588,160 588,160 586,161 584,162 584,162 582,163 580,164 580,164 578,165 577,166 576,166 574,168 574,168 572,170 572,170 570,172 570,173 569,174 568,175 568,176 566,178 566,178 564,180 564,180 562,181 561,182 560,182 558,183 556,184 555,184 554,184 552,184 550,184 550,184 548,184 546,183 545,182 544,181 542,180 542,179 541,178 540,176 540,176 539,174 538,172 538,171 537,170 537,168 536,166 536,166 535,164 534,162 534,162 532,160 532,160 530,158 530,158 528,157 527,156 526,156 524,155 523,154 522,154 520,152 520,152 518,151 517,150 516,149 515,148 514,146 514,144 515,142 516,140 516,140 518,139ZM749,152 750,152 752,151 754,151 756,151 758,151 760,151 762,152 764,152 764,152 766,153 768,153 770,154 772,154 772,154 774,155 776,155 778,156 779,156 780,156 782,157 784,157 786,157 788,157 790,157 792,158 794,158 796,158 797,158 798,158 800,158 802,159 804,159 806,160 807,160 808,160 810,161 812,162 812,162 814,164 814,164 816,166 816,168 815,170 814,171 812,172 811,172 810,172 808,173 806,173 804,173 802,173 800,173 798,173 796,173 794,173 792,172 791,172 790,172 788,171 786,171 784,170 783,170 782,170 780,169 778,168 778,168 776,167 774,166 773,166 772,165 770,164 769,164 768,163 766,162 765,162 764,162 762,161 760,161 758,160 756,160 756,160 754,160 752,159 750,158 750,158 748,157 747,156 747,154 748,153ZM866,162 866,162 868,161 870,161 872,161 874,161 876,162 876,162 878,163 879,164 880,165 880,166 882,168 882,169 882,170 882,172 882,174 882,174 881,176 880,177 879,178 878,179 876,179 874,179 872,179 870,179 869,178 868,178 866,176 866,176 864,174 864,174 863,172 862,170 862,168 862,166 863,164 864,163ZM570,268 572,268 574,267 576,267 578,267 580,267 582,268 584,268 586,268 587,268 588,268 590,268 592,268 594,268 596,268 598,269 600,269 602,269 604,269 606,269 608,269 610,269 612,270 614,270 616,270 616,270 618,270 620,270 622,271 624,271 626,272 627,272 628,272 630,273 632,273 633,274 634,274 636,275 638,276 638,276 640,277 641,278 642,279 643,280 644,281 645,282 646,284 646,285 646,286 646,288 646,288 645,290 644,292 644,292 642,294 642,294 640,295 639,296 638,297 637,298 636,299 635,300 635,302 636,304 636,304 638,306 638,307 639,308 640,310 640,311 640,312 640,313 640,314 639,316 638,318 638,318 636,319 634,320 634,320 632,320 630,320 630,320 628,319 626,318 626,318 624,316 624,316 623,314 622,312 622,312 622,310 621,308 620,306 620,306 618,305 616,304 616,304 614,304 612,303 610,303 608,303 606,303 604,302 602,302 602,302 600,302 598,301 596,301 594,301 592,300 590,300 590,300 588,300 586,299 584,299 582,299 580,299 578,299 576,299 574,298 572,298 572,298 570,297 568,297 566,296 566,296 564,295 563,294 562,293 561,292 560,291 560,290 558,288 558,287 558,286 557,284 557,282 557,280 557,278 558,277 558,276 560,274 560,274 562,272 562,272 564,270 565,270 566,269 568,269 570,268ZM775,270 776,270 778,270 780,270 781,270 782,270 784,270 786,270 788,270 790,270 791,270 792,270 794,270 796,270 798,270 798,270 800,271 801,272 802,274 802,275 802,276 802,278 802,279 802,280 801,282 800,284 800,285 800,286 799,288 799,290 799,292 798,294 798,295 798,296 797,298 796,300 796,300 795,302 794,304 794,304 792,306 792,306 790,308 790,308 788,309 787,310 786,310 784,311 782,312 782,312 780,312 778,313 776,313 774,312 772,312 772,312 770,311 768,310 768,310 766,309 764,308 764,308 762,306 762,306 760,304 760,304 758,302 758,301 757,300 757,298 756,296 756,295 756,294 756,292 756,290 756,289 756,288 757,286 758,284 758,283 759,282 760,280 760,280 761,278 762,277 763,276 764,275 766,274 766,274 768,272 769,272 770,271 772,271 774,270ZM1038,334 1038,333 1040,334 1039,336 1038,337 1037,336Z" fill="#fed884" fill-rule="evenodd"/>
<path d="M674,96 674,96 676,96 678,95 680,95 682,96 680,98 680,98 678,99 677,100 676,100 674,101 672,102 672,102 670,103 668,103 666,104 664,103 663,102 664,101 665,100 666,99 668,98 669,98 670,98 672,97ZM468,108 468,108 470,108 472,108 474,108 476,108 477,108 478,108 480,109 482,109 484,109 486,109 488,109 490,109 492,109 494,109 496,109 498,110 498,110 500,111 501,112 502,113 503,114 502,116 502,116 500,118 499,118 498,118 496,119 494,119 492,119 490,119 488,119 486,118 484,118 484,118 482,118 480,117 478,117 476,117 474,117 472,116 471,116 470,116 468,115 466,114 465,114 464,112 464,112 464,111 464,110 466,109ZM1002,108 1002,108 1004,107 1006,107 1008,108 1009,108 1010,109 1012,110 1013,110 1014,111 1015,112 1015,114 1014,114 1012,115 1010,115 1008,114 1007,114 1006,114 1004,113 1003,112 1002,111 1001,110ZM496,134 496,134 498,133 500,134 501,134 502,135 503,136 504,138 504,138 505,140 506,142 506,144 505,146 504,148 504,148 502,150 501,150 500,150 500,150 498,149 497,148 496,147 495,146 494,144 494,143 494,142 494,140 494,138 494,137 494,136ZM522,140 522,140 524,139 526,139 528,139 530,139 532,140 533,140 534,140 536,141 538,142 538,142 540,143 542,144 542,144 544,146 544,146 546,148 546,148 547,150 548,151 549,152 550,154 550,154 552,156 552,156 554,157 556,158 558,158 560,158 562,158 564,158 566,157 568,156 568,156 570,155 572,154 572,154 574,153 576,152 576,152 578,151 580,150 580,150 582,149 584,149 586,148 586,148 588,148 590,148 592,148 594,148 595,148 596,149 596,150 596,150 595,152 594,153 592,154 592,154 590,156 590,156 588,158 587,158 586,159 584,160 584,160 582,161 580,162 580,162 578,163 576,164 576,164 574,165 573,166 572,167 571,168 570,169 569,170 568,172 568,172 567,174 566,175 565,176 564,177 563,178 562,179 561,180 560,180 558,181 556,182 556,182 554,182 552,182 550,182 550,182 548,181 546,180 546,180 544,178 544,178 543,176 542,175 542,174 541,172 540,170 540,168 540,168 539,166 539,164 538,162 538,161 538,160 536,158 536,158 534,156 533,156 532,155 530,154 529,154 528,153 526,153 525,152 524,152 522,150 521,150 520,149 519,148 518,146 518,146 518,144 518,143 519,142 520,141ZM776,160 776,160 778,160 780,159 782,159 784,159 786,159 788,159 790,159 792,159 794,159 796,159 798,160 800,160 800,160 802,160 804,161 806,162 807,162 808,163 810,164 810,164 812,166 812,168 810,170 810,170 808,171 806,171 804,172 802,172 800,172 798,172 796,171 794,171 792,171 790,170 789,170 788,170 786,169 784,168 783,168 782,167 780,166 779,166 778,165 777,164 776,163 775,162ZM870,164 872,164 873,164 874,164 876,165 877,166 878,168 878,168 879,170 879,172 878,174 878,174 876,176 875,176 874,176 872,176 872,176 870,175 868,174 868,174 867,172 866,170 866,170 866,168 866,168 867,166 868,165 870,164ZM569,270 570,270 572,269 574,269 576,268 578,268 580,268 582,268 584,269 586,269 588,269 590,269 592,269 594,269 596,269 598,269 600,269 602,270 604,270 606,270 606,270 608,270 610,270 612,271 614,271 616,271 618,271 620,272 621,272 622,272 624,273 626,273 628,274 628,274 630,275 632,275 633,276 634,277 636,278 636,278 638,279 639,280 640,281 641,282 642,284 642,286 642,288 641,290 640,291 639,292 638,293 637,294 636,294 634,296 634,296 632,298 632,298 630,299 629,300 628,301 626,302 626,303 624,302 622,302 622,302 620,302 618,302 616,302 614,301 612,301 610,301 608,301 606,301 604,300 602,300 601,300 600,300 598,300 596,299 594,299 592,299 590,298 588,298 588,298 586,298 584,297 582,297 580,297 578,297 576,297 574,296 573,296 572,296 570,295 568,294 568,294 566,293 565,292 564,291 564,290 562,288 562,287 561,286 561,284 561,282 561,280 561,278 562,276 562,276 563,274 564,273 565,272 566,272 568,270ZM771,274 772,274 774,273 776,273 778,272 780,273 782,273 784,273 786,273 788,273 790,273 792,273 794,273 796,273 797,274 798,275 799,276 799,278 798,280 798,280 797,282 797,284 796,286 796,287 796,288 796,290 795,292 795,294 794,296 794,297 794,298 793,300 792,301 791,302 790,303 789,304 788,305 787,306 786,307 784,308 783,308 782,308 780,309 778,309 776,309 774,309 772,308 772,308 770,307 768,306 768,306 766,304 766,304 764,302 764,302 762,300 762,299 761,298 761,296 760,294 760,292 760,290 760,288 761,286 762,284 762,283 763,282 764,280 764,280 766,278 766,278 768,276 768,276 770,274ZM627,304 628,303 630,304 630,304 632,305 634,306 634,306 636,307 636,308 638,310 638,311 638,312 638,314 638,314 637,316 636,317 635,318 634,318 632,319 630,318 629,318 628,318 626,316 626,316 625,314 624,312 624,312 624,310 624,309 624,308 625,306 626,304Z" fill="#fdc776" fill-rule="evenodd"/>
<path d="M672,98 672,98 674,98 676,98 676,98 676,98 674,100 674,100 672,100 670,101 668,100 670,99ZM468,110 468,110 470,109 472,109 474,109 476,109 478,110 480,110 481,110 482,110 484,110 486,110 488,110 488,110 490,110 492,110 494,110 494,110 496,110 498,111 499,112 500,113 501,114 500,116 500,116 498,117 496,118 495,118 494,118 492,118 491,118 490,118 488,118 486,117 484,117 482,116 480,116 479,116 478,116 476,116 474,115 472,115 470,114 469,114 468,113 467,112ZM496,136 496,136 498,135 500,135 501,136 502,137 503,138 504,140 504,142 504,142 504,144 504,144 503,146 502,148 501,148 500,148 499,148 498,147 497,146 496,145 496,144 495,142 495,140 495,138ZM522,144 524,143 526,142 528,142 530,142 532,143 534,144 535,144 536,145 538,146 538,146 540,148 540,148 541,150 541,152 540,153 538,153 536,153 534,152 533,152 532,152 530,151 528,150 527,150 526,149 524,148 524,148 522,146ZM580,152 580,152 582,151 584,151 586,150 588,150 590,151 590,152 590,152 589,154 588,155 587,156 586,157 584,158 584,158 582,159 580,160 580,160 578,161 576,162 575,162 574,162 572,163 571,164 570,165 569,166 568,168 568,168 567,170 566,171 566,172 564,174 564,175 563,176 562,177 561,178 560,178 558,179 557,180 556,180 554,181 552,181 550,180 550,180 548,179 547,178 546,177 545,176 544,174 544,174 543,172 543,170 543,168 543,166 543,164 544,162 544,162 546,160 548,160 550,160 552,160 554,161 556,161 558,161 560,161 562,161 564,160 566,160 566,160 568,159 570,158 570,158 572,157 573,156 574,155 576,154 576,154 578,153ZM784,162 784,162 786,161 788,161 790,161 792,161 794,161 796,161 798,161 800,162 802,162 802,162 804,163 806,164 806,164 808,166 807,168 806,169 804,170 803,170 802,170 800,170 798,170 796,170 795,170 794,170 792,169 790,169 788,168 788,168 786,167 784,166 784,166 782,164ZM871,168 872,168 873,168 874,168 875,170 874,172 874,172 872,172 872,172 870,170ZM573,270 574,270 576,269 578,269 580,269 582,269 584,269 586,269 588,269 590,270 592,270 594,270 596,270 598,270 598,270 600,270 602,270 604,270 606,271 608,271 610,271 612,271 614,272 615,272 616,272 618,272 620,273 622,273 624,274 624,274 626,275 628,275 629,276 630,276 632,277 633,278 634,279 636,280 636,280 637,282 638,283 638,284 638,286 638,288 638,288 637,290 636,291 635,292 634,293 632,294 632,294 630,296 629,296 628,297 626,298 626,298 624,299 622,299 620,299 618,300 616,300 614,300 612,299 610,299 608,299 606,299 604,299 602,299 600,298 598,298 598,298 596,298 594,297 592,297 590,297 588,296 586,296 586,296 584,296 582,296 580,295 578,295 576,295 574,294 573,294 572,293 570,293 569,292 568,291 567,290 566,289 565,288 564,286 564,285 563,284 563,282 563,280 563,278 564,276 564,276 566,274 566,274 568,272 568,272 570,271 572,270ZM773,276 774,276 776,275 778,275 780,275 782,275 784,276 785,276 786,276 788,277 790,277 792,278 792,278 793,280 793,282 793,284 793,286 793,288 793,290 793,292 792,294 792,295 792,296 791,298 790,299 789,300 788,302 788,302 786,303 785,304 784,305 782,305 780,306 780,306 778,306 776,306 775,306 774,306 772,305 771,304 770,304 768,302 768,302 766,300 766,299 765,298 764,296 764,295 764,294 763,292 763,290 763,288 764,286 764,286 765,284 766,282 766,282 767,280 768,279 769,278 770,278 772,276ZM628,308 628,308 630,307 632,307 633,308 634,308 636,310 636,311 636,312 636,314 636,314 635,316 634,316 632,317 630,317 628,316 628,316 626,314 626,313 626,312 626,311 626,310Z" fill="#fdb768" fill-rule="evenodd"/>
<path d="M471,112 472,112 474,111 476,111 478,112 480,112 482,112 484,112 486,111 488,111 490,111 492,111 494,111 496,111 497,112 498,113 499,114 498,116 498,116 496,117 494,117 492,117 490,117 488,117 486,116 486,116 484,115 482,115 480,114 478,114 477,114 476,114 474,113 472,112ZM497,138 498,137 500,137 501,138 502,140 502,140 503,142 502,144 502,145 501,146 500,146 499,146 498,145 497,144 496,142 496,140 496,140 496,140ZM579,156 580,155 582,154 582,156 582,156 580,157ZM550,164 550,164 552,163 554,163 556,163 558,163 560,163 562,163 564,164 565,164 565,166 565,168 564,170 564,171 563,172 562,174 562,174 560,176 560,176 558,178 557,178 556,178 554,179 552,179 550,178 550,178 548,176 548,176 547,174 546,172 546,172 546,170 546,168 546,168 547,166 548,165ZM788,164 790,163 792,163 794,163 796,163 798,163 800,164 801,164 802,164 804,166 802,168 802,168 800,168 798,169 796,168 794,168 793,168 792,167 790,167 789,166ZM571,272 572,272 574,271 576,270 578,270 580,270 582,270 584,270 586,270 588,270 590,270 592,270 594,270 596,270 598,271 600,271 602,271 604,271 606,271 608,272 610,272 610,272 612,272 614,273 616,273 618,273 620,274 620,274 622,274 624,275 626,276 626,276 628,277 630,278 630,278 632,279 633,280 634,281 635,282 636,284 636,286 635,288 634,289 633,290 632,291 631,292 630,293 628,294 628,294 626,295 624,296 624,296 622,297 620,297 618,298 616,298 614,298 612,298 610,298 608,297 606,297 604,297 602,297 600,297 598,296 596,296 595,296 594,296 592,295 590,295 588,295 586,294 584,294 584,294 582,294 580,294 578,293 576,293 574,292 573,292 572,291 570,290 570,290 568,288 568,288 567,286 566,285 566,284 565,282 565,280 565,278 566,276 566,276 568,274 568,274 570,272ZM774,278 776,278 778,277 780,277 782,278 783,278 784,278 786,279 787,280 788,281 789,282 790,284 790,285 790,286 790,288 790,290 790,292 790,293 790,294 789,296 788,298 788,298 786,300 786,300 784,302 783,302 782,303 780,303 778,304 776,303 774,303 772,302 772,302 770,300 770,300 768,298 768,298 767,296 766,294 766,292 766,292 766,290 766,289 766,288 767,286 768,284 768,283 769,282 770,281 771,280 772,279 774,278ZM630,310 630,310 632,310 632,310 634,312 633,314 632,315 630,315 629,314 628,312Z" fill="#fba35c" fill-rule="evenodd"/>
<path d="M490,112 490,112 492,112 494,112 494,112 496,113 497,114 496,115 494,116 494,116 492,116 492,116 490,116 488,115 486,114 488,113ZM498,140 498,140 500,140 500,140 501,142 500,143 498,142 498,142ZM553,166 554,166 556,166 558,166 560,166 560,166 562,168 562,170 561,172 560,174 560,174 558,175 557,176 556,176 554,177 552,176 551,176 550,175 549,174 549,172 549,170 550,168 550,168 552,166ZM574,272 574,272 576,271 578,271 580,271 582,271 584,271 586,271 588,271 590,271 592,271 594,271 596,271 598,271 600,271 602,272 604,272 606,272 606,272 608,272 610,273 612,273 614,273 616,274 617,274 618,274 620,275 622,275 624,276 624,276 626,277 628,278 628,278 630,279 631,280 632,281 632,282 633,284 633,286 632,288 632,288 630,290 630,290 628,292 627,292 626,293 624,294 624,294 622,295 620,295 618,296 616,296 615,296 614,296 612,296 610,296 610,296 608,296 606,296 604,296 602,295 600,295 598,295 596,294 594,294 594,294 592,294 590,293 588,293 586,293 584,292 582,292 581,292 580,292 578,292 576,291 574,290 573,290 572,289 570,288 570,288 569,286 568,285 567,284 567,282 567,280 567,278 568,276 568,276 570,274 570,274 572,273ZM776,280 778,280 780,280 780,280 782,280 784,281 785,282 786,283 787,284 787,286 788,288 788,290 788,292 787,294 786,296 786,296 785,298 784,299 782,300 782,300 780,301 778,301 776,301 774,300 774,300 772,298 772,298 770,296 770,296 769,294 769,292 768,290 769,288 769,286 770,285 770,284 772,282 772,282 774,281 776,280Z" fill="#f98e52" fill-rule="evenodd"/>
<path d="M553,170 554,169 556,169 558,170 558,170 558,171 558,172 556,173 554,174 552,172ZM577,272 578,272 580,272 582,271 584,271 586,271 588,271 590,271 592,271 594,272 596,272 598,272 600,272 600,272 602,272 604,272 606,273 608,273 610,273 612,274 614,274 614,274 616,275 618,275 620,276 621,276 622,276 624,277 626,278 626,278 628,280 629,280 630,282 630,282 631,284 631,286 630,287 629,288 628,289 627,290 626,291 624,292 623,292 622,293 620,293 618,294 616,294 616,294 614,294 612,294 610,294 608,294 606,294 605,294 604,294 602,294 600,293 598,293 596,293 594,292 593,292 592,292 590,291 588,291 586,291 584,291 582,291 580,290 578,290 578,290 576,289 574,289 573,288 572,287 571,286 570,285 569,284 568,282 568,280 568,278 570,276 570,276 572,274 572,274 574,273 576,272ZM774,284 776,283 778,283 780,283 782,284 783,284 784,286 784,286 785,288 785,290 785,292 784,294 784,294 783,296 782,297 780,298 778,298 778,298 778,298 776,298 774,297 773,296 772,294 772,294 771,292 771,290 771,288 772,287 772,286 774,284Z" fill="#f57748" fill-rule="evenodd"/>
<path d="M574,274 574,274 576,273 578,273 580,272 582,272 584,272 586,272 588,272 590,272 592,272 594,272 596,272 598,272 600,273 602,273 604,273 606,273 608,274 610,274 610,274 612,274 614,275 616,275 618,276 619,276 620,277 622,277 624,278 624,278 626,280 627,280 628,282 628,282 629,284 628,286 628,287 627,288 626,288 624,290 623,290 622,291 620,291 618,292 617,292 616,292 614,292 612,292 610,292 608,292 606,292 604,292 603,292 602,292 600,292 598,291 596,291 594,290 592,290 592,290 590,290 588,289 586,289 584,289 582,289 580,289 578,288 577,288 576,288 574,287 573,286 572,285 571,284 570,282 570,282 570,280 570,278 570,278 571,276 572,275ZM775,288 776,287 778,286 780,287 781,288 782,290 781,292 780,293 779,294 778,294 778,294 776,293 775,292 775,290Z" fill="#ee6445" fill-rule="evenodd"/>
<path d="M576,274 578,273 580,273 582,273 584,273 586,273 588,273 590,273 592,273 594,273 596,273 598,273 600,273 602,273 604,274 606,274 607,274 608,274 610,275 612,275 614,275 616,276 616,276 618,277 620,277 621,278 622,278 624,280 625,280 626,281 627,282 627,284 626,286 626,286 624,288 624,288 622,289 620,289 618,290 618,290 616,290 614,291 612,291 610,291 608,291 606,291 604,290 602,290 601,290 600,290 598,290 596,289 594,289 592,288 590,288 589,288 588,288 586,288 584,288 582,288 580,287 578,287 576,286 575,286 574,285 573,284 572,283 571,282 571,280 571,278 572,277 573,276 574,275 576,274Z" fill="#e45549" fill-rule="evenodd"/>
<path d="M579,274 580,274 582,274 584,273 586,273 588,273 590,273 592,273 594,273 596,273 598,274 600,274 602,274 603,274 604,274 606,274 608,275 610,275 612,276 613,276 614,276 616,277 618,277 619,278 620,278 622,279 623,280 624,281 625,282 625,284 624,285 624,286 622,287 620,288 620,288 618,288 616,289 614,289 612,289 610,289 608,289 606,289 604,289 602,289 600,288 598,288 598,288 596,288 594,287 592,287 590,287 588,287 586,287 584,286 582,286 580,286 580,286 578,286 576,285 575,284 574,283 573,282 573,280 573,278 574,277 575,276 576,275 578,274Z" fill="#d9444d" fill-rule="evenodd"/>
<path d="M586,274 586,274 588,274 590,274 592,274 594,274 596,274 597,274 598,274 600,274 602,275 604,275 606,275 608,275 610,276 611,276 612,276 614,277 616,278 617,278 618,278 620,279 621,280 622,281 623,282 623,284 622,285 621,286 620,286 618,287 616,287 614,288 612,288 610,288 608,288 606,288 604,287 602,287 600,287 598,287 596,287 594,286 593,286 592,286 590,286 588,285 586,285 584,285 582,285 580,285 578,284 577,284 576,283 575,282 574,280 575,278 576,276 577,276 578,275 580,275 582,274 584,274Z" fill="#cb334d" fill-rule="evenodd"/>
<path d="M579,276 580,276 582,275 584,275 586,275 588,275 590,275 592,275 594,275 596,275 598,275 600,275 602,275 604,275 606,276 608,276 608,276 610,277 612,277 614,278 615,278 616,279 618,280 619,280 620,281 621,282 620,284 620,284 618,285 616,286 616,286 614,286 612,287 610,287 608,287 606,286 604,286 602,286 601,286 600,286 598,286 596,285 594,285 592,285 590,285 588,284 586,284 584,284 583,284 582,284 580,283 578,283 577,282 576,280 576,280 576,279 576,278 578,277Z" fill="#b81e48" fill-rule="evenodd"/>
<path d="M583,276 584,276 586,276 588,275 590,275 592,275 594,275 596,275 598,275 600,276 602,276 604,276 604,276 606,276 608,277 610,277 612,278 612,278 614,279 616,280 617,280 618,282 618,282 618,283 617,284 616,285 614,285 612,285 610,285 608,285 606,285 604,285 602,285 600,285 598,285 596,284 594,284 593,284 592,284 590,284 588,283 586,283 584,283 582,283 580,282 580,282 578,280 578,280 578,279 578,278 580,277 582,276Z" fill="#a70b44" fill-rule="evenodd"/>
<path d="M591,276 592,276 594,276 596,276 598,276 598,276 600,276 602,277 604,277 606,277 608,278 609,278 610,278 612,279 614,280 614,280 616,282 614,283 613,284 612,284 610,284 608,284 606,284 604,284 602,284 601,284 600,284 598,284 596,283 594,283 592,283 590,282 588,282 587,282 586,282 584,281 582,281 581,280 581,278 582,278 584,277 586,277 588,276 590,276Z" fill="#9e0142" fill-rule="evenodd"/>
<path d="M415.2,410.8 L1040.4,410.8 M352.1,338.8 L1103.5,338.8 M336.4,265.0 L1119.2,265.0 M352.1,191.2 L1103.5,191.2 M415.2,119.2 L1040.4,119.2 M588.9,463.5 585.1,461.9 580.8,459.9 576.1,457.5 571.0,454.6 565.7,451.5 560.2,448.0 554.8,444.3 549.6,440.4 544.8,436.5 540.3,432.4 535.9,428.3 531.7,424.0 527.5,419.7 523.4,415.3 519.4,410.8 515.5,406.3 511.8,401.7 508.1,397.0 504.6,392.3 501.4,387.6 498.3,382.8 495.4,378.0 492.6,373.2 489.9,368.3 487.3,363.4 485.0,358.5 482.9,353.6 480.9,348.7 479.0,343.8 477.3,338.8 475.8,333.9 474.5,329.0 473.4,324.1 472.4,319.2 471.5,314.2 470.7,309.3 469.9,304.4 469.2,299.5 468.6,294.5 468.1,289.6 467.7,284.7 467.4,279.8 467.1,274.8 467.0,269.9 466.9,265.0 467.0,260.1 467.1,255.2 467.4,250.2 467.7,245.3 468.1,240.4 468.6,235.5 469.2,230.5 469.9,225.6 470.7,220.7 471.5,215.8 472.4,210.8 473.4,205.9 474.5,201.0 475.8,196.1 477.3,191.2 479.0,186.2 480.9,181.3 482.9,176.4 485.0,171.5 487.3,166.6 489.9,161.7 492.6,156.8 495.4,152.0 498.3,147.2 501.4,142.4 504.6,137.7 508.1,133.0 511.8,128.3 515.5,123.7 519.4,119.2 523.4,114.7 527.5,110.3 531.7,106.0 535.9,101.7 540.3,97.6 544.8,93.5 549.6,89.6 554.8,85.7 560.2,82.0 565.7,78.5 571.0,75.4 576.1,72.5 580.8,70.1 585.1,68.1 588.9,66.5 M658.4,463.5 656.5,461.9 654.3,459.9 651.9,457.5 649.4,454.6 646.7,451.5 644.0,448.0 641.3,444.3 638.7,440.4 636.3,436.5 634.1,432.4 631.9,428.3 629.7,424.0 627.7,419.7 625.6,415.3 623.6,410.8 621.7,406.3 619.8,401.7 618.0,397.0 616.2,392.3 614.6,387.6 613.0,382.8 611.6,378.0 610.2,373.2 608.8,368.3 607.6,363.4 606.4,358.5 605.3,353.6 604.3,348.7 603.4,343.8 602.6,338.8 601.8,333.9 601.2,329.0 600.6,324.1 600.1,319.2 599.7,314.2 599.2,309.3 598.8,304.4 598.5,299.5 598.2,294.5 597.9,289.6 597.7,284.7 597.6,279.8 597.5,274.8 597.4,269.9 597.3,265.0 597.4,260.1 597.5,255.2 597.6,250.2 597.7,245.3 597.9,240.4 598.2,235.5 598.5,230.5 598.8,225.6 599.2,220.7 599.7,215.8 600.1,210.8 600.6,205.9 601.2,201.0 601.8,196.1 602.6,191.2 603.4,186.2 604.3,181.3 605.3,176.4 606.4,171.5 607.6,166.6 608.8,161.7 610.2,156.8 611.6,152.0 613.0,147.2 614.6,142.4 616.2,137.7 618.0,133.0 619.8,128.3 621.7,123.7 623.6,119.2 625.6,114.7 627.7,110.3 629.7,106.0 631.9,101.7 634.1,97.6 636.3,93.5 638.7,89.6 641.3,85.7 644.0,82.0 646.7,78.5 649.4,75.4 651.9,72.5 654.3,70.1 656.5,68.1 658.4,66.5 M727.8,463.5 727.8,461.9 727.8,459.9 727.8,457.5 727.8,454.6 727.8,451.5 727.8,448.0 727.8,444.3 727.8,440.4 727.8,436.5 727.8,432.4 727.8,428.3 727.8,424.0 727.8,419.7 727.8,415.3 727.8,410.8 727.8,406.3 727.8,401.7 727.8,397.0 727.8,392.3 727.8,387.6 727.8,382.8 727.8,378.0 727.8,373.2 727.8,368.3 727.8,363.4 727.8,358.5 727.8,353.6 727.8,348.7 727.8,343.8 727.8,338.8 727.8,333.9 727.8,329.0 727.8,324.1 727.8,319.2 727.8,314.2 727.8,309.3 727.8,304.4 727.8,299.5 727.8,294.5 727.8,289.6 727.8,284.7 727.8,279.8 727.8,274.8 727.8,269.9 727.8,265.0 727.8,260.1 727.8,255.2 727.8,250.2 727.8,245.3 727.8,240.4 727.8,235.5 727.8,230.5 727.8,225.6 727.8,220.7 727.8,215.8 727.8,210.8 727.8,205.9 727.8,201.0 727.8,196.1 727.8,191.2 727.8,186.2 727.8,181.3 727.8,176.4 727.8,171.5 727.8,166.6 727.8,161.7 727.8,156.8 727.8,152.0 727.8,147.2 727.8,142.4 727.8,137.7 727.8,133.0 727.8,128.3 727.8,123.7 727.8,119.2 727.8,114.7 727.8,110.3 727.8,106.0 727.8,101.7 727.8,97.6 727.8,93.5 727.8,89.6 727.8,85.7 727.8,82.0 727.8,78.5 727.8,75.4 727.8,72.5 727.8,70.1 727.8,68.1 727.8,66.5 M797.2,463.5 799.1,461.9 801.3,459.9 803.7,457.5 806.2,454.6 808.9,451.5 811.6,448.0 814.3,444.3 816.9,440.4 819.3,436.5 821.5,432.4 823.7,428.3 825.9,424.0 827.9,419.7 830.0,415.3 832.0,410.8 833.9,406.3 835.8,401.7 837.6,397.0 839.4,392.3 841.0,387.6 842.6,382.8 844.0,378.0 845.4,373.2 846.8,368.3 848.0,363.4 849.2,358.5 850.3,353.6 851.3,348.7 852.2,343.8 853.0,338.8 853.8,333.9 854.4,329.0 855.0,324.1 855.5,319.2 855.9,314.2 856.4,309.3 856.8,304.4 857.1,299.5 857.4,294.5 857.7,289.6 857.9,284.7 858.0,279.8 858.1,274.8 858.2,269.9 858.3,265.0 858.2,260.1 858.1,255.2 858.0,250.2 857.9,245.3 857.7,240.4 857.4,235.5 857.1,230.5 856.8,225.6 856.4,220.7 855.9,215.8 855.5,210.8 855.0,205.9 854.4,201.0 853.8,196.1 853.0,191.2 852.2,186.2 851.3,181.3 850.3,176.4 849.2,171.5 848.0,166.6 846.8,161.7 845.4,156.8 844.0,152.0 842.6,147.2 841.0,142.4 839.4,137.7 837.6,133.0 835.8,128.3 833.9,123.7 832.0,119.2 830.0,114.7 827.9,110.3 825.9,106.0 823.7,101.7 821.5,97.6 819.3,93.5 816.9,89.6 814.3,85.7 811.6,82.0 808.9,78.5 806.2,75.4 803.7,72.5 801.3,70.1 799.1,68.1 797.2,66.5 M866.7,463.5 870.5,461.9 874.8,459.9 879.5,457.5 884.6,454.6 889.9,451.5 895.4,448.0 900.8,444.3 906.0,440.4 910.8,436.5 915.3,432.4 919.7,428.3 923.9,424.0 928.1,419.7 932.2,415.3 936.2,410.8 940.1,406.3 943.8,401.7 947.5,397.0 951.0,392.3 954.2,387.6 957.3,382.8 960.2,378.0 963.0,373.2 965.7,368.3 968.3,363.4 970.6,358.5 972.7,353.6 974.7,348.7 976.6,343.8 978.3,338.8 979.8,333.9 981.1,329.0 982.2,324.1 983.2,319.2 984.1,314.2 984.9,309.3 985.7,304.4 986.4,299.5 987.0,294.5 987.5,289.6 987.9,284.7 988.2,279.8 988.5,274.8 988.6,269.9 988.7,265.0 988.6,260.1 988.5,255.2 988.2,250.2 987.9,245.3 987.5,240.4 987.0,235.5 986.4,230.5 985.7,225.6 984.9,220.7 984.1,215.8 983.2,210.8 982.2,205.9 981.1,201.0 979.8,196.1 978.3,191.2 976.6,186.2 974.7,181.3 972.7,176.4 970.6,171.5 968.3,166.6 965.7,161.7 963.0,156.8 960.2,152.0 957.3,147.2 954.2,142.4 951.0,137.7 947.5,133.0 943.8,128.3 940.1,123.7 936.2,119.2 932.2,114.7 928.1,110.3 923.9,106.0 919.7,101.7 915.3,97.6 910.8,93.5 906.0,89.6 900.8,85.7 895.4,82.0 889.9,78.5 884.6,75.4 879.5,72.5 874.8,70.1 870.5,68.1 866.7,66.5" fill="none" stroke="#808080" stroke-opacity="0.2" stroke-width="1"/>
<path d="M560.3,243.8 557.8,241.9 555.7,241.4 553.4,242.6 551.3,243.1 549.8,242.8 548.2,240.4 546.8,237.9 547.3,234.2 547.7,231.8 548.7,228.1 547.2,226.1 545.1,225.6 541.8,226.1 538.6,226.1 536.9,225.6 538.3,223.2 538.8,220.7 540.0,219.5 541.1,215.8 542.8,212.8 541.4,212.1 538.2,212.3 535.3,213.3 534.5,215.8 533.1,218.2 531.3,219.2 528.7,219.7 525.4,220.2 522.8,218.7 521.8,217.0 520.4,213.3 519.9,209.6 520.7,205.9 522.5,201.5 522.5,199.8 524.0,196.6 527.7,194.1 529.8,192.6 533.5,191.9 536.5,192.4 538.4,193.1 540.7,193.4 541.1,190.7 544.3,190.4 547.5,190.2 549.6,191.9 552.0,191.2 553.3,191.9 554.2,194.9 554.3,197.3 555.2,200.5 556.3,203.0 557.6,203.0 558.7,201.5 559.4,198.5 558.9,195.3 558.5,192.4 558.2,189.9 559.2,187.5 561.1,185.5 564.9,182.8 567.7,181.3 570.8,179.6 573.2,178.4 573.1,176.9 573.1,174.7 572.5,173.9 573.8,170.3 573.4,173.7 576.1,170.7 576.1,168.1 576.7,169.3 578.7,167.8 579.9,165.4 584.3,164.1 588.8,162.4 589.0,161.7 587.8,160.5 588.4,159.3 590.3,157.6 594.8,155.9 597.2,154.4 601.3,153.9 602.5,153.2 598.0,156.8 599.0,158.1 603.8,155.4 609.1,153.7 611.6,152.0 611.3,149.6 608.5,152.7 605.6,152.5 604.0,151.5 602.5,150.1 603.5,148.4 602.5,147.2 605.5,145.3 604.5,144.3 600.3,145.3 594.7,147.7 591.0,150.1 593.5,148.4 597.5,145.3 600.9,143.6 605.3,141.9 611.0,141.7 614.7,141.9 616.9,141.2 621.4,138.8 624.2,137.7 624.8,135.3 623.2,133.7 622.3,131.1 619.3,129.5 617.6,127.2 617.6,124.9 616.9,122.6 616.1,118.5 615.3,118.5 611.0,121.9 608.1,122.6 606.0,121.4 607.1,119.2 607.4,116.9 604.6,115.8 602.6,114.7 599.6,114.0 595.4,114.0 593.7,116.9 593.2,119.2 590.2,121.4 591.3,122.6 591.5,124.9 590.3,127.2 586.8,129.5 583.1,131.3 583.2,133.0 582.0,136.5 580.3,138.8 578.1,139.6 576.6,138.8 575.9,136.5 576.5,135.3 578.5,130.4 573.9,129.9 570.1,127.2 567.2,126.0 562.7,126.0 564.0,122.6 562.6,122.1 561.8,121.4 564.5,118.1 569.4,114.7 575.1,111.4 577.6,110.3 580.9,110.3 580.0,109.2 583.7,107.5 585.7,107.0 587.7,105.3 591.8,105.3 596.4,103.8 595.2,102.8 597.9,101.1 599.0,99.6 598.4,98.2 593.4,98.6 590.3,101.7 587.6,103.2 586.3,102.8 587.9,100.7 587.1,99.6 583.9,100.7 584.0,98.6 584.1,97.6 585.0,95.5 583.7,93.5 582.0,94.5 576.9,98.6 576.0,100.7 573.6,100.7 570.8,102.1 564.3,102.1 560.9,100.7 556.1,100.7 554.2,102.8 551.9,101.7 546.7,102.1 545.1,101.3 542.8,99.6 538.3,98.0 532.7,98.8 532.5,97.6 529.0,96.5 524.9,97.4 517.2,98.6 512.8,99.6 506.5,98.4 504.6,97.4 497.4,97.0 492.6,95.9 487.1,94.9 481.7,95.9 471.6,98.6 462.0,101.1 464.1,102.8 464.5,104.9 461.2,104.9 452.0,106.8 451.9,108.8 454.7,109.2 458.0,109.2 459.9,109.6 456.0,111.4 451.0,112.1 448.2,113.6 443.7,115.8 442.7,118.1 443.4,119.6 446.0,119.6 443.1,122.1 446.8,121.9 449.5,121.9 450.5,122.6 445.7,125.3 441.0,127.2 437.1,128.3 432.4,130.2 427.6,131.6 430.5,131.1 434.2,130.2 439.3,128.8 444.8,126.9 450.6,124.9 456.6,122.6 460.0,120.3 463.8,118.5 467.2,116.9 470.3,116.5 466.0,118.1 462.5,120.8 465.0,120.5 469.1,119.2 472.8,117.4 476.0,117.6 478.0,119.0 481.2,119.2 484.2,119.6 485.7,120.8 486.8,122.4 489.2,122.6 490.6,124.9 491.2,127.2 491.0,129.5 490.4,131.8 490.7,134.1 490.7,136.5 489.8,138.8 491.4,140.5 492.3,142.4 494.2,144.1 494.7,145.3 492.7,148.4 492.8,146.7 489.9,146.2 488.7,148.4 487.9,151.5 485.5,155.6 482.3,159.3 481.5,162.2 479.2,165.6 479.1,167.8 479.3,170.7 479.6,172.2 479.6,174.4 480.0,177.4 480.2,179.8 482.3,180.3 484.1,181.3 485.7,183.3 485.7,185.0 486.0,188.7 486.5,191.9 488.3,194.9 487.2,196.8 488.6,199.3 490.9,201.5 490.6,204.7 492.7,207.2 494.1,208.6 495.3,207.6 494.1,205.4 493.0,203.5 491.7,199.8 490.9,196.1 490.2,193.6 488.8,189.9 489.6,186.7 492.1,187.5 492.3,189.9 492.9,193.6 494.7,196.1 496.8,198.5 496.9,201.0 498.4,202.7 501.0,205.9 502.5,208.9 503.5,212.1 502.7,214.5 503.4,217.0 506.1,220.0 509.6,221.2 512.2,222.7 515.2,224.1 518.2,225.9 521.4,226.4 524.1,225.1 526.1,225.9 529.0,229.1 531.0,230.5 534.2,231.5 536.9,232.5 539.0,232.5 538.9,233.5 540.9,236.0 542.5,237.9 542.3,240.4 544.4,241.4 546.5,242.8 546.9,244.1 548.3,244.8 550.7,245.3 552.1,247.0 553.7,246.8 554.4,244.6 555.6,242.8 558.1,244.6 558.7,246.5 558.9,247.3M560.3,243.8 561.4,243.6 563.7,241.6 564.5,239.2 566.1,237.7 568.9,237.2 571.6,235.7 573.8,234.5 572.4,236.4 573.4,238.2 576.1,236.9 576.6,235.0 577.6,236.7 580.1,237.9 580.7,239.2 585.0,238.9 588.2,239.9 591.5,238.7 593.7,238.7 592.6,239.9 595.7,241.6 596.1,244.1 598.8,245.3 600.9,247.8 603.7,250.2 607.3,250.5 610.6,250.7 613.8,252.7 616.0,254.2 617.0,257.6 618.5,260.6 619.1,263.8 618.0,265.0 621.3,265.5 623.0,266.7 624.5,266.5 627.8,267.7 631.1,269.9 631.5,271.6 634.3,270.9 637.6,272.1 640.9,271.9 644.2,274.1 647.0,276.8 650.7,277.6 651.9,281.0 652.4,284.7 651.4,288.4 648.9,291.3 646.8,294.0 644.7,297.0 643.8,300.7 644.0,305.6 643.2,309.3 642.7,313.2 641.4,316.2 640.5,319.2 638.6,321.4 635.4,321.6 632.7,322.6 629.6,324.1 626.7,326.5 625.2,329.0 625.6,332.7 625.1,335.4 623.4,338.3 621.7,341.3 619.7,344.3 617.6,348.2 616.0,350.4 613.4,350.9 609.7,349.7 607.6,348.7 608.2,350.4 610.6,352.4 611.7,354.8 611.1,358.5 608.8,360.2 605.0,361.0 602.5,360.7 603.5,364.6 602.3,366.1 598.2,365.9 599.1,369.0 601.9,369.5 599.8,371.2 600.2,375.1 597.6,376.8 597.5,379.2 601.0,381.1 601.6,382.8 599.8,385.9 598.8,388.3 598.8,390.7 600.9,393.0 599.0,393.3 597.0,394.7 596.7,396.6 593.4,395.4 589.3,392.3 586.2,388.8 583.9,384.0 584.4,380.4 582.1,379.4 584.0,376.8 583.7,373.2 583.5,369.5 581.3,367.8 580.1,363.4 579.8,359.7 578.5,356.6 579.1,353.1 579.9,349.9 579.9,346.2 579.0,341.3 578.5,337.6 578.5,332.7 578.8,327.8 578.4,322.8 578.5,317.9 577.5,313.0 577.0,310.0 574.4,307.6 571.0,305.6 566.5,303.2 563.3,299.5 563.2,298.2 561.0,294.5 559.0,290.4 557.1,286.7 554.7,282.7 552.0,279.8 551.2,276.1 553.3,273.4 554.1,270.7 552.0,270.7 552.1,267.5 553.9,264.5 553.9,262.8 556.3,261.6 557.2,258.8 559.4,257.6 560.1,255.2 559.6,251.2 559.9,248.3 558.9,247.3M601.3,394.0 602.6,395.9 606.6,398.2 609.1,398.7 607.2,399.6 603.9,400.3 600.9,399.8 597.4,398.2 595.1,397.0 598.3,396.1 598.0,394.5 600.2,394.0ZM613.8,390.9 615.6,390.7 617.2,391.4 616.9,392.8 614.8,392.6ZM617.6,390.9 619.9,391.2 619.9,392.3 618.2,392.8 617.4,391.9ZM593.9,238.7 596.1,238.4 595.8,240.1 593.8,240.1ZM587.6,112.9 589.4,114.0 592.2,113.6 590.4,112.5ZM614.1,148.1 617.2,144.3 618.7,142.4 621.0,140.0 624.3,138.6 622.3,141.9 622.7,143.6 625.5,143.6 625.9,145.5 626.4,147.2 626.7,148.4 625.2,150.3 623.8,149.8 623.7,148.6 620.9,149.8 620.4,148.1 617.5,148.1ZM606.0,142.6 610.1,144.6 610.8,144.1 607.9,142.6ZM604.0,149.8 608.1,150.8 607.1,152.0 604.5,151.3ZM453.5,124.6 455.6,126.0 458.1,124.2 457.7,123.3ZM440.3,111.0 443.1,112.3 444.3,111.6 442.6,110.7ZM437.9,118.7 439.4,119.6 440.9,118.5 439.6,118.3ZM580.0,165.1 584.2,164.4 584.3,163.9 580.8,164.4ZM547.1,211.1 551.5,208.4 554.7,208.1 557.8,208.6 561.9,210.1 565.8,212.8 567.8,214.0 569.4,215.3 566.5,216.0 561.8,216.1 563.1,214.3 560.4,213.3 557.5,211.6 554.4,210.4 552.4,209.6 550.2,210.4 547.9,211.3ZM568.5,220.0 572.5,220.2 574.5,221.4 576.8,220.0 581.1,220.0 580.2,218.2 578.2,216.5 574.6,216.3 571.9,216.0 570.9,216.8 572.3,218.0 572.8,219.2 568.5,219.2ZM560.1,220.0 562.9,219.5 564.5,220.7 562.8,221.2 560.2,220.7ZM583.9,219.7 587.1,219.7 586.8,220.7 583.8,220.7ZM562.4,203.2 562.9,205.4 563.4,203.5ZM563.9,199.0 565.4,200.0 565.1,201.0ZM566.1,202.7 566.7,204.2 566.7,203.0ZM570.9,213.1 572.0,212.8 571.5,213.6ZM580.7,368.3 582.3,369.0 582.8,371.7 581.3,371.2ZM584.7,385.2 586.5,385.9 587.1,387.8 585.7,387.6ZM528.9,265.7 529.9,265.7 530.0,267.5 528.9,267.2ZM651.3,119.6 648.5,117.4 644.8,115.8 643.5,112.5 642.0,109.9 641.5,107.0 641.1,104.3 642.3,101.7 647.2,99.6 644.3,99.0 643.2,96.5 647.2,96.1 644.2,94.5 643.7,92.5 643.9,89.6 643.3,87.0 639.8,85.7 632.6,85.7 629.3,85.3 627.0,83.8 629.7,82.4 626.3,81.5 634.7,79.9 640.0,78.5 638.0,77.7 645.8,76.4 649.4,75.4 653.5,75.1 657.6,74.9 662.3,74.7 667.0,74.5 669.0,75.4 676.7,73.5 681.2,73.3 685.8,73.1 689.5,73.3 693.3,73.5 699.4,74.3 696.4,75.4 702.8,76.1 707.4,76.0 712.0,76.0 705.0,77.7 703.3,79.4 701.5,81.1 701.5,83.8 699.0,85.7 699.3,87.6 697.5,89.0 694.9,90.5 693.5,93.5 693.6,96.5 687.5,96.3 691.9,97.6 692.6,98.0 688.3,99.6 683.2,101.1 678.3,101.5 674.6,103.2 668.9,106.2 665.4,106.8 661.7,108.1 659.0,111.4 655.4,114.7 653.5,118.1ZM641.8,98.4 646.0,98.8 646.6,97.6 643.7,97.0ZM687.5,107.0 692.0,105.1 694.2,106.6 698.4,105.5 701.8,104.9 703.9,106.4 705.3,108.1 702.8,109.6 697.6,111.4 693.4,111.2 690.2,110.5 691.2,109.4 688.1,108.3 691.6,107.5ZM394.8,215.3 396.7,216.3 396.9,217.0 394.9,218.2 394.4,216.8ZM393.7,213.3 395.1,213.8 394.3,214.3ZM390.9,211.8 391.8,212.3 391.1,212.6ZM388.1,210.4 388.8,210.6 388.3,211.1ZM450.7,105.8 448.1,103.8 445.8,102.1 442.9,99.8M1012.7,99.8 1008.2,99.0 1001.9,98.0 995.0,97.6 996.5,99.6 991.2,98.2 983.4,98.2 980.8,98.6 974.2,96.1 967.1,95.5 962.7,95.7 957.7,94.3 949.6,92.9 940.6,91.9 940.2,92.7 941.1,94.5 936.5,94.5 931.3,94.1 930.5,95.9 927.2,95.1 924.5,93.5 917.9,90.7 912.7,90.1 912.9,91.5 906.9,91.5 897.8,90.1 897.7,90.7 891.1,89.6 888.4,91.1 886.7,90.9 891.1,89.6 892.0,86.7 891.2,86.1 881.8,84.4 874.2,82.6 870.9,84.8 868.9,85.5 863.5,85.9 857.3,86.9 855.0,89.0 855.8,89.9 850.2,90.3 848.1,90.5 854.8,94.1 857.5,96.5 849.8,93.5 847.0,92.9 845.2,93.5 841.0,91.9 841.4,93.5 842.0,95.5 842.5,98.6 845.8,101.7 847.4,103.8 845.1,105.3 841.5,104.7 842.8,102.8 842.4,99.6 840.9,96.5 839.0,94.5 834.7,91.5 832.1,92.1 832.1,94.5 830.9,95.5 832.9,98.2 832.9,99.6 836.0,100.9 830.3,99.2 823.3,98.0 823.0,100.3 819.6,99.8 815.2,100.7 813.9,101.3 811.7,99.8 807.7,101.5 805.6,102.4 803.1,104.0 799.6,101.3 796.6,100.5 798.9,103.8 799.6,105.8 797.0,105.1 792.8,104.9 794.7,108.1 794.1,109.0 791.0,109.6 790.5,110.5 786.0,109.6 784.8,107.0 781.4,104.9 784.6,104.5 789.8,105.8 794.2,104.3 794.0,102.6 789.1,101.1 783.0,99.2 779.7,98.8 776.2,97.6 772.7,95.9 767.9,95.3 763.5,96.3 760.5,97.2 756.9,98.6 753.2,100.7 751.1,102.8 749.0,105.5 748.4,107.7 746.1,109.2 744.2,111.2 741.3,112.1 738.0,113.8 736.4,115.8 736.4,118.1 737.1,120.8 738.0,122.6 740.5,123.7 742.8,123.0 745.3,121.4 746.2,119.6 747.1,121.4 747.7,123.0 749.1,124.9 750.6,127.9 750.9,129.5 753.7,129.5 754.4,127.9 757.2,126.9 757.4,124.2 757.7,122.1 760.4,119.9 759.3,118.1 757.4,116.9 757.5,113.6 759.7,111.4 762.7,109.2 763.9,106.6 767.1,106.4 769.6,108.1 768.6,109.6 765.7,112.1 763.9,113.6 764.8,116.9 765.0,118.1 767.8,119.4 771.1,118.7 775.3,118.1 779.0,119.2 780.3,119.4 776.6,120.1 773.2,120.3 769.7,120.5 769.1,121.9 770.8,123.0 770.9,125.3 769.4,126.0 767.9,124.6 766.0,125.1 765.5,127.9 765.9,130.6 764.2,131.1 763.0,132.3 761.5,131.3 757.9,131.8 754.0,133.0 751.5,132.0 747.9,133.0 746.0,132.0 745.4,130.6 745.9,129.5 746.3,127.9 747.4,127.4 746.3,124.9 746.6,124.4 744.7,125.8 742.5,126.7 742.4,129.5 743.4,130.9 744.1,133.0 743.4,133.9 740.7,134.4 737.0,134.6 736.5,135.5 735.2,137.7 734.3,139.1 732.5,139.8 730.8,140.3 730.8,141.9 728.2,143.1 727.8,144.1 725.5,143.8 724.8,143.4 724.8,145.5 722.1,145.3 718.8,146.0 719.6,147.7 722.6,148.6 723.9,150.1 725.5,152.0 725.5,155.4 724.9,158.1 720.9,158.1 716.0,157.8 712.1,157.6 709.7,159.0 710.4,161.7 710.2,165.4 708.9,169.5 709.9,173.7 712.6,173.7 714.8,174.4 716.4,176.4 718.8,174.7 723.3,174.4 726.4,172.5 727.8,169.8 727.2,167.8 729.4,164.6 732.2,163.2 734.1,161.2 733.7,159.3 735.7,158.1 738.2,158.5 741.0,159.0 742.5,157.3 745.0,155.9 747.8,157.1 748.5,159.3 751.0,161.2 752.7,162.9 755.1,163.7 756.6,165.1 759.3,166.6 759.4,169.0 760.1,171.0 759.6,171.7 761.1,170.5 762.4,169.0 760.9,167.3 761.8,165.4 763.9,166.8 764.9,166.3 763.7,164.9 759.6,162.9 759.5,161.9 757.5,161.7 755.4,160.0 754.3,157.8 752.1,156.1 751.7,153.7 754.4,152.7 754.3,154.4 756.0,153.9 757.6,156.4 759.3,158.1 762.3,159.5 764.4,160.7 766.3,162.2 766.6,165.4 767.9,167.3 770.1,169.5 770.6,170.7 773.9,171.5 770.9,172.0 771.9,174.4 773.6,175.2 775.1,175.2 774.0,172.7 775.3,171.5 776.4,172.2 776.3,170.7 774.1,169.0 773.4,165.4 775.3,166.6 776.5,166.3 775.7,164.6 779.7,164.4 780.2,165.9 781.7,165.1 785.4,164.1 783.3,161.9 782.5,160.0 782.9,158.3 783.9,156.8 785.5,154.4 786.0,152.5 787.3,151.0 789.6,150.8 792.7,152.0 791.2,153.4 793.2,155.4 794.9,155.9 796.6,154.4 798.8,153.7 795.7,152.5 795.5,151.5 798.2,150.3 800.9,149.3 803.4,149.3 802.1,150.6 801.4,152.0 800.3,153.4 799.4,153.9 801.0,155.1 803.1,156.1 805.8,158.1 809.9,160.5 810.5,162.7 808.1,164.1 804.5,164.1 800.4,163.4 797.2,161.7 793.8,161.7 790.5,163.4 786.5,163.7 785.6,164.1 783.4,165.4 780.3,166.6 780.7,168.1 781.7,170.3 782.9,172.5 783.7,173.9 785.4,174.7 787.5,175.7 789.9,175.2 790.2,174.2 793.0,175.2 795.1,176.1 798.0,174.7 800.7,174.7 801.3,176.4 801.4,178.9 800.9,181.6 800.2,184.3 799.5,187.5 798.9,188.0 795.0,188.2M795.0,188.2 792.2,187.5 790.2,188.0 788.2,188.9 785.0,188.2 779.7,187.2 775.4,184.8 772.2,184.0 769.2,185.7 769.4,188.7 767.8,190.4 764.2,188.9 760.0,187.2 758.9,185.2 754.7,184.0 751.1,183.3 749.0,182.0 748.6,180.6 750.3,178.1 749.4,175.2 750.2,173.9 748.1,173.2 745.1,174.2 741.0,173.9 738.0,174.4 733.9,174.4 729.8,175.4 725.8,177.1 723.3,178.6 720.6,178.1 717.0,176.9 715.7,176.9 714.5,180.1 712.1,182.3 708.8,184.8 707.4,187.7 707.4,190.4 706.5,192.9 703.7,195.3 700.5,196.6 698.7,199.8 696.5,202.7 694.1,206.4 692.7,209.6 691.6,213.3 693.0,215.8 692.9,218.2 693.3,220.7 692.4,224.4 690.6,228.6 691.8,231.8 691.7,234.7 693.2,236.7 695.4,238.4 697.5,240.4 699.0,242.8 700.1,245.8 702.9,248.0 706.1,250.7 709.3,253.4 711.5,254.2 714.8,252.9 719.1,252.2 723.0,253.2 726.7,251.7 730.4,250.2 733.7,249.5 736.9,249.5 739.3,251.5 740.8,254.2 743.0,254.2 746.3,253.7 747.3,255.2 748.9,257.1 749.1,259.6 748.5,262.5 747.8,265.0 746.9,267.0 748.4,269.9 750.6,272.9 752.8,275.6 754.3,279.3 755.6,282.0 756.6,285.9 757.4,290.8 757.4,294.5 755.0,298.2 753.6,303.2 753.1,307.3 754.1,311.8 756.2,316.7 758.4,321.1 758.9,326.0 759.4,331.0 761.3,335.1 763.3,338.8 764.9,343.3 765.4,346.0 765.7,348.9 768.4,350.7 773.0,349.2 777.2,348.9 780.7,348.7 784.5,347.0 787.9,343.8 791.3,340.6 793.0,337.6 796.0,334.7 797.2,330.2 796.9,328.5 798.6,327.0 802.6,324.6 803.3,320.4 802.4,316.2 802.1,314.0 804.8,311.5 808.2,308.3 812.7,305.4 815.2,301.9 815.6,297.0 815.4,291.6 814.0,288.4 813.0,284.2 813.1,281.2 812.2,279.3 813.1,276.3 815.2,271.6 818.0,269.4 821.3,265.0 824.5,261.3 828.2,258.6 832.0,254.2 834.8,249.5 836.6,244.6 838.1,239.4 838.4,235.7 834.8,236.7 830.5,237.4 826.2,238.9 823.0,239.2 821.4,236.7 821.3,234.2 819.5,231.8 816.7,228.8 813.8,226.6 812.2,224.4 810.9,220.7 808.3,218.7 807.2,214.5 806.5,210.8 803.7,206.4 801.8,202.2 799.4,198.5 797.7,195.3 795.9,191.4 796.1,191.9 797.6,194.9 799.7,196.6 800.4,194.9 800.9,192.4M800.9,192.4 800.9,194.1 801.9,196.1 804.8,200.5 806.5,203.5 808.8,206.7 811.0,210.8 811.6,214.0 814.4,217.0 816.7,220.7 818.8,223.6 820.1,227.3 821.2,231.8 821.7,233.7 824.9,233.2 829.2,231.5 832.8,230.3 836.5,228.1 840.0,226.1 840.1,224.4 843.7,223.2 846.8,221.2 848.8,219.5 851.2,218.2 851.2,215.0 853.2,213.3 855.0,209.9 853.1,208.1 851.9,206.7 848.6,205.7 847.1,203.7 846.8,200.3 846.0,201.2 844.1,202.5 842.2,205.4 839.1,205.4 837.1,204.9 836.8,201.5 835.4,201.0 835.3,203.7 833.8,201.7 833.6,199.3 830.8,197.1 829.7,194.9 828.1,192.4 829.2,191.2 832.1,190.7 834.2,193.6 836.0,196.3 839.4,199.0 843.1,199.5 846.3,198.3 848.5,201.0 851.4,202.0 855.7,202.7 860.0,203.0 864.2,202.7 868.4,202.5 870.1,204.2 872.1,206.7 874.4,208.9 877.2,208.6 875.0,210.1 874.7,211.1 877.0,213.3 879.2,213.8 881.2,212.8 882.2,210.4 883.0,213.3 883.5,218.2 884.8,221.9 885.8,225.6 887.6,229.3 889.2,233.0 891.0,236.7 892.9,240.6 894.7,244.6 895.8,245.1 897.2,243.1 898.9,242.1 900.5,239.6 900.4,235.5 901.0,232.5 900.2,228.1 901.5,225.9 904.3,224.1 906.4,221.7 909.2,218.2 912.3,215.8 913.3,213.3 915.2,211.6 918.3,211.3 920.3,209.9 922.4,209.6 923.8,212.6 925.2,215.0 928.1,217.5 930.1,221.2 930.5,225.6 932.7,226.1 935.7,223.9 937.2,224.4 938.1,228.1 939.2,231.8 940.8,235.5 941.1,239.4 940.7,242.8 940.9,245.3 943.2,247.8 945.4,249.7 945.8,252.7 946.8,255.6 948.1,258.1 950.6,260.1 952.8,261.6 954.3,261.6 952.7,258.4 952.4,255.2 951.4,251.5 949.6,249.7 946.9,248.0 945.2,245.3 943.9,242.1 942.6,239.2 943.4,235.5 943.5,232.3 945.4,232.0 945.8,233.7 948.7,235.0 950.5,237.9 952.8,239.2 955.1,240.4 954.9,243.6 957.3,241.6 958.9,239.4 961.4,238.4 963.7,236.0 963.5,231.8 961.9,227.3 958.6,223.6 956.0,220.9 954.1,218.2 954.7,215.3 955.9,213.3 958.4,211.8 961.0,212.1 962.5,214.5 963.0,212.6 965.3,211.8 969.3,210.4 970.8,209.6 974.2,208.4 977.0,206.2 979.0,204.0 980.2,201.5 981.0,198.1 982.6,194.9 982.4,191.7 980.6,189.9 981.4,188.7 979.8,186.5 976.9,183.8 973.6,180.1 972.2,178.6 973.5,176.1 976.9,174.2 976.1,173.0 973.1,172.5 970.5,173.4 967.3,171.0 965.0,169.0 967.1,168.3 968.9,165.9 970.3,164.6 972.3,165.9 972.0,168.8 972.9,169.5 974.8,167.6 977.0,166.8 979.7,168.5 981.3,171.5 980.4,171.7 984.2,173.0 986.0,176.4 986.9,179.3 989.5,179.6 992.1,178.6 991.6,175.2 989.8,172.7 986.5,169.8 983.9,167.8 984.9,165.9 986.3,164.1 986.1,161.0 987.7,158.8 991.3,159.8 993.1,156.4 993.6,152.7 993.9,148.9 994.2,145.3 992.0,141.2 990.0,137.0 987.4,134.6 983.0,132.7 979.5,133.0 976.9,131.1 973.9,131.1 974.1,128.3 975.0,126.0 976.3,123.7 977.1,121.0 981.9,120.5 987.1,120.5 992.8,121.0 995.1,121.4 998.2,120.3 995.6,118.7 996.2,116.3 998.3,115.2 1001.4,115.4 1003.5,117.4 1005.1,115.8 1004.9,113.6 1008.5,115.8 1009.5,117.6 1008.1,118.5 1007.8,120.3 1008.0,122.8 1006.3,124.4 1007.6,126.5 1008.6,128.8 1012.5,133.0 1016.8,136.5 1021.4,140.0 1021.7,138.1 1020.3,135.3 1022.3,134.6 1019.5,131.8 1022.2,130.9 1018.9,127.9 1020.8,127.6 1016.6,124.2 1013.9,122.6 1013.9,120.3 1015.2,119.2 1016.7,118.3 1023.5,119.2 1022.8,116.9 1025.6,115.2 1028.6,113.6 1032.0,113.6 1028.7,111.8 1023.1,109.6 1023.6,108.8 1025.1,108.1M431.1,107.7 436.2,105.3 438.6,107.0 438.1,108.6 439.4,109.6 442.6,108.6 447.1,106.8 450.7,105.8M820.8,152.0 824.2,150.1 827.0,149.8 830.0,150.3 830.9,153.7 827.6,153.9 827.5,155.6 826.2,156.1 828.1,159.0 830.4,159.8 832.7,162.4 835.0,162.2 834.0,166.6 836.0,168.3 837.3,172.7 837.2,174.2 833.6,174.7 830.3,173.2 827.0,171.7 826.4,169.8 826.9,167.1 826.7,165.4 828.4,165.9 825.2,162.9 822.8,161.0 821.4,159.3 820.9,156.8 819.0,155.4 819.5,153.2ZM717.0,142.3 719.3,141.7 721.2,141.7 724.0,141.0 727.8,140.5 730.2,139.8 730.4,139.1 728.9,138.8 730.8,136.5 730.2,135.5 728.4,135.5 728.2,134.1 727.4,132.5 725.6,131.6 724.9,129.5 723.8,128.3 722.4,128.3 723.0,127.4 724.2,125.6 724.4,124.6 721.6,124.4 720.3,124.9 722.2,122.8 722.5,122.4 719.0,122.4 718.4,123.7 717.7,125.3 717.6,127.2 717.8,129.7 719.1,129.2 718.7,131.1 721.4,130.9 721.6,132.0 722.3,133.4 722.1,134.6 719.5,134.6 719.3,135.8 720.2,137.0 718.1,137.9 718.7,138.6 721.8,139.1 722.2,139.6 719.9,139.6 718.2,141.5ZM716.1,137.2 716.4,134.6 717.6,132.0 716.9,130.2 714.6,129.9 712.7,130.4 712.1,132.3 709.5,132.5 709.4,134.4 711.2,135.1 709.8,136.5 708.6,137.7 709.5,138.8 712.3,138.1 714.8,137.4ZM715.1,123.0 716.7,122.8 716.1,124.2 714.8,125.1ZM725.2,118.1 726.1,118.5 725.5,119.4ZM715.4,114.3 716.6,114.3 716.0,115.4ZM807.9,95.1 808.1,92.5 808.3,90.1 809.9,87.8 813.0,85.9 817.8,84.6 822.9,83.8 826.4,84.6 822.0,86.3 817.5,88.2 815.8,90.1 814.2,92.5 816.6,95.5 816.2,96.3 812.2,96.1ZM818.9,97.0 822.0,97.6 821.1,98.2ZM804.1,98.8 806.3,99.2 805.4,100.0ZM927.4,87.0 929.7,85.7 938.2,86.5 946.7,87.2 945.1,88.0 937.4,87.8 932.4,88.4ZM936.0,89.8 940.7,89.9 943.2,91.1 937.4,90.7ZM1004.0,94.5 1003.1,95.1 1006.0,95.7M451.6,94.5 454.8,94.9 451.9,95.7 449.6,95.7M1002.8,152.0 1004.4,150.1 1001.2,148.4 999.5,144.8 1003.3,145.5 998.2,142.4 994.7,137.7 990.6,134.1 988.0,132.3 988.8,134.1 991.5,137.7 994.8,141.2 997.6,144.8 1000.3,148.4 1001.4,150.6ZM1006.1,162.9 1007.7,162.2 1006.6,160.5 1011.7,161.7 1014.3,158.8 1012.1,156.4 1008.8,156.4 1003.8,153.4 1003.4,153.9 1005.6,156.8 1006.1,158.8 1004.1,158.8 1004.5,161.0ZM1008.9,163.2 1012.3,166.6 1013.9,170.7 1014.4,173.9 1015.4,176.9 1014.8,178.9 1013.7,177.9 1012.6,179.6 1010.1,179.8 1008.9,180.3 1008.2,182.5 1005.3,180.6 1005.0,179.8 1002.1,180.3 999.4,181.3 997.4,181.3 996.9,180.1 998.9,177.9 1001.9,177.6 1004.9,177.4 1005.7,175.7 1005.5,173.2 1007.1,174.4 1008.8,173.0 1009.7,170.7 1009.0,167.8 1007.5,165.1 1007.2,163.7ZM995.8,182.5 997.5,181.6 1000.1,183.3 1000.6,186.7 999.7,188.7 998.3,187.7 997.5,185.0 995.7,183.8ZM1000.7,181.8 1004.4,180.8 1004.7,182.5 1002.8,184.3 1001.0,183.0ZM1013.1,155.6 1016.3,153.2 1016.0,154.2 1013.7,156.4ZM1017.9,152.7 1018.9,151.5 1018.9,152.7ZM1020.4,149.6 1021.2,148.1 1021.2,149.3ZM1020.3,142.4 1020.5,140.5 1020.8,141.9ZM983.7,203.0 985.9,203.5 985.4,205.9 984.9,210.8 983.1,208.4 983.2,205.4ZM960.2,217.5 962.7,215.5 965.0,216.5 963.8,219.7 961.2,220.0ZM988.1,182.8 989.5,182.5 989.1,183.3ZM901.0,240.9 903.7,244.1 905.4,247.0 904.0,249.7 901.8,250.2 900.9,247.3 900.9,243.3ZM956.7,269.4 959.3,270.7 959.2,272.4 957.7,271.2ZM985.5,288.1 988.7,288.6 989.2,290.1 986.5,289.4ZM1078.0,314.5 1080.6,316.7 1083.0,319.9 1081.9,319.9 1079.3,317.7ZM1108.0,308.1 1110.7,308.3 1109.9,309.8 1107.9,309.6ZM1036.0,291.3 1037.6,295.8 1037.6,300.2 1040.6,301.9 1040.3,305.6 1040.8,310.5 1042.1,312.5 1044.8,314.7 1046.0,319.2 1048.0,322.1 1049.7,325.3 1051.5,327.8 1050.1,332.7 1049.4,335.9 1046.6,340.1 1043.6,344.5 1039.4,348.2 1035.6,352.4 1032.3,356.8 1028.4,358.3 1024.5,359.7 1022.3,361.2 1020.8,359.3 1018.5,359.7 1015.6,359.5 1013.0,358.8 1011.9,356.1 1012.7,353.4 1010.4,352.6 1011.9,350.7 1010.0,351.6 1012.3,347.5 1012.9,345.2 1010.7,348.0 1006.8,350.7 1005.9,350.4 1006.2,347.5 1005.2,345.7 1003.5,343.8 1000.5,342.5 995.6,342.8 990.9,344.3 987.4,345.2 983.8,346.7 981.6,348.4 978.0,348.2 974.8,348.4 969.7,351.1 966.7,350.9 964.6,349.4 964.9,347.5 967.2,345.0 968.1,342.5 967.7,339.3 968.2,335.6 967.7,332.7 967.0,329.5 968.3,327.8 968.2,325.3 969.4,321.1 970.9,318.7 972.7,318.2 976.8,315.7 980.7,315.0 984.1,314.0 987.7,311.8 989.9,309.3 990.1,306.8 992.7,307.6 993.4,304.9 995.6,303.2 998.1,300.7 1001.1,299.2 1003.4,301.4 1006.6,301.7 1007.7,298.7 1009.6,295.8 1010.7,295.0 1014.0,294.5 1014.6,293.1 1019.4,294.8 1023.1,294.5 1023.2,295.3 1021.2,297.7 1019.6,301.4 1021.3,303.9 1024.2,305.9 1027.0,308.1 1029.7,308.1 1031.5,304.4 1032.8,300.7 1033.4,297.0 1034.7,293.3ZM1016.7,365.1 1019.7,366.1 1023.4,365.6 1021.5,368.8 1018.9,371.2 1016.2,372.2 1014.8,371.9 1015.1,369.5 1015.8,366.6ZM1007.0,352.9 1009.7,353.1 1008.5,353.6ZM1009.5,293.1 1012.1,292.8 1011.5,294.0 1009.8,294.0ZM1021.9,299.0 1022.9,299.0 1022.4,300.0ZM1082.6,349.7 1083.3,351.4 1084.0,353.6 1083.2,355.8 1085.1,355.1 1084.6,357.5 1087.3,358.0 1089.5,357.8 1086.4,360.7 1083.5,361.9 1082.5,363.4 1079.0,365.9 1076.1,367.3 1075.5,366.6 1078.1,364.1 1077.6,362.7 1077.3,361.7 1079.9,360.2 1081.6,358.0 1082.4,355.6 1082.4,352.1ZM1073.0,364.6 1072.5,366.3 1074.9,366.3 1073.6,367.8 1070.6,369.8 1067.5,371.9 1067.5,372.7 1063.6,373.6 1060.6,376.1 1058.6,377.8 1054.9,379.4 1052.6,379.4 1051.4,378.5 1050.7,377.5 1055.0,374.6 1058.3,372.9 1062.8,371.0 1066.9,368.8 1069.2,367.1 1071.6,365.4ZM1050.8,379.9 1051.8,380.2 1050.4,380.9ZM834.3,294.5 836.0,302.7 834.8,304.4 834.0,308.1 832.1,313.7 830.4,319.2 828.5,324.1 827.2,326.5 824.0,327.8 820.9,326.5 820.1,322.8 819.9,319.2 822.3,315.5 822.6,311.8 822.2,308.1 823.4,304.9 826.7,303.6 829.4,301.4 831.3,299.0 833.2,295.8ZM843.1,234.0 845.5,234.2 844.0,234.7ZM753.1,171.5 759.1,171.0 758.7,173.9 757.3,174.7 753.1,172.5ZM744.2,164.4 747.1,163.9 747.3,168.3 745.9,169.0 744.7,168.5ZM744.8,160.5 746.3,159.3 746.6,161.7 746.1,163.2 745.1,162.2ZM776.1,177.6 781.4,178.1 781.5,178.9 777.0,178.9ZM794.0,178.9 796.4,177.9 798.5,177.1 797.5,178.9 795.5,179.8ZM732.6,167.6 734.2,166.8 734.4,168.1 733.2,168.3ZM774.5,169.0 776.7,170.5 777.4,171.5ZM760.1,124.9 761.4,123.9 761.3,125.6ZM747.7,129.0 750.3,128.1 750.3,130.2 748.3,130.2ZM745.5,129.5 747.1,129.5 747.0,130.6 745.9,130.4ZM766.4,123.0 768.3,122.4 768.4,123.3ZM812.9,279.3 813.5,280.3 813.1,280.8ZM821.2,293.3 821.8,294.0 821.3,294.3ZM845.7,316.4 846.7,316.9 846.1,317.4ZM850.4,314.5 851.2,315.0 850.5,315.5ZM858.5,385.2 861.6,385.7 860.6,386.9 858.4,386.6ZM746.3,255.9 747.1,256.1 746.7,256.9ZM741.9,264.0 742.4,264.5 741.9,265.0ZM692.4,195.1 693.8,194.9 692.9,196.1ZM694.6,195.8 695.5,196.1 695.0,196.6ZM697.8,194.9 698.9,194.4 698.0,195.8ZM690.1,194.1 690.7,194.4 690.3,194.9ZM692.2,184.3 693.3,184.3 692.8,184.8ZM675.6,171.7 676.8,172.0 676.1,172.2ZM670.1,170.0 671.3,170.5 670.4,170.5ZM672.8,169.5 673.3,169.8 672.9,170.0ZM676.6,227.6 677.4,228.1 676.8,228.3ZM673.5,222.9 674.4,223.2 673.9,223.4ZM678.4,225.1 679.0,225.4 678.6,225.6ZM657.9,397.0 662.1,397.7 662.0,398.9 659.3,397.7ZM927.7,231.8 928.6,234.2 928.4,236.4 927.6,234.7ZM931.0,247.0 931.5,248.0 931.1,248.3ZM936.0,258.1 937.5,259.1 936.9,259.1ZM938.9,261.6 940.6,263.3 939.5,262.8ZM942.2,267.5 943.6,269.2 942.8,269.2ZM623.7,416.6 628.9,415.1 628.5,416.0ZM648.3,411.9 651.0,412.4 649.4,412.6ZM407.0,308.1 408.1,308.3 407.6,309.1ZM355.1,298.2 356.5,298.5 355.9,299.0ZM357.0,299.0 358.4,299.5 357.6,299.7ZM1039.7,231.8 1040.5,231.5 1040.2,232.5ZM997.2,200.5 998.1,199.0 997.8,200.3ZM998.9,195.3 999.8,194.9 999.4,195.8ZM754.4,130.2 755.2,130.4 754.9,130.6ZM757.3,127.9 758.2,125.3 757.7,127.2ZM766.6,121.7 768.1,121.4 767.5,122.1ZM713.9,95.9 715.5,95.3 715.0,95.7ZM755.6,88.8 756.1,88.6 755.9,89.0ZM719.0,132.7 719.9,132.3 719.6,133.0ZM1084.7,291.3 1086.8,291.6 1086.3,292.1ZM1015.4,122.4 1015.6,121.0 1016.6,122.6ZM870.3,82.0 873.2,81.1 873.3,82.2ZM832.7,90.9 834.7,90.5 835.1,91.5ZM851.8,77.2 856.2,76.6 856.4,77.7ZM977.4,130.6 978.5,130.2 979.0,131.3ZM425.9,132.3 421.4,133.7 416.2,135.1M414.6,135.5 411.0,136.5 406.6,137.2M405.5,137.2 400.0,138.1 396.0,138.4M394.8,138.6 391.5,139.1M1064.1,139.1 1060.2,138.1 1057.9,137.7M1049.4,135.8 1046.7,135.3M1027.9,129.9 1030.0,130.9M428.3,130.9 430.8,131.1 429.7,131.8 427.4,131.8ZM386.8,211.1 387.2,211.3M489.6,134.8 489.8,136.0 488.8,136.5ZM489.3,133.2 489.4,134.6 488.8,134.6ZM591.4,114.0 592.4,114.7 591.7,115.4ZM576.6,135.1 579.0,135.8 577.4,136.0ZM584.4,127.2 585.6,128.3 584.4,128.8ZM615.8,115.6 617.0,116.0 616.3,116.3ZM607.5,102.4 609.8,102.6 608.1,103.2ZM605.1,98.8 606.4,99.2 605.3,99.6ZM602.5,98.0 603.9,98.2 602.9,98.6ZM602.6,99.0 603.8,99.4 602.8,99.8ZM596.0,111.6 597.5,111.8 596.4,112.3ZM589.0,101.3 590.3,101.7 589.2,102.1ZM592.4,220.0 593.0,220.4 592.6,220.7ZM595.0,222.7 595.4,223.2 594.9,223.2ZM595.0,224.6 596.3,224.6 595.6,225.9ZM595.5,226.6 595.9,227.3 595.7,227.6ZM596.0,228.3 596.6,229.1 596.2,229.6ZM596.1,230.3 596.5,231.0 596.2,231.3ZM595.6,232.0 596.0,232.5 595.6,232.8ZM594.3,235.0 594.7,235.2 594.4,235.5ZM599.1,232.3 599.5,232.6 599.2,232.9ZM596.4,237.2 597.0,237.2 596.6,237.6ZM588.5,237.9 589.9,237.7 589.4,238.2ZM578.4,234.5 579.2,235.2 578.8,235.2ZM576.5,234.0 576.9,234.4 576.6,234.5ZM580.1,234.7 580.5,235.2 580.2,235.3ZM588.7,221.3 589.3,221.3 589.0,221.4ZM588.6,219.8 589.5,219.6 589.2,220.0ZM561.6,199.3 563.7,199.3 562.5,199.8ZM565.7,202.2 566.6,203.2 566.6,204.2ZM567.5,204.4 568.0,205.4 567.8,205.6ZM568.0,206.9 568.7,208.4 568.8,208.6ZM566.0,205.9 567.1,207.2 566.9,207.2ZM569.9,208.9 570.6,210.1 570.2,210.4ZM572.4,209.7 573.1,210.0 572.7,210.1ZM573.9,211.1 575.4,211.3 574.7,211.6ZM553.8,217.4 554.4,217.5 554.1,217.6ZM550.9,211.1 551.9,211.3 551.4,212.1ZM542.2,214.5 542.5,215.0 542.1,215.0ZM593.5,185.4 593.9,185.4 593.7,185.6ZM961.6,271.4 963.1,271.6 962.9,272.9 961.8,272.6ZM972.3,282.0 975.1,282.0 974.8,282.7 972.4,282.7ZM994.1,275.8 995.3,276.3 994.8,278.8 993.9,278.3ZM993.4,276.6 994.2,276.8 994.0,278.0 993.3,277.8ZM994.7,268.2 996.3,268.0 995.8,268.9ZM998.2,269.2 1001.7,269.4 1000.6,269.9 998.4,269.9ZM1004.5,268.4 1006.0,268.4 1005.8,269.2 1004.7,269.2ZM1004.6,266.0 1005.7,266.2 1005.2,267.2ZM1006.4,258.8 1007.5,259.3 1006.7,260.1ZM1011.1,265.2 1013.3,265.2 1012.6,266.0 1011.3,265.7ZM1009.7,269.4 1011.2,269.4 1011.0,270.2 1009.9,269.9ZM1022.4,267.0 1024.1,267.5 1023.7,268.0 1022.8,267.7ZM1022.3,269.2 1025.2,269.2 1024.5,269.7 1022.5,269.6ZM1019.1,278.5 1020.4,278.8 1020.0,281.7 1018.9,281.2ZM1015.9,278.5 1016.7,278.3 1016.4,279.8 1015.8,279.5ZM1012.5,283.0 1013.9,282.7 1013.1,284.7 1012.2,284.4ZM1000.6,283.7 1002.7,283.7 1002.2,284.4 1000.7,284.4ZM997.2,285.2 998.9,285.2 998.5,285.7 997.4,285.7ZM979.2,285.4 980.7,285.4 980.2,286.9 979.1,286.7ZM980.9,285.7 984.0,285.2 985.7,285.9 984.1,286.7 981.2,287.2ZM962.4,254.9 963.3,255.4 962.9,255.9ZM954.8,264.8 955.9,265.5 955.0,266.0ZM954.5,262.0 955.4,262.5 954.8,262.9ZM949.5,278.0 950.1,278.3 949.9,278.5ZM1000.2,255.9 1000.7,256.4 1000.4,256.6ZM1003.0,254.2 1003.4,254.7 1003.1,255.2ZM992.0,248.5 993.1,248.8 992.7,249.2ZM990.2,250.1 991.0,250.2 990.6,250.5ZM987.9,252.1 988.8,252.3 988.3,252.6ZM993.8,234.2 995.6,235.0 994.8,235.7ZM995.3,230.5 996.0,230.8 995.8,231.5ZM1046.4,269.9 1048.2,269.9 1047.7,270.4 1046.6,270.4ZM1058.1,287.2 1059.2,287.6 1058.5,287.9ZM1053.3,288.1 1054.5,288.4 1054.0,289.1ZM1073.4,287.9 1075.9,288.6 1075.2,289.4 1073.5,288.9ZM1075.8,285.7 1077.1,287.9 1076.6,288.4 1075.7,286.4ZM1071.5,283.7 1074.1,285.7 1073.4,285.9 1071.4,284.4ZM1067.3,281.5 1069.4,283.0 1068.7,283.2 1067.3,282.0ZM1068.5,284.7 1070.0,285.4 1069.3,286.2ZM1076.8,290.4 1078.9,291.3 1077.7,291.6ZM1086.6,301.2 1087.7,302.2 1087.2,303.4 1086.2,302.9ZM1087.2,304.1 1088.3,305.4 1087.4,305.6ZM1088.4,308.3 1089.2,308.6 1088.8,308.8ZM1089.7,312.8 1090.1,313.0 1089.7,313.4ZM1084.4,316.2 1084.9,316.7 1084.4,316.9ZM1085.7,317.7 1086.0,318.2 1085.6,318.3ZM1111.4,305.9 1114.3,305.1 1113.6,306.4 1111.3,306.8ZM503,457.5 512,456.8 522,457.2 532,458 544,458.5 550,457.8 540,457 532,456 528,454 521,453 531,452 529,450.5 520,449 510,449.5 501.5,448 504,446 513,446.5 518,445.5 517,443.5 520,442.5 530,440.5 540,439 550,440 558,439.5 563,440 572,442 581,442 575,439 573,436 582,436 582,438.5 593,437.5 600,438.8 606.6,439.2 615.4,439.5 622,437.5 621,433 619.3,427 623.1,421 629.7,418.3 631.9,418.8 626.4,420.5 626.4,423.8 623.7,427.6 628.6,430.9 634.1,435.3 637.4,439.5 633,442.5 625.3,444.7 618.2,445.4 620.9,448.5 627.5,451.3 638.5,452.4 647.3,453.5 653.4,455.7 661.6,453.5 671.5,454.3 679.2,452.9 689.7,451.6 686.9,450.2 678.7,448.5 682.5,446.3 691.3,444.1 701.2,442.5 704.5,439.7 711.1,435.3 714.4,434.4 717.7,433.7 721,434.8 727.6,434.8 730,434.2 739.9,431.5 744.9,433.7 748.7,431.8 756.4,431.5 762.5,433.1 771.8,432.6 778.4,430.9 781.7,428.7 788.3,431.5 796,428.7 807,426 813.6,423.4 819.1,423.4 822.4,426.5 826.8,427.8 831.2,426.5 837.3,427.6 837.8,430.9 833.4,432.6 831.8,436.2 834.5,436.4 843.3,431.5 849.9,430.7 854.3,428.2 860,426 869.9,424.4 871,426 888.6,426 896.3,422.5 899,425.8 911.7,423.3 919.4,426.3 931.5,424.7 948,423.8 949.1,422.2 948.6,425.5 961.2,425.8 963.4,427.7 972.2,429.3 978.8,433.2 988.7,435 975.5,439.8 962.3,444.2 957.4,447.5 944.7,450.2 939.8,453 942,456.3 950.2,457.4M616.5,429.8 613.2,435.5 625.3,436.4 616.5,429.8M655,451.8 659.4,448 663.8,447.2 668.2,449.1 669.3,451.6 655,451.8M639.5,451.6 646.5,451.8M572.5,436 582,436.3M544,439.3 551,439.6M512,448 503,448.3M520,453.2 527,453.5" fill="none" stroke="#000" stroke-width="1.9" stroke-linejoin="round" stroke-linecap="round"/>
<path d="M628.3,104.7 628.1,102.8 625.5,101.7 621.9,99.6 621.6,97.6 619.3,96.1 617.3,94.5 613.7,93.1 611.5,92.1 608.5,90.1 601.2,89.9 595.9,90.1 591.5,92.5 589.6,95.5 591.1,96.5 595.0,97.6 599.5,97.8 604.4,97.6 605.2,98.6 607.7,99.6 607.5,101.1 610.0,102.1 609.1,104.9 606.2,107.0 604.4,108.8 598.3,109.2 598.7,109.9 601.2,109.9 604.0,109.4 606.4,111.0 608.1,112.5 610.0,113.6 613.1,114.3 615.3,114.9 616.8,115.4 616.8,113.6 613.1,111.0 615.7,112.5 619.7,111.8 619.0,109.2 617.1,106.6 617.1,105.1 619.5,105.3 621.8,107.0 622.8,108.3 626.8,106.0ZM545.6,99.2 547.6,100.5 553.1,100.5 558.7,99.6 562.0,99.4 566.2,100.0 569.4,98.2 569.4,96.5 566.5,95.5 567.7,93.5 569.0,91.5 567.4,90.9 563.3,91.9 560.7,91.5 555.5,92.1 551.7,90.9 545.7,94.1 547.1,94.9 549.6,94.7 545.4,95.7 549.6,96.1 553.8,96.5 545.2,97.4 544.3,98.2 544.5,98.8ZM538.1,95.3 536.5,93.5 539.7,91.5 544.2,89.2 548.7,88.6 553.1,89.2 554.2,90.9 550.5,91.9 545.1,93.9 541.9,94.7ZM558.3,86.3 560.4,88.0 564.1,88.6 569.5,87.8 572.6,87.6 575.2,86.1 574.7,84.8 572.3,84.4 569.2,85.1 565.4,85.3 561.8,84.8 558.4,85.7ZM573.1,91.9 573.2,94.9 577.1,94.9 581.6,92.5 583.2,90.1 580.1,89.6 576.7,89.9ZM585.8,89.8 582.9,93.1 585.2,93.5 591.1,92.1 593.8,89.9 590.7,89.4ZM570.9,99.2 572.8,100.7 576.3,100.3 577.9,98.4 575.3,97.8 572.8,98.0ZM576.2,87.0 580.7,87.6 585.7,87.0 587.6,85.3 585.7,84.6 580.0,85.1ZM587.4,86.9 591.8,88.2 598.1,88.6 605.4,88.6 610.2,88.2 612.3,86.7 609.6,85.7 603.4,86.1 600.1,85.1 596.2,84.8 592.7,84.0 589.7,84.8ZM599.3,85.1 607.2,85.1 612.8,85.3 617.1,83.8 621.7,82.0 624.8,80.2 630.0,79.0 637.0,77.4 643.5,76.1 647.9,74.9 644.0,74.2 639.7,74.0 635.4,73.7 630.3,73.7 625.2,73.7 620.6,74.3 616.0,74.9 608.5,75.7 609.6,76.9 612.4,77.9 616.2,78.0 611.0,79.0 608.3,80.2 609.5,81.6 604.5,82.4 604.5,83.7 600.4,84.2ZM597.4,78.5 598.6,81.5 604.1,81.5 607.6,80.2 608.2,78.5 607.3,76.6 603.6,76.4ZM585.1,80.6 588.1,82.0 593.2,81.3 591.8,80.2 587.5,79.9ZM603.9,101.7 606.0,103.4 608.4,102.1 606.7,101.1ZM582.5,109.2 583.8,111.0 587.7,111.4 591.5,110.7 592.1,112.5 593.5,110.7 592.5,109.2 589.6,107.3 588.9,106.0 585.8,106.8ZM487.1,140.5 488.7,144.3 492.0,146.5 493.1,144.8 491.7,141.9 488.7,140.3ZM484.5,132.7 483.8,135.8 484.2,137.7 485.5,134.4 486.7,132.7ZM742.9,80.2 746.8,78.9 750.8,78.5 755.0,79.4 758.3,81.1 754.3,82.0 754.1,83.8 752.1,84.6 749.1,83.8 746.7,82.0 743.7,81.1ZM752.7,78.4 757.3,77.7 764.2,78.4 761.9,79.5 755.8,79.5ZM757.0,81.6 761.4,82.2 760.3,83.3 758.1,82.9ZM788.0,77.5 794.3,77.1 797.6,77.9 792.5,78.4ZM799.5,76.9 804.3,76.3 810.2,76.9 814.4,77.2 808.6,78.2 803.1,78.0ZM858.3,80.2 859.8,77.2 864.7,77.9 869.6,78.5 869.3,80.2 866.8,81.5ZM850.7,78.5 853.6,76.6 857.3,77.4 855.2,78.9ZM867.0,81.6 870.7,80.2 875.1,81.5 872.4,82.6ZM985.8,219.5 989.4,219.5 990.3,223.2 989.3,226.1 990.3,230.0 992.9,230.8 995.5,234.0 993.8,232.8 992.0,231.5 988.7,231.3 986.9,228.8 985.7,225.1 986.0,221.9ZM992.4,247.8 995.4,244.1 999.1,241.1 1001.5,244.1 1002.2,247.8 1001.2,249.5 1000.2,250.2 999.8,251.2 996.8,249.0 996.7,246.5 992.9,245.8ZM996.2,234.2 998.9,235.0 999.2,237.9 998.3,239.9 997.1,238.4 997.5,236.7ZM991.4,236.0 993.6,236.7 995.0,239.2 994.2,242.4 993.0,240.9 992.4,238.9ZM981.8,244.3 984.4,241.6 986.1,237.2 985.2,239.2 983.0,242.8ZM987.5,232.0 989.7,232.3 989.5,234.7 988.6,234.0ZM966.0,260.1 969.1,260.8 970.1,258.4 973.3,257.1 975.4,253.9 978.5,252.0 980.5,248.3 982.3,248.3 983.2,250.2 986.1,252.0 984.5,254.2 983.5,255.9 984.3,259.6 986.5,262.5 984.3,263.0 983.3,266.7 981.0,268.7 980.5,272.4 979.8,274.4 976.9,275.1 975.5,273.4 973.3,272.9 970.7,273.6 967.3,272.1 966.9,268.7 965.2,266.2 964.8,263.8 964.7,261.3ZM934.7,251.2 939.5,252.2 942.2,255.6 945.1,258.4 947.3,259.6 950.2,262.5 952.8,263.8 953.5,265.7 954.9,269.4 958.1,272.4 957.9,279.3 955.7,279.5 954.2,278.5 950.4,275.3 947.3,271.9 945.8,267.5 943.0,264.3 942.3,260.8 939.7,258.8 936.3,255.2ZM956.2,281.7 958.3,279.8 963.2,281.5 967.5,281.7 968.6,281.0 972.2,282.2 976.0,284.0 975.7,286.2 971.6,285.7 966.2,284.7 961.9,284.2 958.7,283.2ZM988.3,263.0 990.4,261.8 994.1,262.5 997.4,262.5 999.9,261.1 998.5,264.0 994.1,263.8 990.4,263.8 988.9,267.0 991.5,267.2 996.1,267.2 994.1,268.9 991.9,269.7 993.5,272.9 995.0,274.8 993.8,276.1 991.9,276.6 990.7,273.6 990.5,271.4 989.4,273.6 988.9,278.5 987.2,278.5 987.4,273.6 986.2,271.9 987.1,268.7 988.3,265.0ZM1005.0,262.5 1006.0,259.6 1007.6,261.3 1006.1,263.0 1007.8,264.3 1006.1,265.7 1006.1,267.2 1005.5,265.0ZM1005.9,272.4 1009.2,271.9 1012.0,273.4 1009.1,273.6 1005.9,273.4ZM1001.6,272.9 1004.2,272.9 1003.7,274.4 1002.0,274.1ZM977.0,285.4 980.3,285.4 983.5,285.4 985.7,285.9 990.0,285.9 994.4,285.4 993.8,286.4 987.7,286.9 984.5,286.9 981.2,287.2 978.0,286.7ZM995.0,290.4 998.6,287.2 1003.0,285.7 1001.8,287.2 998.3,289.6ZM1012.6,267.0 1015.9,266.0 1019.1,267.0 1019.5,269.9 1021.1,273.1 1023.4,271.2 1026.7,268.9 1029.9,269.9 1034.2,271.4 1038.5,273.4 1041.7,274.6 1044.4,277.3 1046.8,279.8 1048.4,281.5 1046.6,282.2 1048.5,285.9 1050.5,287.9 1053.4,290.6 1050.2,290.4 1047.0,289.6 1045.1,286.9 1042.1,284.2 1040.0,284.0 1037.5,287.2 1035.3,287.6 1033.2,287.4 1030.2,284.9 1026.9,285.4 1028.2,282.2 1028.4,279.8 1026.3,277.8 1023.2,276.1 1018.9,274.6 1016.7,274.8 1016.3,273.1 1014.6,271.9 1017.9,270.7 1015.8,270.4 1013.6,268.7ZM1049.7,279.0 1053.4,278.5 1056.8,275.6 1058.6,275.6 1057.8,278.0 1054.4,280.3 1051.1,280.3ZM1055.5,271.4 1058.1,272.9 1060.1,276.1 1059.4,276.6 1057.0,273.1ZM1063.6,278.5 1065.8,281.0 1065.1,282.0 1063.5,279.8ZM486.6,123.5 489.0,123.7 485.9,127.6 486.0,126.0ZM490.0,123.0 489.1,125.6 488.4,125.6ZM488.1,126.0 490.4,126.0 488.6,127.6 486.8,127.6ZM487.9,127.6 489.4,128.5 487.7,131.1 486.4,130.2ZM490.3,128.5 491.0,129.5 489.6,130.4ZM551.0,85.3 556.0,85.9 562.1,84.6 561.6,82.9 556.6,83.5ZM568.9,83.3 573.4,82.6 573.7,81.8 569.7,82.2ZM570.8,81.5 574.9,81.5 575.5,80.6 571.8,80.8ZM590.5,82.4 594.7,82.4 595.3,80.8 592.1,81.1ZM587.4,86.9 589.6,88.2 591.5,87.0 590.0,86.5ZM607.0,91.1 610.1,91.9 613.7,91.1 611.7,89.9ZM567.9,91.1 570.5,91.5 571.3,90.1ZM583.9,82.6 586.7,82.6 586.7,82.0ZM578.5,83.5 580.6,83.5 581.1,82.6ZM554.2,86.7 557.1,86.7 557.4,85.9ZM574.6,87.2 577.0,87.0 576.9,86.5ZM994.9,240.4 995.9,237.4 996.1,239.2 995.4,241.4ZM995.7,240.1 997.2,240.1 997.3,241.1 996.0,241.4ZM996.5,236.9 998.0,237.4 998.7,239.9 997.9,240.1 997.1,238.4ZM991.2,236.0 993.6,236.7 993.0,239.2 991.7,239.2Z" fill="none" stroke="#000" stroke-width="2.5" stroke-linejoin="round" stroke-linecap="round"/>
<path d="M492.5,145.7 491.9,142.4 489.8,138.8 490.3,135.8 490.4,132.3 491.2,129.2 490.9,126.5 490.8,123.7 488.6,122.4" fill="none" stroke="#000" stroke-width="3.6" stroke-linejoin="round" stroke-linecap="round"/>
<path d="M488.9,144.1 487.5,140.7 488.3,137.2 486.1,134.1 486.3,130.6 486.9,126.0 486.4,123.7M657.8,112.5 661.7,108.1 667.2,106.4 674.7,102.8 681.5,101.3 688.4,99.2 692.0,97.0 691.0,94.5 693.7,92.5 694.9,90.5 696.8,88.6 699.0,85.7M737.1,121.4 736.4,118.1 736.7,115.4 738.8,113.4 742.1,111.6 745.3,109.6 747.6,107.5 749.3,105.1 751.5,102.4 753.2,100.3 756.8,98.4 760.5,97.2 764.2,96.1 767.9,95.5 772.0,96.1 775.5,97.6" fill="none" stroke="#000" stroke-width="3.0" stroke-linejoin="round" stroke-linecap="round"/>
<path d="M488.6,122.4 485.7,120.8 482.7,119.4 478.0,119.0 476.0,117.6 472.3,117.8 467.7,119.6 463.0,120.8M643.5,86.7 637.1,85.5 630.1,85.3 627.3,83.5 630.0,82.0 637.9,79.4 642.8,76.9 647.6,76.0 652.3,75.1 657.6,74.9 662.9,74.8 667.6,74.6 672.2,74.5 677.7,73.9 683.1,73.3 688.2,73.5 693.2,73.6 696.8,74.3 700.5,75.1 705.2,76.9 703.3,79.4 701.3,82.0 699.9,84.8M717.9,129.5 717.4,126.9 717.1,124.9 718.5,123.0M599.0,84.8 606.7,82.9 605.9,81.1 611.0,79.0 611.8,77.2 608.3,75.8 613.6,75.3 618.8,74.8 623.0,74.5 627.2,74.2 631.4,73.9 635.1,74.0 638.8,74.2 642.6,74.3 645.2,75.7 637.0,77.4 628.4,79.4 622.2,81.5 615.3,84.2M588.3,86.7 594.2,88.0 598.3,88.3 602.5,88.6 609.6,88.0 610.5,86.3 603.6,85.9 597.6,84.8 592.5,84.2M742.9,80.2 746.0,82.0 749.0,83.5 752.0,84.4" fill="none" stroke="#000" stroke-width="2.6" stroke-linejoin="round" stroke-linecap="round"/>
<path d="M458.3,121.9 452.3,124.2 444.8,126.9 437.9,129.2 431.6,130.9M748.6,101.7 750.9,100.7 752.3,99.6M583.9,369.5 585.2,375.6 586.2,381.6 588.5,387.6 593.3,393.0 597.1,395.4M624.1,136.5 622.8,132.3 619.3,129.5 617.7,126.0 617.6,123.0 616.5,119.6M807.8,94.9 808.3,91.5 809.1,89.0 811.6,87.0 815.5,85.3 820.4,84.2 824.3,83.8M1050.3,378.0 1053.8,375.6 1056.7,373.6M848.1,90.5 854.6,88.6 857.3,86.9 863.5,85.9 868.7,85.3 872.1,84.6 874.2,82.6" fill="none" stroke="#000" stroke-width="2.4" stroke-linejoin="round" stroke-linecap="round"/>
<path d="M649.9,118.5 644.8,115.8 642.9,111.8 641.7,108.6 641.2,104.9 642.6,101.7 645.8,99.2 643.9,96.5 645.7,94.5 643.9,92.1 643.9,89.6 643.3,87.0" fill="none" stroke="#000" stroke-width="3.4" stroke-linejoin="round" stroke-linecap="round"/>
<path d="M583.1,368.3 583.1,373.2 583.5,378.0 584.3,382.8 586.3,387.6 590.2,392.3 594.5,395.9 599.3,398.2 603.6,399.8" fill="none" stroke="#000" stroke-width="3.2" stroke-linejoin="round" stroke-linecap="round"/>
<path d="M627.0,104.9 626.5,102.8 623.1,100.3 621.6,97.6 619.0,95.5 615.7,93.5 611.6,91.9 607.6,90.3" fill="none" stroke="#000" stroke-width="2.8" stroke-linejoin="round" stroke-linecap="round"/>
<path d="M513.6,99.9 516,102 519.5,105.4 520.5,109 520.6,113 523.9,117.5 529,117 533.8,117.5 533.8,119.7 528,121.5 522.8,123 517.3,126.3 511,127.5 505.2,128.5M511.4,154.9 514,149.4 522.8,147.6 531.6,148.3 533.8,156 537.1,162.6 539.3,168.1 545.9,171.4 547,174.7 542.6,180.2 539.3,187.9 540,191.2M616,268.6 609.4,270.4 602.8,272.2 597.3,273.7 591.8,274.8 585.2,272.6 578.6,274.8 572,274.4 568.7,275.2 565.4,280.3 566.5,288 569.8,295.7 573.1,301.2M609.4,349.6 603.9,345.2 603.9,338.6 606.1,329.8 605,321 603.9,312.2 606.1,304.5 609,300.1M793.2,189.9 794.5,198.2 795.8,206 793.2,212.5 794.5,219 798.4,221.6 799.7,228 798.4,233.2 794.5,242.3 795.8,252.7 797.1,260.5 799.2,263.6M756.9,278.7 762.1,270.9 767.3,263.1 773.8,260 780.3,262.6 784.2,269.6 785.5,278.7 784.7,286.5 782.9,293M744.2,147.6 753,146.1 760.7,147.6 764,152.7 770.6,156 777.2,157.1 782.7,155.6M835.5,108.7 838.8,114.2 846.5,120.8 856.4,126.3 860.8,130.7 871.8,138.4 887.2,146.1 900,149.4M924,96 924,101.9 930.6,107.4 943.8,111.8 948.2,115.1 943.8,118 932.8,119.5 925.1,118.8 918.5,123.9 917.8,129.4 920.7,133.4 924,133.4M899.5,190.7 911.6,192.9 924.8,192.9 927,196.2 922.6,199.5 917.1,203.9 916,208.3 913.8,210.5M918,181.5 924,181.5 930.5,187 936,195.5 939.5,202 942.4,197.3 945.7,192.9 951.2,189.6 960,189.2 968.8,190.7 976.5,187.4 980.9,188.5M914.9,180.3 922.6,180.3 928.7,186.8 934.2,195.6 937.5,203.3 942.4,209.4 944.6,216 947.9,220.4 953.4,224.8 954.5,231.4 955.6,238" fill="none" stroke="#000" stroke-width="1.4" stroke-linejoin="round" stroke-linecap="round"/><path d="M1003.4,201.2h0.01M1025.8,199.8h0.01M1025.8,203.4h0.01M1039.3,220.3h0.01M1039.8,227.8h0.01M1039.3,231.5h0.01M1025.8,241.3h0.01M1018.3,246.9h0.01M1083.2,217.5h0.01M1090.3,229.2h0.01M1056.1,246.9h0.01M1060.8,246.0h0.01M1069.8,248.0h0.01M1080.4,251.6h0.01M1091.7,247.4h0.01M1098.7,248.0h0.01M1093.0,253.0h0.01M1102.9,257.2h0.01M1105.7,261.4h0.01M1108.5,265.6h0.01M1089.4,266.2h0.01M1073.4,276.3h0.01M376.4,250.4h0.01M382.0,254.6h0.01M386.2,260.2h0.01M355.4,272.3h0.01M349.8,276.2h0.01M391.8,275.0h0.01M389.9,278.4h0.01M386.2,286.8h0.01M380.6,290.5h0.01M355.4,286.8h0.01M356.8,298.6h0.01M358.5,299.0h0.01M361.0,299.4h0.01M349.8,298.0h0.01M351.2,303.6h0.01M355.4,311.5h0.01M355.4,316.2h0.01M365.2,312.0h0.01M345.6,310.6h0.01M424.0,284.0h0.01M426.8,288.2h0.01M428.2,290.2h0.01M398.3,305.9h0.01M403.0,305.0h0.01M407.2,307.8h0.01M411.4,302.2h0.01M414.2,303.6h0.01M415.6,306.4h0.01M419.8,305.0h0.01M421.2,307.3h0.01M424.0,299.4h0.01M426.8,304.2h0.01M426.8,309.2h0.01M428.2,312.0h0.01M431.9,307.8h0.01M435.2,310.6h0.01M432.4,316.2h0.01M433.0,319.0h0.01M439.4,317.6h0.01M442.2,321.8h0.01M386.2,311.5h0.01M390.4,314.3h0.01M388.2,317.1h0.01M392.7,319.0h0.01M406.7,320.4h0.01M411.4,321.8h0.01M415.1,323.2h0.01M456.2,324.6h0.01M424.0,333.0h0.01M482.8,219.6h0.01M491.2,218.2h0.01M498.2,331.6h0.01M884.0,282.0h0.01M849.0,276.0h0.01M851.0,279.0h0.01M850.0,290.0h0.01M862.0,313.0h0.01M936.0,294.0h0.01M884.0,357.0h0.01M825.0,378.0h0.01M828.0,378.0h0.01M800.0,379.0h0.01M863.0,394.0h0.01M824.0,289.0h0.01M827.0,291.0h0.01M830.0,293.0h0.01M1039.0,389.0h0.01M1039.5,391.5h0.01" fill="none" stroke="#000" stroke-width="1.5" stroke-linecap="round"/>
</g>
<path d="M936.09,463.50 L937.44,463.16 L938.85,462.78 L940.30,462.38 L941.81,461.95 L943.36,461.48 L944.95,460.99 L946.59,460.47 L948.27,459.93 L949.99,459.35 L951.74,458.76 L953.54,458.13 L955.36,457.48 L957.22,456.81 L959.11,456.11 L961.02,455.39 L962.96,454.65 L964.93,453.89 L966.92,453.10 L968.93,452.30 L970.96,451.47 L973.01,450.63 L975.06,449.77 L977.13,448.89 L979.19,447.99 L981.25,447.08 L983.30,446.16 L985.33,445.23 L987.34,444.29 L989.32,443.34 L991.27,442.38 L993.18,441.41 L995.06,440.44 L996.90,439.46 L998.71,438.48 L1000.49,437.49 L1002.24,436.49 L1003.97,435.49 L1005.68,434.48 L1007.37,433.46 L1009.04,432.43 L1010.70,431.41 L1012.35,430.37 L1013.98,429.33 L1015.60,428.28 L1017.21,427.23 L1018.81,426.17 L1020.41,425.10 L1021.99,424.03 L1023.56,422.95 L1025.13,421.87 L1026.69,420.79 L1028.24,419.70 L1029.78,418.60 L1031.32,417.51 L1032.84,416.40 L1034.36,415.29 L1035.87,414.18 L1037.38,413.06 L1038.87,411.94 L1040.35,410.82 L1041.82,409.69 L1043.29,408.56 L1044.74,407.42 L1046.18,406.28 L1047.61,405.14 L1049.03,403.99 L1050.44,402.84 L1051.84,401.68 L1053.22,400.53 L1054.60,399.36 L1055.96,398.20 L1057.30,397.03 L1058.64,395.86 L1059.95,394.69 L1061.25,393.51 L1062.54,392.34 L1063.80,391.15 L1065.04,389.97 L1066.27,388.78 L1067.47,387.59 L1068.65,386.40 L1069.82,385.21 L1070.96,384.01 L1072.08,382.81 L1073.19,381.61 L1074.28,380.41 L1075.37,379.21 L1076.44,378.00 L1077.50,376.79 L1078.55,375.58 L1079.59,374.37 L1080.63,373.16 L1081.66,371.95 L1082.68,370.73 L1083.69,369.52 L1084.68,368.30 L1085.66,367.08 L1086.62,365.86 L1087.56,364.64 L1088.49,363.42 L1089.40,362.19 L1090.28,360.97 L1091.15,359.74 L1092.00,358.52 L1092.83,357.29 L1093.64,356.06 L1094.44,354.84 L1095.22,353.61 L1095.99,352.38 L1096.75,351.15 L1097.49,349.92 L1098.22,348.69 L1098.94,347.46 L1099.64,346.23 L1100.32,345.00 L1100.99,343.77 L1101.65,342.54 L1102.29,341.30 L1102.91,340.07 L1103.52,338.84 L1104.11,337.61 L1104.68,336.38 L1105.23,335.15 L1105.77,333.92 L1106.28,332.69 L1106.78,331.46 L1107.27,330.23 L1107.73,329.00 L1108.18,327.77 L1108.61,326.53 L1109.02,325.30 L1109.41,324.07 L1109.80,322.84 L1110.16,321.61 L1110.52,320.38 L1110.87,319.15 L1111.00,317.92 L1111.00,316.69 L1111.00,315.46 L1111.00,314.23 L1111.00,313.00 L1111.00,311.77 L1111.00,310.54 L1111.00,309.31 L1111.00,308.07 L1111.00,306.84 L1111.00,305.61 L1111.00,304.38 L1111.00,303.15 L1111.00,301.92 L1111.00,300.69 L1111.00,299.46 L1111.00,298.23 L1111.00,297.00 L1111.00,295.77 L1111.00,294.54 L1111.00,293.31 L1111.00,292.08 L1111.00,290.84 L1111.00,289.61 L1111.00,288.38 L1111.00,287.15 L1111.00,285.92 L1111.00,284.69 L1111.00,283.46 L1111.00,282.23 L1111.00,281.00 L1111.00,279.77 L1111.00,278.54 L1111.00,277.31 L1111.00,276.08 L1111.00,274.85 L1111.00,273.61 L1111.00,272.38 L1111.00,271.15 L1111.00,269.92 L1111.00,268.69 L1111.00,267.46 L1111.00,266.23 L1111.00,265.00 L1111.00,263.77 L1111.00,262.54 L1111.00,261.31 L1111.00,260.08 L1111.00,258.85 L1111.00,257.62 L1111.00,256.39 L1111.00,255.15 L1111.00,253.92 L1111.00,252.69 L1111.00,251.46 L1111.00,250.23 L1111.00,249.00 L1111.00,247.77 L1111.00,246.54 L1111.00,245.31 L1111.00,244.08 L1111.00,242.85 L1111.00,241.62 L1111.00,240.39 L1111.00,239.16 L1111.00,237.92 L1111.00,236.69 L1111.00,235.46 L1111.00,234.23 L1111.00,233.00 L1111.00,231.77 L1111.00,230.54 L1111.00,229.31 L1111.00,228.08 L1111.00,226.85 L1111.00,225.62 L1111.00,224.39 L1111.00,223.16 L1111.00,221.93 L1111.00,220.69 L1111.00,219.46 L1111.00,218.23 L1111.00,217.00 L1111.00,215.77 L1111.00,214.54 L1111.00,213.31 L1111.00,212.08 L1110.87,210.85 L1110.52,209.62 L1110.16,208.39 L1109.80,207.16 L1109.41,205.93 L1109.02,204.70 L1108.61,203.47 L1108.18,202.23 L1107.73,201.00 L1107.27,199.77 L1106.78,198.54 L1106.28,197.31 L1105.77,196.08 L1105.23,194.85 L1104.68,193.62 L1104.11,192.39 L1103.52,191.16 L1102.91,189.93 L1102.29,188.70 L1101.65,187.46 L1100.99,186.23 L1100.32,185.00 L1099.64,183.77 L1098.94,182.54 L1098.22,181.31 L1097.49,180.08 L1096.75,178.85 L1095.99,177.62 L1095.22,176.39 L1094.44,175.16 L1093.64,173.94 L1092.83,172.71 L1092.00,171.48 L1091.15,170.26 L1090.28,169.03 L1089.40,167.81 L1088.49,166.58 L1087.56,165.36 L1086.62,164.14 L1085.66,162.92 L1084.68,161.70 L1083.69,160.48 L1082.68,159.27 L1081.66,158.05 L1080.63,156.84 L1079.59,155.63 L1078.55,154.42 L1077.50,153.21 L1076.44,152.00 L1075.37,150.79 L1074.28,149.59 L1073.19,148.39 L1072.08,147.19 L1070.96,145.99 L1069.82,144.79 L1068.65,143.60 L1067.47,142.41 L1066.27,141.22 L1065.04,140.03 L1063.80,138.85 L1062.54,137.66 L1061.25,136.49 L1059.95,135.31 L1058.64,134.14 L1057.30,132.97 L1055.96,131.80 L1054.60,130.64 L1053.22,129.47 L1051.84,128.32 L1050.44,127.16 L1049.03,126.01 L1047.61,124.86 L1046.18,123.72 L1044.74,122.58 L1043.29,121.44 L1041.82,120.31 L1040.35,119.18 L1038.87,118.06 L1037.38,116.94 L1035.87,115.82 L1034.36,114.71 L1032.84,113.60 L1031.32,112.49 L1029.78,111.40 L1028.24,110.30 L1026.69,109.21 L1025.13,108.13 L1023.56,107.05 L1021.99,105.97 L1020.41,104.90 L1018.81,103.83 L1017.21,102.77 L1015.60,101.72 L1013.98,100.67 L1012.35,99.63 L1010.70,98.59 L1009.04,97.57 L1007.37,96.54 L1005.68,95.52 L1003.97,94.51 L1002.24,93.51 L1000.49,92.51 L998.71,91.52 L996.90,90.54 L995.06,89.56 L993.18,88.59 L991.27,87.62 L989.32,86.66 L987.34,85.71 L985.33,84.77 L983.30,83.84 L981.25,82.92 L979.19,82.01 L977.13,81.11 L975.06,80.23 L973.01,79.37 L970.96,78.53 L968.93,77.70 L966.92,76.90 L964.93,76.11 L962.96,75.35 L961.02,74.61 L959.11,73.89 L957.22,73.19 L955.36,72.52 L953.54,71.87 L951.74,71.24 L949.99,70.65 L948.27,70.07 L946.59,69.53 L944.95,69.01 L943.36,68.52 L941.81,68.05 L940.30,67.62 L938.85,67.22 L937.44,66.84 L936.09,66.50 L519.51,66.50 L518.16,66.84 L516.75,67.22 L515.30,67.62 L513.79,68.05 L512.24,68.52 L510.65,69.01 L509.01,69.53 L507.33,70.07 L505.61,70.65 L503.86,71.24 L502.06,71.87 L500.24,72.52 L498.38,73.19 L496.49,73.89 L494.58,74.61 L492.64,75.35 L490.67,76.11 L488.68,76.90 L486.67,77.70 L484.64,78.53 L482.59,79.37 L480.54,80.23 L478.47,81.11 L476.41,82.01 L474.35,82.92 L472.30,83.84 L470.27,84.77 L468.26,85.71 L466.28,86.66 L464.33,87.62 L462.42,88.59 L460.54,89.56 L458.70,90.54 L456.89,91.52 L455.11,92.51 L453.36,93.51 L451.63,94.51 L449.92,95.52 L448.23,96.54 L446.56,97.57 L444.90,98.59 L443.25,99.63 L441.62,100.67 L440.00,101.72 L438.39,102.77 L436.79,103.83 L435.19,104.90 L433.61,105.97 L432.04,107.05 L430.47,108.13 L428.91,109.21 L427.36,110.30 L425.82,111.40 L424.28,112.49 L422.76,113.60 L421.24,114.71 L419.73,115.82 L418.22,116.94 L416.73,118.06 L415.25,119.18 L413.78,120.31 L412.31,121.44 L410.86,122.58 L409.42,123.72 L407.99,124.86 L406.57,126.01 L405.16,127.16 L403.76,128.32 L402.38,129.47 L401.00,130.64 L399.64,131.80 L398.30,132.97 L396.96,134.14 L395.65,135.31 L394.35,136.49 L393.06,137.66 L391.80,138.85 L390.56,140.03 L389.33,141.22 L388.13,142.41 L386.95,143.60 L385.78,144.79 L384.64,145.99 L383.52,147.19 L382.41,148.39 L381.32,149.59 L380.23,150.79 L379.16,152.00 L378.10,153.21 L377.05,154.42 L376.01,155.63 L374.97,156.84 L373.94,158.05 L372.92,159.27 L371.91,160.48 L370.92,161.70 L369.94,162.92 L368.98,164.14 L368.04,165.36 L367.11,166.58 L366.20,167.81 L365.32,169.03 L364.45,170.26 L363.60,171.48 L362.77,172.71 L361.96,173.94 L361.16,175.16 L360.38,176.39 L359.61,177.62 L358.85,178.85 L358.11,180.08 L357.38,181.31 L356.66,182.54 L355.96,183.77 L355.28,185.00 L354.61,186.23 L353.95,187.46 L353.31,188.70 L352.69,189.93 L352.08,191.16 L351.49,192.39 L350.92,193.62 L350.37,194.85 L349.83,196.08 L349.32,197.31 L348.82,198.54 L348.33,199.77 L347.87,201.00 L347.42,202.23 L346.99,203.47 L346.58,204.70 L346.19,205.93 L345.80,207.16 L345.44,208.39 L345.08,209.62 L344.73,210.85 L344.50,212.08 L344.50,213.31 L344.50,214.54 L344.50,215.77 L344.50,217.00 L344.50,218.23 L344.50,219.46 L344.50,220.69 L344.50,221.93 L344.50,223.16 L344.50,224.39 L344.50,225.62 L344.50,226.85 L344.50,228.08 L344.50,229.31 L344.50,230.54 L344.50,231.77 L344.50,233.00 L344.50,234.23 L344.50,235.46 L344.50,236.69 L344.50,237.92 L344.50,239.16 L344.50,240.39 L344.50,241.62 L344.50,242.85 L344.50,244.08 L344.50,245.31 L344.50,246.54 L344.50,247.77 L344.50,249.00 L344.50,250.23 L344.50,251.46 L344.50,252.69 L344.50,253.92 L344.50,255.15 L344.50,256.39 L344.50,257.62 L344.50,258.85 L344.50,260.08 L344.50,261.31 L344.50,262.54 L344.50,263.77 L344.50,265.00 L344.50,266.23 L344.50,267.46 L344.50,268.69 L344.50,269.92 L344.50,271.15 L344.50,272.38 L344.50,273.61 L344.50,274.85 L344.50,276.08 L344.50,277.31 L344.50,278.54 L344.50,279.77 L344.50,281.00 L344.50,282.23 L344.50,283.46 L344.50,284.69 L344.50,285.92 L344.50,287.15 L344.50,288.38 L344.50,289.61 L344.50,290.84 L344.50,292.08 L344.50,293.31 L344.50,294.54 L344.50,295.77 L344.50,297.00 L344.50,298.23 L344.50,299.46 L344.50,300.69 L344.50,301.92 L344.50,303.15 L344.50,304.38 L344.50,305.61 L344.50,306.84 L344.50,308.07 L344.50,309.31 L344.50,310.54 L344.50,311.77 L344.50,313.00 L344.50,314.23 L344.50,315.46 L344.50,316.69 L344.50,317.92 L344.73,319.15 L345.08,320.38 L345.44,321.61 L345.80,322.84 L346.19,324.07 L346.58,325.30 L346.99,326.53 L347.42,327.77 L347.87,329.00 L348.33,330.23 L348.82,331.46 L349.32,332.69 L349.83,333.92 L350.37,335.15 L350.92,336.38 L351.49,337.61 L352.08,338.84 L352.69,340.07 L353.31,341.30 L353.95,342.54 L354.61,343.77 L355.28,345.00 L355.96,346.23 L356.66,347.46 L357.38,348.69 L358.11,349.92 L358.85,351.15 L359.61,352.38 L360.38,353.61 L361.16,354.84 L361.96,356.06 L362.77,357.29 L363.60,358.52 L364.45,359.74 L365.32,360.97 L366.20,362.19 L367.11,363.42 L368.04,364.64 L368.98,365.86 L369.94,367.08 L370.92,368.30 L371.91,369.52 L372.92,370.73 L373.94,371.95 L374.97,373.16 L376.01,374.37 L377.05,375.58 L378.10,376.79 L379.16,378.00 L380.23,379.21 L381.32,380.41 L382.41,381.61 L383.52,382.81 L384.64,384.01 L385.78,385.21 L386.95,386.40 L388.13,387.59 L389.33,388.78 L390.56,389.97 L391.80,391.15 L393.06,392.34 L394.35,393.51 L395.65,394.69 L396.96,395.86 L398.30,397.03 L399.64,398.20 L401.00,399.36 L402.38,400.53 L403.76,401.68 L405.16,402.84 L406.57,403.99 L407.99,405.14 L409.42,406.28 L410.86,407.42 L412.31,408.56 L413.78,409.69 L415.25,410.82 L416.73,411.94 L418.22,413.06 L419.73,414.18 L421.24,415.29 L422.76,416.40 L424.28,417.51 L425.82,418.60 L427.36,419.70 L428.91,420.79 L430.47,421.87 L432.04,422.95 L433.61,424.03 L435.19,425.10 L436.79,426.17 L438.39,427.23 L440.00,428.28 L441.62,429.33 L443.25,430.37 L444.90,431.41 L446.56,432.43 L448.23,433.46 L449.92,434.48 L451.63,435.49 L453.36,436.49 L455.11,437.49 L456.89,438.48 L458.70,439.46 L460.54,440.44 L462.42,441.41 L464.33,442.38 L466.28,443.34 L468.26,444.29 L470.27,445.23 L472.30,446.16 L474.35,447.08 L476.41,447.99 L478.47,448.89 L480.54,449.77 L482.59,450.63 L484.64,451.47 L486.67,452.30 L488.68,453.10 L490.67,453.89 L492.64,454.65 L494.58,455.39 L496.49,456.11 L498.38,456.81 L500.24,457.48 L502.06,458.13 L503.86,458.76 L505.61,459.35 L507.33,459.93 L509.01,460.47 L510.65,460.99 L512.24,461.48 L513.79,461.95 L515.30,462.38 L516.75,462.78 L518.16,463.16 L519.51,463.50Z" fill="none" stroke="#000" stroke-width="1.2" stroke-linejoin="round"/>
<g><rect x="1179.60" y="433.17" width="19.70" height="12.63" fill="#a70b44"/>
<rect x="1179.60" y="421.13" width="19.70" height="12.63" fill="#b81e48"/>
<rect x="1179.60" y="409.10" width="19.70" height="12.63" fill="#cb334d"/>
<rect x="1179.60" y="397.07" width="19.70" height="12.63" fill="#d9444d"/>
<rect x="1179.60" y="385.03" width="19.70" height="12.63" fill="#e45549"/>
<rect x="1179.60" y="373.00" width="19.70" height="12.63" fill="#ee6445"/>
<rect x="1179.60" y="360.97" width="19.70" height="12.63" fill="#f57748"/>
<rect x="1179.60" y="348.93" width="19.70" height="12.63" fill="#f98e52"/>
<rect x="1179.60" y="336.90" width="19.70" height="12.63" fill="#fba35c"/>
<rect x="1179.60" y="324.87" width="19.70" height="12.63" fill="#fdb768"/>
<rect x="1179.60" y="312.83" width="19.70" height="12.63" fill="#fdc776"/>
<rect x="1179.60" y="300.80" width="19.70" height="12.63" fill="#fed884"/>
<rect x="1179.60" y="288.77" width="19.70" height="12.63" fill="#fee593"/>
<rect x="1179.60" y="276.73" width="19.70" height="12.63" fill="#fff0a6"/>
<rect x="1179.60" y="264.70" width="19.70" height="12.63" fill="#fffab6"/>
<rect x="1179.60" y="252.67" width="19.70" height="12.63" fill="#fbfdb8"/>
<rect x="1179.60" y="240.63" width="19.70" height="12.63" fill="#f3faac"/>
<rect x="1179.60" y="228.60" width="19.70" height="12.63" fill="#eaf79e"/>
<rect x="1179.60" y="216.57" width="19.70" height="12.63" fill="#ddf19a"/>
<rect x="1179.60" y="204.53" width="19.70" height="12.63" fill="#c8e99e"/>
<rect x="1179.60" y="192.50" width="19.70" height="12.63" fill="#b5e1a2"/>
<rect x="1179.60" y="180.47" width="19.70" height="12.63" fill="#9fd8a4"/>
<rect x="1179.60" y="168.43" width="19.70" height="12.63" fill="#86cfa5"/>
<rect x="1179.60" y="156.40" width="19.70" height="12.63" fill="#71c6a5"/>
<rect x="1179.60" y="144.37" width="19.70" height="12.63" fill="#5cb7aa"/>
<rect x="1179.60" y="132.33" width="19.70" height="12.63" fill="#4ba4b1"/>
<rect x="1179.60" y="120.30" width="19.70" height="12.63" fill="#3990ba"/>
<rect x="1179.60" y="108.27" width="19.70" height="12.63" fill="#3a7eb8"/>
<rect x="1179.60" y="96.23" width="19.70" height="12.63" fill="#496aaf"/>
<rect x="1179.60" y="84.20" width="19.70" height="12.63" fill="#5758a6"/>
<path d="M1179.60,84.80 L1189.45,66.45 L1199.30,84.80 Z" fill="#5e4fa2"/>
<path d="M1179.60,445.20 L1189.45,463.55 L1199.30,445.20 Z" fill="#9e0142"/>
<path d="M1179.60,84.50 L1189.45,66.45 L1199.30,84.50 L1199.30,445.50 L1189.45,463.55 L1179.60,445.50 Z" fill="none" stroke="#000" stroke-width="1.1" stroke-linejoin="miter"/>
<path d="M1199.8,120.60 h4.9" stroke="#000" stroke-width="1.1"/>
<path d="M1199.8,192.80 h4.9" stroke="#000" stroke-width="1.1"/>
<path d="M1199.8,265.00 h4.9" stroke="#000" stroke-width="1.1"/>
<path d="M1199.8,337.20 h4.9" stroke="#000" stroke-width="1.1"/>
<path d="M1199.8,409.40 h4.9" stroke="#000" stroke-width="1.1"/></g>
<g><text x="550.0" y="37.6" font-size="28.60" text-anchor="start" textLength="101.5" lengthAdjust="spacingAndGlyphs" >TUD-5d</text>
<text x="663.5" y="37.6" font-size="28.60" text-anchor="start" textLength="52.0" lengthAdjust="spacingAndGlyphs" >(v0)</text>
<text x="728.0" y="37.6" font-size="28.60" text-anchor="start" textLength="10.5" lengthAdjust="spacingAndGlyphs" >-</text>
<text x="746.4" y="37.6" font-size="28.60" text-anchor="start" textLength="158.5" lengthAdjust="spacingAndGlyphs" >18/09/2007</text>
<text x="498.2" y="58.9" font-size="15.60" text-anchor="start" textLength="33.5" lengthAdjust="spacingAndGlyphs" >180°</text>
<text x="565.1" y="56.7" font-size="15.60" text-anchor="start" textLength="49.0" lengthAdjust="spacingAndGlyphs" >120°W</text>
<text x="638.6" y="56.7" font-size="15.60" text-anchor="start" textLength="39.6" lengthAdjust="spacingAndGlyphs" >60°W</text>
<text x="719.6" y="56.7" font-size="15.60" text-anchor="start" textLength="16.0" lengthAdjust="spacingAndGlyphs" >0°</text>
<text x="778.2" y="56.7" font-size="15.60" text-anchor="start" textLength="37.5" lengthAdjust="spacingAndGlyphs" >60°E</text>
<text x="842.9" y="56.7" font-size="15.60" text-anchor="start" textLength="47.0" lengthAdjust="spacingAndGlyphs" >120°E</text>
<text x="923.8" y="58.9" font-size="15.60" text-anchor="start" textLength="33.5" lengthAdjust="spacingAndGlyphs" >180°</text>
<text x="498.2" y="481.0" font-size="15.60" text-anchor="start" textLength="33.5" lengthAdjust="spacingAndGlyphs" >180°</text>
<text x="565.1" y="481.6" font-size="15.60" text-anchor="start" textLength="49.0" lengthAdjust="spacingAndGlyphs" >120°W</text>
<text x="638.6" y="481.6" font-size="15.60" text-anchor="start" textLength="39.6" lengthAdjust="spacingAndGlyphs" >60°W</text>
<text x="719.6" y="481.6" font-size="15.60" text-anchor="start" textLength="16.0" lengthAdjust="spacingAndGlyphs" >0°</text>
<text x="778.2" y="481.6" font-size="15.60" text-anchor="start" textLength="37.5" lengthAdjust="spacingAndGlyphs" >60°E</text>
<text x="842.9" y="481.6" font-size="15.60" text-anchor="start" textLength="47.0" lengthAdjust="spacingAndGlyphs" >120°E</text>
<text x="923.8" y="481.0" font-size="15.60" text-anchor="start" textLength="33.5" lengthAdjust="spacingAndGlyphs" >180°</text>
<text x="368.6" y="123.8" font-size="15.60" text-anchor="start" textLength="36.5" lengthAdjust="spacingAndGlyphs" >60°N</text>
<text x="308.4" y="195.8" font-size="15.60" text-anchor="start" textLength="36.5" lengthAdjust="spacingAndGlyphs" >30°N</text>
<text x="320.5" y="269.6" font-size="15.60" text-anchor="start" textLength="16.0" lengthAdjust="spacingAndGlyphs" >0°</text>
<text x="308.7" y="343.0" font-size="15.60" text-anchor="start" textLength="36.0" lengthAdjust="spacingAndGlyphs" >30°S</text>
<text x="370.0" y="415.0" font-size="15.60" text-anchor="start" textLength="36.0" lengthAdjust="spacingAndGlyphs" >60°S</text>
<text x="1048.8" y="123.8" font-size="15.60" text-anchor="start" textLength="36.5" lengthAdjust="spacingAndGlyphs" >60°N</text>
<text x="1048.5" y="415.0" font-size="15.60" text-anchor="start" textLength="36.0" lengthAdjust="spacingAndGlyphs" >60°S</text>
<text x="1209.3" y="126.3" font-size="15.60" text-anchor="start" textLength="17.5" lengthAdjust="spacingAndGlyphs" >20</text>
<text x="1209.3" y="198.5" font-size="15.60" text-anchor="start" textLength="17.5" lengthAdjust="spacingAndGlyphs" >10</text>
<text x="1209.3" y="270.7" font-size="15.60" text-anchor="start" textLength="8.3" lengthAdjust="spacingAndGlyphs" >0</text>
<text x="1210.5" y="342.9" font-size="15.60" text-anchor="start" textLength="29.5" lengthAdjust="spacingAndGlyphs" >−10</text>
<text x="1210.5" y="415.1" font-size="15.60" text-anchor="start" textLength="29.5" lengthAdjust="spacingAndGlyphs" >−20</text>
<text transform="translate(1260.8,312.8) rotate(-90)" font-size="19.6" textLength="94.5" lengthAdjust="spacingAndGlyphs">EWH [cm]</text></g>
</svg>
</body></html>
